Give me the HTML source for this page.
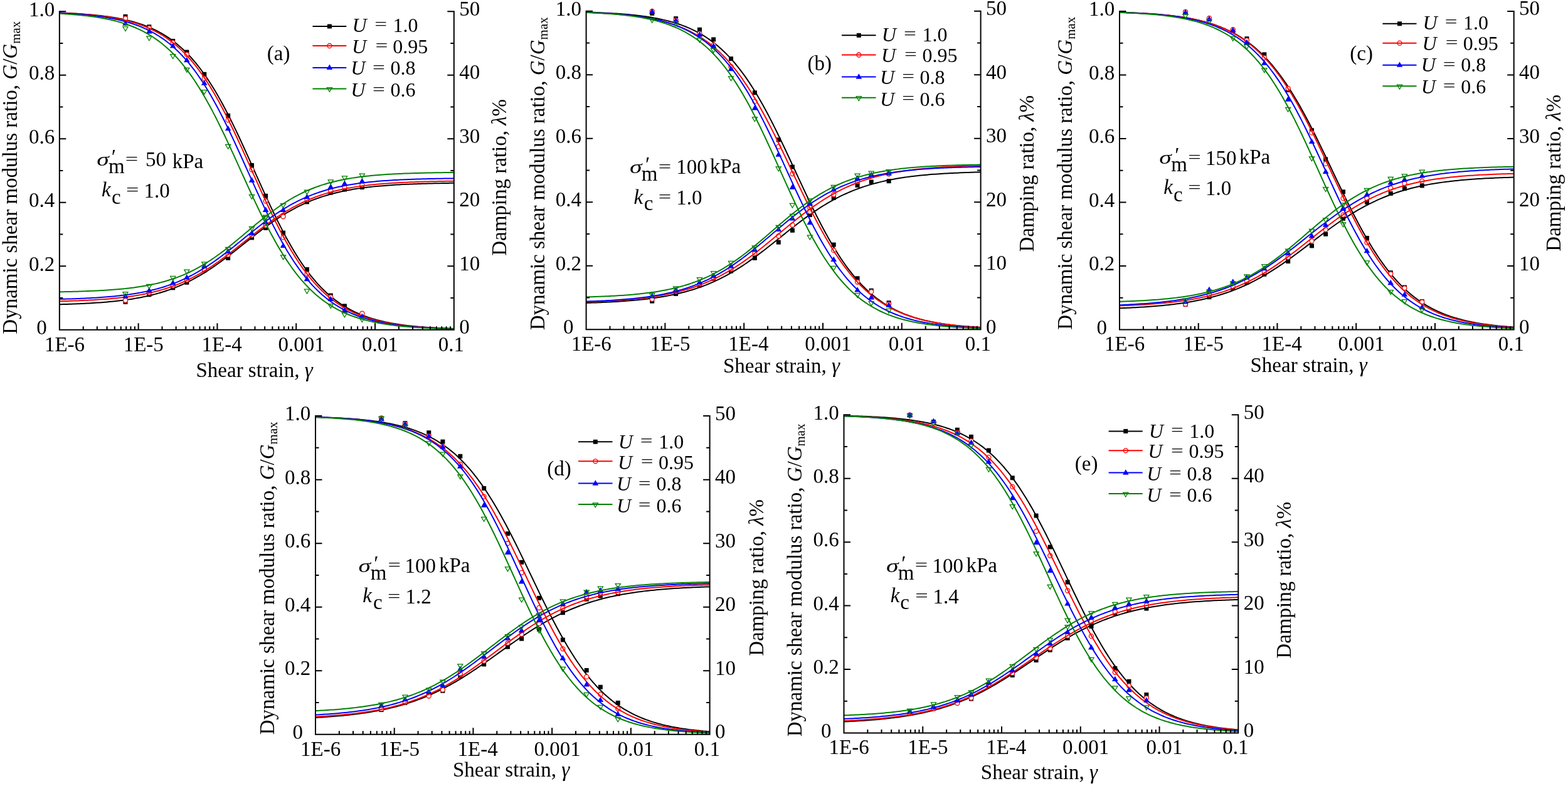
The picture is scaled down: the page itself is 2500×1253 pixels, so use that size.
<!DOCTYPE html>
<html><head><meta charset="utf-8"><style>html,body{margin:0;padding:0;background:#fff}svg{display:block}text{font-family:"Liberation Serif","Times New Roman",serif;fill:#000}</style></head>
<body><svg xmlns="http://www.w3.org/2000/svg" width="2500" height="1253" viewBox="0 0 2500 1253">
<rect width="2500" height="1253" fill="#fff"/>
<rect x="196.47" y="22.84" width="7.0" height="7.0" fill="#000"/>
<rect x="196.47" y="477.88" width="7.0" height="7.0" fill="#000"/>
<rect x="234.34" y="39.22" width="7.0" height="7.0" fill="#000"/>
<rect x="234.34" y="466.21" width="7.0" height="7.0" fill="#000"/>
<rect x="272.20" y="61.90" width="7.0" height="7.0" fill="#000"/>
<rect x="272.20" y="455.32" width="7.0" height="7.0" fill="#000"/>
<rect x="294.36" y="79.54" width="7.0" height="7.0" fill="#000"/>
<rect x="294.36" y="446.76" width="7.0" height="7.0" fill="#000"/>
<rect x="322.26" y="114.83" width="7.0" height="7.0" fill="#000"/>
<rect x="322.26" y="427.31" width="7.0" height="7.0" fill="#000"/>
<rect x="360.13" y="180.85" width="7.0" height="7.0" fill="#000"/>
<rect x="360.13" y="407.86" width="7.0" height="7.0" fill="#000"/>
<rect x="397.99" y="260.04" width="7.0" height="7.0" fill="#000"/>
<rect x="397.99" y="375.44" width="7.0" height="7.0" fill="#000"/>
<rect x="420.15" y="308.79" width="7.0" height="7.0" fill="#000"/>
<rect x="420.15" y="359.88" width="7.0" height="7.0" fill="#000"/>
<rect x="448.05" y="367.66" width="7.0" height="7.0" fill="#000"/>
<rect x="448.05" y="340.43" width="7.0" height="7.0" fill="#000"/>
<rect x="485.92" y="426.01" width="7.0" height="7.0" fill="#000"/>
<rect x="485.92" y="318.39" width="7.0" height="7.0" fill="#000"/>
<rect x="523.78" y="467.51" width="7.0" height="7.0" fill="#000"/>
<rect x="523.78" y="303.61" width="7.0" height="7.0" fill="#000"/>
<rect x="545.94" y="484.36" width="7.0" height="7.0" fill="#000"/>
<rect x="545.94" y="298.42" width="7.0" height="7.0" fill="#000"/>
<rect x="573.84" y="498.63" width="7.0" height="7.0" fill="#000"/>
<rect x="573.84" y="295.05" width="7.0" height="7.0" fill="#000"/>
<polyline points="94.85,20.43 98.01,20.55 101.17,20.68 104.33,20.82 107.49,20.96 110.65,21.11 113.81,21.27 116.97,21.44 120.13,21.62 123.29,21.81 126.46,22.01 129.62,22.22 132.78,22.44 135.94,22.68 139.10,22.92 142.26,23.19 145.42,23.46 148.58,23.75 151.74,24.06 154.90,24.39 158.06,24.73 161.22,25.10 164.38,25.48 167.54,25.88 170.70,26.31 173.86,26.76 177.02,27.24 180.18,27.74 183.35,28.27 186.51,28.83 189.67,29.41 192.83,30.04 195.99,30.69 199.15,31.38 202.31,32.11 205.47,32.88 208.63,33.68 211.79,34.54 214.95,35.43 218.11,36.38 221.27,37.37 224.43,38.42 227.59,39.53 230.75,40.69 233.91,41.91 237.07,43.19 240.24,44.54 243.40,45.96 246.56,47.45 249.72,49.02 252.88,50.67 256.04,52.39 259.20,54.21 262.36,56.11 265.52,58.10 268.68,60.19 271.84,62.38 275.00,64.67 278.16,67.07 281.32,69.57 284.48,72.20 287.64,74.94 290.80,77.80 293.96,80.78 297.13,83.89 300.29,87.14 303.45,90.51 306.61,94.03 309.77,97.68 312.93,101.48 316.09,105.42 319.25,109.51 322.41,113.75 325.57,118.13 328.73,122.67 331.89,127.36 335.05,132.20 338.21,137.19 341.37,142.33 344.53,147.61 347.69,153.05 350.85,158.62 354.02,164.34 357.18,170.20 360.34,176.18 363.50,182.30 366.66,188.53 369.82,194.88 372.98,201.34 376.14,207.90 379.30,214.55 382.46,221.29 385.62,228.10 388.78,234.98 391.94,241.91 395.10,248.89 398.26,255.91 401.42,262.95 404.58,270.00 407.74,277.06 410.91,284.11 414.07,291.14 417.23,298.14 420.39,305.11 423.55,312.02 426.71,318.87 429.87,325.65 433.03,332.35 436.19,338.97 439.35,345.48 442.51,351.90 445.67,358.20 448.83,364.39 451.99,370.45 455.15,376.38 458.31,382.18 461.47,387.83 464.63,393.35 467.80,398.72 470.96,403.95 474.12,409.03 477.28,413.95 480.44,418.73 483.60,423.35 486.76,427.83 489.92,432.15 493.08,436.32 496.24,440.35 499.40,444.23 502.56,447.97 505.72,451.56 508.88,455.02 512.04,458.34 515.20,461.53 518.36,464.59 521.52,467.52 524.69,470.33 527.85,473.02 531.01,475.59 534.17,478.05 537.33,480.41 540.49,482.65 543.65,484.80 546.81,486.85 549.97,488.80 553.13,490.67 556.29,492.44 559.45,494.13 562.61,495.75 565.77,497.28 568.93,498.74 572.09,500.13 575.25,501.45 578.41,502.71 581.58,503.91 584.74,505.04 587.90,506.12 591.06,507.15 594.22,508.12 597.38,509.05 600.54,509.93 603.70,510.76 606.86,511.55 610.02,512.30 613.18,513.01 616.34,513.69 619.50,514.33 622.66,514.94 625.82,515.51 628.98,516.06 632.14,516.58 635.30,517.07 638.47,517.53 641.63,517.97 644.79,518.39 647.95,518.79 651.11,519.16 654.27,519.51 657.43,519.85 660.59,520.17 663.75,520.47 666.91,520.76 670.07,521.03 673.23,521.28 676.39,521.52 679.55,521.75 682.71,521.97 685.87,522.18 689.03,522.37 692.19,522.56 695.36,522.73 698.52,522.90 701.68,523.05 704.84,523.20 708.00,523.34 711.16,523.47 714.32,523.60 717.48,523.72 720.64,523.83 723.80,523.94" fill="none" stroke="#000000" stroke-width="2"/>
<polyline points="94.85,485.28 98.01,485.19 101.17,485.10 104.33,485.00 107.49,484.90 110.65,484.80 113.81,484.69 116.97,484.57 120.13,484.45 123.29,484.32 126.46,484.18 129.62,484.04 132.78,483.89 135.94,483.73 139.10,483.57 142.26,483.40 145.42,483.21 148.58,483.02 151.74,482.82 154.90,482.61 158.06,482.39 161.22,482.15 164.38,481.91 167.54,481.65 170.70,481.38 173.86,481.10 177.02,480.80 180.18,480.49 183.35,480.16 186.51,479.82 189.67,479.46 192.83,479.08 195.99,478.68 199.15,478.27 202.31,477.84 205.47,477.38 208.63,476.90 211.79,476.40 214.95,475.88 218.11,475.33 221.27,474.76 224.43,474.16 227.59,473.53 230.75,472.88 233.91,472.20 237.07,471.48 240.24,470.73 243.40,469.96 246.56,469.14 249.72,468.29 252.88,467.41 256.04,466.49 259.20,465.53 262.36,464.53 265.52,463.49 268.68,462.42 271.84,461.29 275.00,460.13 278.16,458.92 281.32,457.66 284.48,456.36 287.64,455.01 290.80,453.62 293.96,452.17 297.13,450.68 300.29,449.14 303.45,447.55 306.61,445.91 309.77,444.22 312.93,442.48 316.09,440.69 319.25,438.86 322.41,436.97 325.57,435.03 328.73,433.05 331.89,431.02 335.05,428.95 338.21,426.83 341.37,424.67 344.53,422.47 347.69,420.23 350.85,417.96 354.02,415.64 357.18,413.30 360.34,410.93 363.50,408.52 366.66,406.10 369.82,403.65 372.98,401.18 376.14,398.70 379.30,396.20 382.46,393.70 385.62,391.18 388.78,388.67 391.94,386.15 395.10,383.64 398.26,381.14 401.42,378.65 404.58,376.16 407.74,373.70 410.91,371.26 414.07,368.84 417.23,366.44 420.39,364.07 423.55,361.73 426.71,359.43 429.87,357.16 433.03,354.93 436.19,352.73 439.35,350.58 442.51,348.47 445.67,346.41 448.83,344.39 451.99,342.42 455.15,340.49 458.31,338.62 461.47,336.79 464.63,335.01 467.80,333.28 470.96,331.60 474.12,329.97 477.28,328.39 480.44,326.86 483.60,325.38 486.76,323.95 489.92,322.56 493.08,321.22 496.24,319.93 499.40,318.68 502.56,317.48 505.72,316.33 508.88,315.21 512.04,314.14 515.20,313.11 518.36,312.12 521.52,311.17 524.69,310.26 527.85,309.38 531.01,308.54 534.17,307.74 537.33,306.96 540.49,306.22 543.65,305.52 546.81,304.84 549.97,304.19 553.13,303.57 556.29,302.97 559.45,302.41 562.61,301.86 565.77,301.35 568.93,300.85 572.09,300.38 575.25,299.93 578.41,299.50 581.58,299.09 584.74,298.69 587.90,298.32 591.06,297.96 594.22,297.62 597.38,297.30 600.54,296.99 603.70,296.70 606.86,296.42 610.02,296.15 613.18,295.89 616.34,295.65 619.50,295.42 622.66,295.20 625.82,294.99 628.98,294.79 632.14,294.60 635.30,294.42 638.47,294.25 641.63,294.09 644.79,293.93 647.95,293.78 651.11,293.64 654.27,293.51 657.43,293.38 660.59,293.26 663.75,293.14 666.91,293.03 670.07,292.93 673.23,292.83 676.39,292.74 679.55,292.65 682.71,292.56 685.87,292.48 689.03,292.40 692.19,292.33 695.36,292.26 698.52,292.19 701.68,292.13 704.84,292.07 708.00,292.02 711.16,291.96 714.32,291.91 717.48,291.86 720.64,291.81 723.80,291.77" fill="none" stroke="#000000" stroke-width="2"/>
<circle cx="199.97" cy="29.36" r="3.5" fill="#fff" stroke="#ff0000" stroke-width="1.3"/>
<circle cx="199.97" cy="478.79" r="3.5" fill="#fff" stroke="#ff0000" stroke-width="1.3"/>
<circle cx="237.84" cy="44.74" r="3.5" fill="#fff" stroke="#ff0000" stroke-width="1.3"/>
<circle cx="237.84" cy="466.60" r="3.5" fill="#fff" stroke="#ff0000" stroke-width="1.3"/>
<circle cx="275.70" cy="67.92" r="3.5" fill="#fff" stroke="#ff0000" stroke-width="1.3"/>
<circle cx="275.70" cy="455.45" r="3.5" fill="#fff" stroke="#ff0000" stroke-width="1.3"/>
<circle cx="297.86" cy="86.82" r="3.5" fill="#fff" stroke="#ff0000" stroke-width="1.3"/>
<circle cx="297.86" cy="446.37" r="3.5" fill="#fff" stroke="#ff0000" stroke-width="1.3"/>
<circle cx="325.76" cy="125.13" r="3.5" fill="#fff" stroke="#ff0000" stroke-width="1.3"/>
<circle cx="325.76" cy="429.51" r="3.5" fill="#fff" stroke="#ff0000" stroke-width="1.3"/>
<circle cx="363.63" cy="191.41" r="3.5" fill="#fff" stroke="#ff0000" stroke-width="1.3"/>
<circle cx="363.63" cy="406.17" r="3.5" fill="#fff" stroke="#ff0000" stroke-width="1.3"/>
<circle cx="401.49" cy="270.54" r="3.5" fill="#fff" stroke="#ff0000" stroke-width="1.3"/>
<circle cx="401.49" cy="375.05" r="3.5" fill="#fff" stroke="#ff0000" stroke-width="1.3"/>
<circle cx="423.65" cy="320.59" r="3.5" fill="#fff" stroke="#ff0000" stroke-width="1.3"/>
<circle cx="423.65" cy="359.49" r="3.5" fill="#fff" stroke="#ff0000" stroke-width="1.3"/>
<circle cx="451.55" cy="378.42" r="3.5" fill="#fff" stroke="#ff0000" stroke-width="1.3"/>
<circle cx="451.55" cy="345.23" r="3.5" fill="#fff" stroke="#ff0000" stroke-width="1.3"/>
<circle cx="489.42" cy="436.51" r="3.5" fill="#fff" stroke="#ff0000" stroke-width="1.3"/>
<circle cx="489.42" cy="318.00" r="3.5" fill="#fff" stroke="#ff0000" stroke-width="1.3"/>
<circle cx="527.28" cy="473.60" r="3.5" fill="#fff" stroke="#ff0000" stroke-width="1.3"/>
<circle cx="527.28" cy="303.73" r="3.5" fill="#fff" stroke="#ff0000" stroke-width="1.3"/>
<circle cx="549.44" cy="493.05" r="3.5" fill="#fff" stroke="#ff0000" stroke-width="1.3"/>
<circle cx="549.44" cy="298.55" r="3.5" fill="#fff" stroke="#ff0000" stroke-width="1.3"/>
<circle cx="577.34" cy="499.53" r="3.5" fill="#fff" stroke="#ff0000" stroke-width="1.3"/>
<circle cx="577.34" cy="294.66" r="3.5" fill="#fff" stroke="#ff0000" stroke-width="1.3"/>
<polyline points="94.85,20.58 98.01,20.71 101.17,20.84 104.33,20.99 107.49,21.14 110.65,21.30 113.81,21.47 116.97,21.65 120.13,21.84 123.29,22.04 126.46,22.26 129.62,22.48 132.78,22.72 135.94,22.97 139.10,23.23 142.26,23.51 145.42,23.81 148.58,24.12 151.74,24.45 154.90,24.80 158.06,25.16 161.22,25.55 164.38,25.96 167.54,26.39 170.70,26.85 173.86,27.33 177.02,27.83 180.18,28.37 183.35,28.93 186.51,29.53 189.67,30.15 192.83,30.82 195.99,31.51 199.15,32.25 202.31,33.02 205.47,33.84 208.63,34.70 211.79,35.61 214.95,36.56 218.11,37.57 221.27,38.63 224.43,39.74 227.59,40.92 230.75,42.15 233.91,43.45 237.07,44.81 240.24,46.24 243.40,47.75 246.56,49.33 249.72,50.99 252.88,52.74 256.04,54.57 259.20,56.49 262.36,58.50 265.52,60.61 268.68,62.82 271.84,65.13 275.00,67.55 278.16,70.08 281.32,72.73 284.48,75.49 287.64,78.38 290.80,81.39 293.96,84.53 297.13,87.80 300.29,91.21 303.45,94.75 306.61,98.44 309.77,102.26 312.93,106.24 316.09,110.36 319.25,114.63 322.41,119.04 325.57,123.61 328.73,128.33 331.89,133.21 335.05,138.23 338.21,143.40 341.37,148.72 344.53,154.19 347.69,159.80 350.85,165.54 354.02,171.43 357.18,177.44 360.34,183.59 363.50,189.85 366.66,196.22 369.82,202.71 372.98,209.29 376.14,215.96 379.30,222.72 382.46,229.55 385.62,236.44 388.78,243.39 391.94,250.38 395.10,257.41 398.26,264.45 401.42,271.51 404.58,278.57 407.74,285.62 410.91,292.65 414.07,299.65 417.23,306.60 420.39,313.50 423.55,320.34 426.71,327.11 429.87,333.80 433.03,340.40 436.19,346.89 439.35,353.29 442.51,359.57 445.67,365.73 448.83,371.76 451.99,377.67 455.15,383.44 458.31,389.07 461.47,394.56 464.63,399.90 467.80,405.09 470.96,410.14 474.12,415.03 477.28,419.78 480.44,424.37 483.60,428.81 486.76,433.10 489.92,437.24 493.08,441.24 496.24,445.09 499.40,448.80 502.56,452.36 505.72,455.79 508.88,459.08 512.04,462.24 515.20,465.27 518.36,468.17 521.52,470.96 524.69,473.62 527.85,476.17 531.01,478.61 534.17,480.94 537.33,483.16 540.49,485.28 543.65,487.31 546.81,489.24 549.97,491.09 553.13,492.85 556.29,494.52 559.45,496.11 562.61,497.63 565.77,499.08 568.93,500.45 572.09,501.76 575.25,503.00 578.41,504.18 581.58,505.31 584.74,506.37 587.90,507.39 591.06,508.35 594.22,509.26 597.38,510.13 600.54,510.95 603.70,511.74 606.86,512.48 610.02,513.18 613.18,513.85 616.34,514.48 619.50,515.08 622.66,515.65 625.82,516.19 628.98,516.70 632.14,517.18 635.30,517.64 638.47,518.08 641.63,518.49 644.79,518.88 647.95,519.25 651.11,519.60 654.27,519.93 657.43,520.25 660.59,520.54 663.75,520.82 666.91,521.09 670.07,521.34 673.23,521.58 676.39,521.81 679.55,522.02 682.71,522.23 685.87,522.42 689.03,522.60 692.19,522.77 695.36,522.94 698.52,523.09 701.68,523.24 704.84,523.37 708.00,523.51 711.16,523.63 714.32,523.75 717.48,523.86 720.64,523.96 723.80,524.06" fill="none" stroke="#ff0000" stroke-width="2"/>
<polyline points="94.85,480.26 98.01,480.18 101.17,480.10 104.33,480.01 107.49,479.92 110.65,479.82 113.81,479.72 116.97,479.61 120.13,479.50 123.29,479.38 126.46,479.26 129.62,479.12 132.78,478.99 135.94,478.84 139.10,478.69 142.26,478.53 145.42,478.36 148.58,478.18 151.74,477.99 154.90,477.80 158.06,477.59 161.22,477.37 164.38,477.15 167.54,476.91 170.70,476.66 173.86,476.39 177.02,476.11 180.18,475.82 183.35,475.52 186.51,475.19 189.67,474.86 192.83,474.50 195.99,474.13 199.15,473.74 202.31,473.33 205.47,472.90 208.63,472.45 211.79,471.98 214.95,471.49 218.11,470.97 221.27,470.43 224.43,469.86 227.59,469.27 230.75,468.65 233.91,468.00 237.07,467.32 240.24,466.61 243.40,465.87 246.56,465.09 249.72,464.29 252.88,463.44 256.04,462.56 259.20,461.64 262.36,460.69 265.52,459.69 268.68,458.65 271.84,457.57 275.00,456.45 278.16,455.29 281.32,454.07 284.48,452.82 287.64,451.51 290.80,450.16 293.96,448.76 297.13,447.32 300.29,445.82 303.45,444.27 306.61,442.68 309.77,441.03 312.93,439.33 316.09,437.58 319.25,435.78 322.41,433.94 325.57,432.04 328.73,430.09 331.89,428.10 335.05,426.06 338.21,423.97 341.37,421.84 344.53,419.66 347.69,417.45 350.85,415.20 354.02,412.91 357.18,410.58 360.34,408.22 363.50,405.83 366.66,403.42 369.82,400.98 372.98,398.52 376.14,396.04 379.30,393.55 382.46,391.04 385.62,388.53 388.78,386.01 391.94,383.49 395.10,380.97 398.26,378.46 401.42,375.96 404.58,373.46 407.74,370.99 410.91,368.53 414.07,366.09 417.23,363.68 420.39,361.29 423.55,358.93 426.71,356.61 429.87,354.32 433.03,352.07 436.19,349.86 439.35,347.68 442.51,345.56 445.67,343.47 448.83,341.43 451.99,339.44 455.15,337.50 458.31,335.60 461.47,333.76 464.63,331.96 467.80,330.21 470.96,328.52 474.12,326.87 477.28,325.28 480.44,323.74 483.60,322.24 486.76,320.80 489.92,319.40 493.08,318.05 496.24,316.75 499.40,315.49 502.56,314.29 505.72,313.12 508.88,312.00 512.04,310.93 515.20,309.89 518.36,308.90 521.52,307.94 524.69,307.03 527.85,306.15 531.01,305.31 534.17,304.50 537.33,303.73 540.49,302.99 543.65,302.28 546.81,301.60 549.97,300.95 553.13,300.33 556.29,299.74 559.45,299.17 562.61,298.63 565.77,298.12 568.93,297.62 572.09,297.15 575.25,296.71 578.41,296.28 581.58,295.87 584.74,295.48 587.90,295.11 591.06,294.76 594.22,294.42 597.38,294.10 600.54,293.80 603.70,293.50 606.86,293.23 610.02,292.96 613.18,292.71 616.34,292.47 619.50,292.25 622.66,292.03 625.82,291.82 628.98,291.63 632.14,291.44 635.30,291.27 638.47,291.10 641.63,290.94 644.79,290.78 647.95,290.64 651.11,290.50 654.27,290.37 657.43,290.25 660.59,290.13 663.75,290.02 666.91,289.91 670.07,289.81 673.23,289.71 676.39,289.62 679.55,289.53 682.71,289.45 685.87,289.37 689.03,289.30 692.19,289.22 695.36,289.16 698.52,289.09 701.68,289.03 704.84,288.97 708.00,288.92 711.16,288.87 714.32,288.82 717.48,288.77 720.64,288.73 723.80,288.68" fill="none" stroke="#ff0000" stroke-width="2"/>
<path d="M199.97,32.38L204.77,40.78L195.17,40.78Z" fill="#0000ff"/>
<path d="M199.97,467.00L204.77,475.40L195.17,475.40Z" fill="#0000ff"/>
<path d="M237.84,44.98L242.64,53.38L233.04,53.38Z" fill="#0000ff"/>
<path d="M237.84,457.93L242.64,466.33L233.04,466.33Z" fill="#0000ff"/>
<path d="M275.70,68.17L280.50,76.57L270.90,76.57Z" fill="#0000ff"/>
<path d="M275.70,445.74L280.50,454.14L270.90,454.14Z" fill="#0000ff"/>
<path d="M297.86,90.85L302.66,99.25L293.06,99.25Z" fill="#0000ff"/>
<path d="M297.86,437.18L302.66,445.58L293.06,445.58Z" fill="#0000ff"/>
<path d="M325.76,127.39L330.56,135.79L320.96,135.79Z" fill="#0000ff"/>
<path d="M325.76,419.03L330.56,427.43L320.96,427.43Z" fill="#0000ff"/>
<path d="M363.63,199.97L368.43,208.37L358.83,208.37Z" fill="#0000ff"/>
<path d="M363.63,395.69L368.43,404.09L358.83,404.09Z" fill="#0000ff"/>
<path d="M401.49,282.36L406.29,290.76L396.69,290.76Z" fill="#0000ff"/>
<path d="M401.49,366.38L406.29,374.78L396.69,374.78Z" fill="#0000ff"/>
<path d="M423.65,329.55L428.45,337.95L418.85,337.95Z" fill="#0000ff"/>
<path d="M423.65,349.00L428.45,357.40L418.85,357.40Z" fill="#0000ff"/>
<path d="M451.55,386.61L456.35,395.01L446.75,395.01Z" fill="#0000ff"/>
<path d="M451.55,329.55L456.35,337.95L446.75,337.95Z" fill="#0000ff"/>
<path d="M489.42,439.77L494.22,448.17L484.62,448.17Z" fill="#0000ff"/>
<path d="M489.42,308.81L494.22,317.21L484.62,317.21Z" fill="#0000ff"/>
<path d="M527.28,471.67L532.08,480.07L522.48,480.07Z" fill="#0000ff"/>
<path d="M527.28,292.73L532.08,301.13L522.48,301.13Z" fill="#0000ff"/>
<path d="M549.44,489.82L554.24,498.22L544.64,498.22Z" fill="#0000ff"/>
<path d="M549.44,287.54L554.24,295.94L544.64,295.94Z" fill="#0000ff"/>
<path d="M577.34,499.42L582.14,507.82L572.54,507.82Z" fill="#0000ff"/>
<path d="M577.34,283.65L582.14,292.05L572.54,292.05Z" fill="#0000ff"/>
<polyline points="94.85,20.92 98.01,21.07 101.17,21.23 104.33,21.40 107.49,21.57 110.65,21.76 113.81,21.95 116.97,22.16 120.13,22.38 123.29,22.61 126.46,22.85 129.62,23.11 132.78,23.38 135.94,23.67 139.10,23.97 142.26,24.29 145.42,24.63 148.58,24.98 151.74,25.36 154.90,25.75 158.06,26.17 161.22,26.61 164.38,27.08 167.54,27.57 170.70,28.09 173.86,28.64 177.02,29.21 180.18,29.82 183.35,30.46 186.51,31.14 189.67,31.85 192.83,32.60 195.99,33.39 199.15,34.23 202.31,35.10 205.47,36.03 208.63,37.00 211.79,38.03 214.95,39.10 218.11,40.24 221.27,41.43 224.43,42.69 227.59,44.01 230.75,45.40 233.91,46.85 237.07,48.39 240.24,49.99 243.40,51.68 246.56,53.45 249.72,55.31 252.88,57.26 256.04,59.30 259.20,61.44 262.36,63.68 265.52,66.02 268.68,68.48 271.84,71.04 275.00,73.72 278.16,76.51 281.32,79.43 284.48,82.48 287.64,85.65 290.80,88.96 293.96,92.40 297.13,95.98 300.29,99.69 303.45,103.55 306.61,107.56 309.77,111.71 312.93,116.01 316.09,120.46 319.25,125.06 322.41,129.81 325.57,134.71 328.73,139.76 331.89,144.96 335.05,150.30 338.21,155.79 341.37,161.41 344.53,167.18 347.69,173.08 350.85,179.11 354.02,185.26 357.18,191.53 360.34,197.91 363.50,204.39 366.66,210.98 369.82,217.65 372.98,224.40 376.14,231.22 379.30,238.10 382.46,245.03 385.62,252.00 388.78,259.01 391.94,266.03 395.10,273.07 398.26,280.10 401.42,287.12 404.58,294.12 407.74,301.08 410.91,308.00 414.07,314.86 417.23,321.66 420.39,328.39 423.55,335.04 426.71,341.59 429.87,348.05 433.03,354.40 436.19,360.63 439.35,366.75 442.51,372.74 445.67,378.60 448.83,384.33 451.99,389.92 455.15,395.36 458.31,400.66 461.47,405.82 464.63,410.82 467.80,415.68 470.96,420.38 474.12,424.94 477.28,429.35 480.44,433.60 483.60,437.71 486.76,441.68 489.92,445.50 493.08,449.17 496.24,452.71 499.40,456.11 502.56,459.38 505.72,462.52 508.88,465.52 512.04,468.41 515.20,471.17 518.36,473.81 521.52,476.35 524.69,478.77 527.85,481.08 531.01,483.29 534.17,485.40 537.33,487.41 540.49,489.34 543.65,491.17 546.81,492.91 549.97,494.58 553.13,496.17 556.29,497.68 559.45,499.11 562.61,500.48 565.77,501.78 568.93,503.02 572.09,504.19 575.25,505.31 578.41,506.38 581.58,507.39 584.74,508.34 587.90,509.26 591.06,510.12 594.22,510.94 597.38,511.72 600.54,512.46 603.70,513.16 606.86,513.83 610.02,514.46 613.18,515.06 616.34,515.63 619.50,516.16 622.66,516.67 625.82,517.16 628.98,517.62 632.14,518.05 635.30,518.46 638.47,518.85 641.63,519.22 644.79,519.57 647.95,519.91 651.11,520.22 654.27,520.52 657.43,520.80 660.59,521.07 663.75,521.32 666.91,521.56 670.07,521.79 673.23,522.00 676.39,522.20 679.55,522.40 682.71,522.58 685.87,522.75 689.03,522.92 692.19,523.07 695.36,523.22 698.52,523.36 701.68,523.49 704.84,523.61 708.00,523.73 711.16,523.84 714.32,523.95 717.48,524.05 720.64,524.14 723.80,524.23" fill="none" stroke="#0000ff" stroke-width="2"/>
<polyline points="94.85,476.93 98.01,476.85 101.17,476.77 104.33,476.68 107.49,476.59 110.65,476.49 113.81,476.39 116.97,476.28 120.13,476.17 123.29,476.05 126.46,475.93 129.62,475.79 132.78,475.66 135.94,475.51 139.10,475.36 142.26,475.19 145.42,475.02 148.58,474.84 151.74,474.66 154.90,474.46 158.06,474.25 161.22,474.03 164.38,473.80 167.54,473.56 170.70,473.30 173.86,473.03 177.02,472.75 180.18,472.45 183.35,472.14 186.51,471.82 189.67,471.47 192.83,471.11 195.99,470.73 199.15,470.34 202.31,469.92 205.47,469.48 208.63,469.02 211.79,468.54 214.95,468.04 218.11,467.51 221.27,466.95 224.43,466.37 227.59,465.76 230.75,465.13 233.91,464.46 237.07,463.76 240.24,463.03 243.40,462.27 246.56,461.48 249.72,460.64 252.88,459.78 256.04,458.87 259.20,457.92 262.36,456.94 265.52,455.91 268.68,454.84 271.84,453.73 275.00,452.57 278.16,451.37 281.32,450.12 284.48,448.82 287.64,447.48 290.80,446.08 293.96,444.64 297.13,443.14 300.29,441.60 303.45,440.00 306.61,438.35 309.77,436.65 312.93,434.89 316.09,433.09 319.25,431.23 322.41,429.32 325.57,427.37 328.73,425.36 331.89,423.30 335.05,421.20 338.21,419.05 341.37,416.85 344.53,414.61 347.69,412.33 350.85,410.01 354.02,407.66 357.18,405.27 360.34,402.85 363.50,400.40 366.66,397.93 369.82,395.43 372.98,392.91 376.14,390.38 379.30,387.83 382.46,385.27 385.62,382.71 388.78,380.15 391.94,377.59 395.10,375.03 398.26,372.48 401.42,369.94 404.58,367.42 407.74,364.91 410.91,362.43 414.07,359.97 417.23,357.55 420.39,355.15 423.55,352.78 426.71,350.45 429.87,348.16 433.03,345.91 436.19,343.70 439.35,341.53 442.51,339.42 445.67,337.34 448.83,335.32 451.99,333.35 455.15,331.42 458.31,329.55 461.47,327.73 464.63,325.96 467.80,324.24 470.96,322.58 474.12,320.96 477.28,319.40 480.44,317.89 483.60,316.43 486.76,315.02 489.92,313.66 493.08,312.35 496.24,311.08 499.40,309.86 502.56,308.69 505.72,307.57 508.88,306.48 512.04,305.45 515.20,304.45 518.36,303.49 521.52,302.57 524.69,301.69 527.85,300.85 531.01,300.04 534.17,299.27 537.33,298.53 540.49,297.82 543.65,297.15 546.81,296.50 549.97,295.88 553.13,295.29 556.29,294.73 559.45,294.20 562.61,293.68 565.77,293.19 568.93,292.73 572.09,292.28 575.25,291.86 578.41,291.46 581.58,291.07 584.74,290.71 587.90,290.36 591.06,290.03 594.22,289.71 597.38,289.41 600.54,289.12 603.70,288.85 606.86,288.59 610.02,288.35 613.18,288.11 616.34,287.89 619.50,287.68 622.66,287.48 625.82,287.28 628.98,287.10 632.14,286.93 635.30,286.76 638.47,286.61 641.63,286.46 644.79,286.32 647.95,286.18 651.11,286.06 654.27,285.94 657.43,285.82 660.59,285.71 663.75,285.61 666.91,285.51 670.07,285.42 673.23,285.33 676.39,285.24 679.55,285.16 682.71,285.09 685.87,285.02 689.03,284.95 692.19,284.88 695.36,284.82 698.52,284.76 701.68,284.71 704.84,284.65 708.00,284.60 711.16,284.56 714.32,284.51 717.48,284.47 720.64,284.43 723.80,284.39" fill="none" stroke="#0000ff" stroke-width="2"/>
<path d="M199.97,49.64L204.07,42.74L195.87,42.74Z" fill="none" stroke="#008000" stroke-width="1.25"/>
<path d="M199.97,472.53L204.07,465.63L195.87,465.63Z" fill="none" stroke="#008000" stroke-width="1.25"/>
<path d="M237.84,64.76L241.94,57.86L233.74,57.86Z" fill="none" stroke="#008000" stroke-width="1.25"/>
<path d="M237.84,460.35L241.94,453.45L233.74,453.45Z" fill="none" stroke="#008000" stroke-width="1.25"/>
<path d="M275.70,93.49L279.80,86.59L271.60,86.59Z" fill="none" stroke="#008000" stroke-width="1.25"/>
<path d="M275.70,447.38L279.80,440.48L271.60,440.48Z" fill="none" stroke="#008000" stroke-width="1.25"/>
<path d="M297.86,115.16L301.96,108.26L293.76,108.26Z" fill="none" stroke="#008000" stroke-width="1.25"/>
<path d="M297.86,437.01L301.96,430.11L293.76,430.11Z" fill="none" stroke="#008000" stroke-width="1.25"/>
<path d="M325.76,150.44L329.86,143.54L321.66,143.54Z" fill="none" stroke="#008000" stroke-width="1.25"/>
<path d="M325.76,424.82L329.86,417.92L321.66,417.92Z" fill="none" stroke="#008000" stroke-width="1.25"/>
<path d="M363.63,237.32L367.73,230.42L359.53,230.42Z" fill="none" stroke="#008000" stroke-width="1.25"/>
<path d="M363.63,401.22L367.73,394.32L359.53,394.32Z" fill="none" stroke="#008000" stroke-width="1.25"/>
<path d="M401.49,317.19L405.59,310.29L397.39,310.29Z" fill="none" stroke="#008000" stroke-width="1.25"/>
<path d="M401.49,368.28L405.59,361.38L397.39,361.38Z" fill="none" stroke="#008000" stroke-width="1.25"/>
<path d="M423.65,351.42L427.75,344.52L419.55,344.52Z" fill="none" stroke="#008000" stroke-width="1.25"/>
<path d="M423.65,350.13L427.75,343.23L419.55,343.23Z" fill="none" stroke="#008000" stroke-width="1.25"/>
<path d="M451.55,413.67L455.65,406.77L447.45,406.77Z" fill="none" stroke="#008000" stroke-width="1.25"/>
<path d="M451.55,331.46L455.65,324.56L447.45,324.56Z" fill="none" stroke="#008000" stroke-width="1.25"/>
<path d="M489.42,468.13L493.52,461.23L485.32,461.23Z" fill="none" stroke="#008000" stroke-width="1.25"/>
<path d="M489.42,309.93L493.52,303.03L485.32,303.03Z" fill="none" stroke="#008000" stroke-width="1.25"/>
<path d="M527.28,491.47L531.38,484.57L523.18,484.57Z" fill="none" stroke="#008000" stroke-width="1.25"/>
<path d="M527.28,293.85L531.38,286.95L523.18,286.95Z" fill="none" stroke="#008000" stroke-width="1.25"/>
<path d="M549.44,505.73L553.54,498.83L545.34,498.83Z" fill="none" stroke="#008000" stroke-width="1.25"/>
<path d="M549.44,287.89L553.54,280.99L545.34,280.99Z" fill="none" stroke="#008000" stroke-width="1.25"/>
<path d="M577.34,513.51L581.44,506.61L573.24,506.61Z" fill="none" stroke="#008000" stroke-width="1.25"/>
<path d="M577.34,284.00L581.44,277.10L573.24,277.10Z" fill="none" stroke="#008000" stroke-width="1.25"/>
<polyline points="94.85,21.59 98.01,21.78 101.17,21.97 104.33,22.18 107.49,22.40 110.65,22.63 113.81,22.87 116.97,23.13 120.13,23.40 123.29,23.68 126.46,23.98 129.62,24.30 132.78,24.64 135.94,24.99 139.10,25.36 142.26,25.76 145.42,26.17 148.58,26.61 151.74,27.07 154.90,27.56 158.06,28.07 161.22,28.61 164.38,29.18 167.54,29.78 170.70,30.42 173.86,31.09 177.02,31.79 180.18,32.53 183.35,33.31 186.51,34.13 189.67,35.00 192.83,35.91 195.99,36.87 199.15,37.88 202.31,38.94 205.47,40.06 208.63,41.23 211.79,42.47 214.95,43.77 218.11,45.13 221.27,46.56 224.43,48.07 227.59,49.65 230.75,51.30 233.91,53.04 237.07,54.87 240.24,56.78 243.40,58.78 246.56,60.87 249.72,63.07 252.88,65.37 256.04,67.77 259.20,70.28 262.36,72.90 265.52,75.64 268.68,78.50 271.84,81.48 275.00,84.58 278.16,87.82 281.32,91.18 284.48,94.68 287.64,98.32 290.80,102.10 293.96,106.02 297.13,110.08 300.29,114.29 303.45,118.64 306.61,123.15 309.77,127.80 312.93,132.59 316.09,137.54 319.25,142.63 322.41,147.86 325.57,153.24 328.73,158.76 331.89,164.41 335.05,170.20 338.21,176.12 341.37,182.16 344.53,188.32 347.69,194.60 350.85,200.98 354.02,207.46 357.18,214.03 360.34,220.68 363.50,227.41 366.66,234.20 369.82,241.05 372.98,247.95 376.14,254.88 379.30,261.84 382.46,268.81 385.62,275.79 388.78,282.76 391.94,289.72 395.10,296.65 398.26,303.54 401.42,310.38 404.58,317.17 407.74,323.90 410.91,330.54 414.07,337.11 417.23,343.58 420.39,349.95 423.55,356.22 426.71,362.37 429.87,368.41 433.03,374.31 436.19,380.09 439.35,385.74 442.51,391.25 445.67,396.62 448.83,401.84 451.99,406.92 455.15,411.85 458.31,416.64 461.47,421.28 464.63,425.77 467.80,430.11 470.96,434.31 474.12,438.36 477.28,442.27 480.44,446.04 483.60,449.67 486.76,453.16 489.92,456.52 493.08,459.74 496.24,462.84 499.40,465.81 502.56,468.66 505.72,471.39 508.88,474.00 512.04,476.51 515.20,478.90 518.36,481.19 521.52,483.38 524.69,485.47 527.85,487.46 531.01,489.37 534.17,491.18 537.33,492.92 540.49,494.57 543.65,496.14 546.81,497.64 549.97,499.07 553.13,500.43 556.29,501.72 559.45,502.95 562.61,504.12 565.77,505.24 568.93,506.29 572.09,507.30 575.25,508.26 578.41,509.16 581.58,510.03 584.74,510.85 587.90,511.62 591.06,512.36 594.22,513.06 597.38,513.73 600.54,514.36 603.70,514.96 606.86,515.53 610.02,516.07 613.18,516.58 616.34,517.06 619.50,517.52 622.66,517.96 625.82,518.37 628.98,518.76 632.14,519.14 635.30,519.49 638.47,519.82 641.63,520.14 644.79,520.44 647.95,520.72 651.11,520.99 654.27,521.25 657.43,521.49 660.59,521.72 663.75,521.93 666.91,522.14 670.07,522.33 673.23,522.52 676.39,522.69 679.55,522.86 682.71,523.01 685.87,523.16 689.03,523.30 692.19,523.44 695.36,523.56 698.52,523.68 701.68,523.79 704.84,523.90 708.00,524.00 711.16,524.10 714.32,524.19 717.48,524.28 720.64,524.36 723.80,524.43" fill="none" stroke="#008000" stroke-width="2"/>
<polyline points="94.85,465.30 98.01,465.24 101.17,465.18 104.33,465.12 107.49,465.05 110.65,464.97 113.81,464.90 116.97,464.82 120.13,464.73 123.29,464.64 126.46,464.55 129.62,464.45 132.78,464.34 135.94,464.23 139.10,464.11 142.26,463.99 145.42,463.86 148.58,463.72 151.74,463.57 154.90,463.42 158.06,463.26 161.22,463.08 164.38,462.90 167.54,462.71 170.70,462.51 173.86,462.30 177.02,462.07 180.18,461.83 183.35,461.59 186.51,461.32 189.67,461.04 192.83,460.75 195.99,460.44 199.15,460.12 202.31,459.78 205.47,459.42 208.63,459.04 211.79,458.64 214.95,458.22 218.11,457.78 221.27,457.32 224.43,456.83 227.59,456.31 230.75,455.77 233.91,455.21 237.07,454.61 240.24,453.99 243.40,453.33 246.56,452.64 249.72,451.92 252.88,451.17 256.04,450.37 259.20,449.54 262.36,448.67 265.52,447.76 268.68,446.81 271.84,445.82 275.00,444.78 278.16,443.70 281.32,442.57 284.48,441.39 287.64,440.16 290.80,438.88 293.96,437.55 297.13,436.16 300.29,434.73 303.45,433.24 306.61,431.69 309.77,430.09 312.93,428.43 316.09,426.71 319.25,424.94 322.41,423.11 325.57,421.22 328.73,419.28 331.89,417.28 335.05,415.23 338.21,413.12 341.37,410.96 344.53,408.75 347.69,406.49 350.85,404.19 354.02,401.83 357.18,399.43 360.34,397.00 363.50,394.52 366.66,392.01 369.82,389.47 372.98,386.90 376.14,384.30 379.30,381.69 382.46,379.05 385.62,376.41 388.78,373.75 391.94,371.09 395.10,368.43 398.26,365.77 401.42,363.12 404.58,360.47 407.74,357.85 410.91,355.24 414.07,352.65 417.23,350.10 420.39,347.57 423.55,345.07 426.71,342.61 429.87,340.19 433.03,337.81 436.19,335.48 439.35,333.19 442.51,330.95 445.67,328.76 448.83,326.62 451.99,324.54 455.15,322.51 458.31,320.54 461.47,318.62 464.63,316.76 467.80,314.95 470.96,313.20 474.12,311.51 477.28,309.88 480.44,308.30 483.60,306.77 486.76,305.31 489.92,303.89 493.08,302.53 496.24,301.22 499.40,299.97 502.56,298.76 505.72,297.60 508.88,296.49 512.04,295.42 515.20,294.41 518.36,293.43 521.52,292.50 524.69,291.60 527.85,290.75 531.01,289.94 534.17,289.16 537.33,288.42 540.49,287.71 543.65,287.04 546.81,286.40 549.97,285.78 553.13,285.20 556.29,284.65 559.45,284.12 562.61,283.62 565.77,283.14 568.93,282.68 572.09,282.25 575.25,281.84 578.41,281.45 581.58,281.08 584.74,280.73 587.90,280.39 591.06,280.08 594.22,279.78 597.38,279.49 600.54,279.22 603.70,278.96 606.86,278.72 610.02,278.49 613.18,278.27 616.34,278.06 619.50,277.86 622.66,277.67 625.82,277.50 628.98,277.33 632.14,277.17 635.30,277.02 638.47,276.88 641.63,276.74 644.79,276.61 647.95,276.49 651.11,276.38 654.27,276.27 657.43,276.16 660.59,276.06 663.75,275.97 666.91,275.88 670.07,275.80 673.23,275.72 676.39,275.65 679.55,275.58 682.71,275.51 685.87,275.45 689.03,275.39 692.19,275.33 695.36,275.28 698.52,275.23 701.68,275.18 704.84,275.13 708.00,275.09 711.16,275.05 714.32,275.01 717.48,274.98 720.64,274.94 723.80,274.91" fill="none" stroke="#008000" stroke-width="2"/>
<path d="M94.85,17.30V525.80H723.80V17.30 M94.85,525.80h10.5 M723.80,525.80h-10.5 M94.85,475.05h5.5 M723.80,475.05h-5.5 M94.85,424.30h10.5 M723.80,424.30h-10.5 M94.85,373.55h5.5 M723.80,373.55h-5.5 M94.85,322.80h10.5 M723.80,322.80h-10.5 M94.85,272.05h5.5 M723.80,272.05h-5.5 M94.85,221.30h10.5 M723.80,221.30h-10.5 M94.85,170.55h5.5 M723.80,170.55h-5.5 M94.85,119.80h10.5 M723.80,119.80h-10.5 M94.85,69.05h5.5 M723.80,69.05h-5.5 M94.85,18.30h10.5 M723.80,18.30h-10.5 M132.72,525.80v-5.5 M154.87,525.80v-5.5 M170.58,525.80v-5.5 M182.77,525.80v-5.5 M192.73,525.80v-5.5 M201.15,525.80v-5.5 M208.45,525.80v-5.5 M214.88,525.80v-5.5 M220.64,525.80v-10.5 M258.51,525.80v-5.5 M280.66,525.80v-5.5 M296.37,525.80v-5.5 M308.56,525.80v-5.5 M318.52,525.80v-5.5 M326.94,525.80v-5.5 M334.24,525.80v-5.5 M340.67,525.80v-5.5 M346.43,525.80v-10.5 M384.30,525.80v-5.5 M406.45,525.80v-5.5 M422.16,525.80v-5.5 M434.35,525.80v-5.5 M444.31,525.80v-5.5 M452.73,525.80v-5.5 M460.03,525.80v-5.5 M466.46,525.80v-5.5 M472.22,525.80v-10.5 M510.09,525.80v-5.5 M532.24,525.80v-5.5 M547.95,525.80v-5.5 M560.14,525.80v-5.5 M570.10,525.80v-5.5 M578.52,525.80v-5.5 M585.82,525.80v-5.5 M592.25,525.80v-5.5 M598.01,525.80v-10.5 M635.88,525.80v-5.5 M658.03,525.80v-5.5 M673.74,525.80v-5.5 M685.93,525.80v-5.5 M695.89,525.80v-5.5 M704.31,525.80v-5.5 M711.61,525.80v-5.5 M718.04,525.80v-5.5" fill="none" stroke="#000" stroke-width="2"/>
<text x="66.55" y="533.00" text-anchor="middle" font-size="33">0</text>
<text x="732.20" y="532.30" font-size="33">0</text>
<text x="66.55" y="431.50" text-anchor="middle" font-size="33">0.2</text>
<text x="732.20" y="430.80" font-size="33">10</text>
<text x="66.55" y="330.00" text-anchor="middle" font-size="33">0.4</text>
<text x="732.20" y="329.30" font-size="33">20</text>
<text x="66.55" y="228.50" text-anchor="middle" font-size="33">0.6</text>
<text x="732.20" y="227.80" font-size="33">30</text>
<text x="66.55" y="127.00" text-anchor="middle" font-size="33">0.8</text>
<text x="732.20" y="126.30" font-size="33">40</text>
<text x="66.55" y="25.50" text-anchor="middle" font-size="33">1.0</text>
<text x="732.20" y="24.80" font-size="33">50</text>
<text x="70.92" y="559.50" font-size="33">1E-6</text>
<text x="196.66" y="559.50" font-size="33">1E-5</text>
<text x="321.56" y="559.50" font-size="33">1E-4</text>
<text x="443.46" y="559.50" font-size="33">0.001</text>
<text x="577.00" y="559.50" font-size="33">0.01</text>
<text x="698.84" y="559.50" font-size="33">0.1</text>
<line x1="498.4" y1="42.0" x2="552.3" y2="42.0" stroke="#000000" stroke-width="2"/>
<rect x="521.90" y="38.50" width="7.0" height="7.0" fill="#000"/>
<text x="561.46" y="51.00" font-style="italic" font-size="32">U</text>
<text x="598.25" y="49.22" font-size="32" transform="translate(607.29,38.60) scale(1.1,0.72) translate(-607.29,-38.60)">=</text>
<text x="626.39" y="51.00" font-size="32">1.0</text>
<line x1="498.4" y1="73.0" x2="552.3" y2="73.0" stroke="#ff0000" stroke-width="2"/>
<circle cx="525.40" cy="73.00" r="3.5" fill="none" stroke="#ff0000" stroke-width="1.3"/>
<text x="560.96" y="84.50" font-style="italic" font-size="32">U</text>
<text x="599.35" y="82.72" font-size="32" transform="translate(608.39,72.10) scale(1.1,0.72) translate(-608.39,-72.10)">=</text>
<text x="626.28" y="84.50" font-size="32">0.95</text>
<line x1="498.4" y1="107.9" x2="552.3" y2="107.9" stroke="#0000ff" stroke-width="2"/>
<path d="M525.40,102.60L530.20,111.00L520.60,111.00Z" fill="#0000ff"/>
<text x="559.26" y="119.40" font-style="italic" font-size="32">U</text>
<text x="594.85" y="117.62" font-size="32" transform="translate(603.89,107.00) scale(1.1,0.72) translate(-603.89,-107.00)">=</text>
<text x="622.48" y="119.40" font-size="32">0.8</text>
<line x1="498.4" y1="141.5" x2="552.3" y2="141.5" stroke="#008000" stroke-width="2"/>
<path d="M525.40,146.40L529.50,139.50L521.30,139.50Z" fill="none" stroke="#008000" stroke-width="1.25"/>
<text x="559.26" y="154.30" font-style="italic" font-size="32">U</text>
<text x="594.85" y="152.52" font-size="32" transform="translate(603.89,141.90) scale(1.1,0.72) translate(-603.89,-141.90)">=</text>
<text x="622.48" y="154.30" font-size="32">0.6</text>
<text x="425.85" y="96.40" font-size="33">(a)</text>
<text transform="translate(155.30,264.00) scale(1.2,0.87)" x="-0.98" y="0" font-style="italic" font-size="33">σ</text>
<text x="172.91" y="275.50" font-size="33">m</text>
<text x="175.84" y="261.20" font-style="italic" font-size="33">′</text>
<text x="200.72" y="263.96" font-size="33" transform="translate(210.05,253.00) scale(1.1,0.72) translate(-210.05,-253.00)">=</text>
<text x="231.98" y="265.30" font-size="33">50</text>
<text x="274.77" y="267.50" font-size="33">kPa</text>
<text x="161.95" y="313.00" font-style="italic" font-size="33">k</text>
<text x="177.94" y="324.50" font-size="33">c</text>
<text x="201.92" y="312.96" font-size="33" transform="translate(211.25,302.00) scale(1.1,0.72) translate(-211.25,-302.00)">=</text>
<text x="229.40" y="315.00" font-size="33">1.0</text>
<text transform="translate(27.30,532.65) rotate(-90)" font-size="33">Dynamic shear modulus ratio, <tspan font-style="italic">G</tspan>/<tspan font-style="italic">G</tspan><tspan font-size="21" dy="4.5">max</tspan></text>
<text transform="translate(806.60,407.85) rotate(-90)" font-size="33">Damping ratio, <tspan font-style="italic">λ</tspan>%</text>
<text x="312.49" y="601.00" font-size="33">Shear strain, <tspan font-style="italic">γ</tspan></text>
<rect x="1036.23" y="17.80" width="7.0" height="7.0" fill="#000"/>
<rect x="1036.23" y="476.58" width="7.0" height="7.0" fill="#000"/>
<rect x="1074.10" y="26.12" width="7.0" height="7.0" fill="#000"/>
<rect x="1074.10" y="464.91" width="7.0" height="7.0" fill="#000"/>
<rect x="1111.97" y="43.76" width="7.0" height="7.0" fill="#000"/>
<rect x="1111.97" y="451.17" width="7.0" height="7.0" fill="#000"/>
<rect x="1134.12" y="59.38" width="7.0" height="7.0" fill="#000"/>
<rect x="1134.12" y="440.79" width="7.0" height="7.0" fill="#000"/>
<rect x="1162.03" y="90.13" width="7.0" height="7.0" fill="#000"/>
<rect x="1162.03" y="428.61" width="7.0" height="7.0" fill="#000"/>
<rect x="1199.90" y="144.31" width="7.0" height="7.0" fill="#000"/>
<rect x="1199.90" y="407.86" width="7.0" height="7.0" fill="#000"/>
<rect x="1237.77" y="219.32" width="7.0" height="7.0" fill="#000"/>
<rect x="1237.77" y="382.70" width="7.0" height="7.0" fill="#000"/>
<rect x="1259.92" y="262.63" width="7.0" height="7.0" fill="#000"/>
<rect x="1259.92" y="363.77" width="7.0" height="7.0" fill="#000"/>
<rect x="1287.83" y="331.35" width="7.0" height="7.0" fill="#000"/>
<rect x="1287.83" y="339.13" width="7.0" height="7.0" fill="#000"/>
<rect x="1325.70" y="386.59" width="7.0" height="7.0" fill="#000"/>
<rect x="1325.70" y="311.90" width="7.0" height="7.0" fill="#000"/>
<rect x="1363.57" y="440.28" width="7.0" height="7.0" fill="#000"/>
<rect x="1363.57" y="291.94" width="7.0" height="7.0" fill="#000"/>
<rect x="1385.72" y="459.73" width="7.0" height="7.0" fill="#000"/>
<rect x="1385.72" y="286.49" width="7.0" height="7.0" fill="#000"/>
<rect x="1413.63" y="479.18" width="7.0" height="7.0" fill="#000"/>
<rect x="1413.63" y="285.19" width="7.0" height="7.0" fill="#000"/>
<polyline points="934.60,19.45 937.76,19.54 940.92,19.64 944.08,19.75 947.24,19.86 950.40,19.98 953.56,20.11 956.73,20.24 959.89,20.38 963.05,20.53 966.21,20.68 969.37,20.85 972.53,21.02 975.69,21.20 978.85,21.40 982.01,21.60 985.17,21.81 988.33,22.04 991.49,22.28 994.66,22.53 997.82,22.79 1000.98,23.07 1004.14,23.36 1007.30,23.67 1010.46,24.00 1013.62,24.34 1016.78,24.71 1019.94,25.09 1023.10,25.49 1026.26,25.91 1029.42,26.36 1032.58,26.83 1035.75,27.33 1038.91,27.85 1042.07,28.40 1045.23,28.98 1048.39,29.58 1051.55,30.23 1054.71,30.90 1057.87,31.61 1061.03,32.36 1064.19,33.14 1067.35,33.97 1070.51,34.84 1073.68,35.75 1076.84,36.72 1080.00,37.73 1083.16,38.79 1086.32,39.90 1089.48,41.07 1092.64,42.30 1095.80,43.60 1098.96,44.95 1102.12,46.37 1105.28,47.86 1108.44,49.43 1111.61,51.07 1114.77,52.79 1117.93,54.58 1121.09,56.47 1124.25,58.44 1127.41,60.50 1130.57,62.66 1133.73,64.92 1136.89,67.27 1140.05,69.73 1143.21,72.30 1146.37,74.98 1149.53,77.78 1152.70,80.69 1155.86,83.72 1159.02,86.87 1162.18,90.15 1165.34,93.56 1168.50,97.10 1171.66,100.77 1174.82,104.58 1177.98,108.52 1181.14,112.61 1184.30,116.83 1187.46,121.19 1190.63,125.70 1193.79,130.35 1196.95,135.14 1200.11,140.07 1203.27,145.13 1206.43,150.34 1209.59,155.68 1212.75,161.16 1215.91,166.76 1219.07,172.49 1222.23,178.34 1225.39,184.31 1228.55,190.39 1231.72,196.57 1234.88,202.86 1238.04,209.23 1241.20,215.69 1244.36,222.23 1247.52,228.84 1250.68,235.50 1253.84,242.22 1257.00,248.98 1260.16,255.77 1263.32,262.58 1266.48,269.41 1269.65,276.24 1272.81,283.06 1275.97,289.87 1279.13,296.65 1282.29,303.39 1285.45,310.09 1288.61,316.73 1291.77,323.31 1294.93,329.82 1298.09,336.24 1301.25,342.58 1304.41,348.83 1307.57,354.97 1310.74,361.01 1313.90,366.93 1317.06,372.73 1320.22,378.41 1323.38,383.96 1326.54,389.38 1329.70,394.67 1332.86,399.82 1336.02,404.83 1339.18,409.71 1342.34,414.44 1345.50,419.03 1348.67,423.48 1351.83,427.79 1354.99,431.95 1358.15,435.98 1361.31,439.87 1364.47,443.62 1367.63,447.24 1370.79,450.73 1373.95,454.09 1377.11,457.31 1380.27,460.42 1383.43,463.40 1386.59,466.26 1389.76,469.01 1392.92,471.64 1396.08,474.17 1399.24,476.59 1402.40,478.90 1405.56,481.12 1408.72,483.24 1411.88,485.26 1415.04,487.20 1418.20,489.05 1421.36,490.82 1424.52,492.50 1427.69,494.11 1430.85,495.64 1434.01,497.11 1437.17,498.50 1440.33,499.83 1443.49,501.10 1446.65,502.30 1449.81,503.45 1452.97,504.55 1456.13,505.59 1459.29,506.58 1462.45,507.52 1465.62,508.42 1468.78,509.27 1471.94,510.08 1475.10,510.85 1478.26,511.58 1481.42,512.28 1484.58,512.94 1487.74,513.56 1490.90,514.16 1494.06,514.73 1497.22,515.27 1500.38,515.78 1503.54,516.26 1506.71,516.72 1509.87,517.16 1513.03,517.57 1516.19,517.97 1519.35,518.34 1522.51,518.70 1525.67,519.03 1528.83,519.35 1531.99,519.66 1535.15,519.94 1538.31,520.22 1541.47,520.48 1544.64,520.72 1547.80,520.95 1550.96,521.17 1554.12,521.38 1557.28,521.58 1560.44,521.77 1563.60,521.95" fill="none" stroke="#000000" stroke-width="2"/>
<polyline points="934.60,482.92 937.76,482.82 940.92,482.72 944.08,482.62 947.24,482.51 950.40,482.39 953.56,482.27 956.73,482.14 959.89,482.01 963.05,481.87 966.21,481.72 969.37,481.57 972.53,481.41 975.69,481.24 978.85,481.07 982.01,480.88 985.17,480.69 988.33,480.49 991.49,480.28 994.66,480.06 997.82,479.83 1000.98,479.59 1004.14,479.33 1007.30,479.07 1010.46,478.79 1013.62,478.50 1016.78,478.20 1019.94,477.88 1023.10,477.55 1026.26,477.20 1029.42,476.84 1032.58,476.46 1035.75,476.07 1038.91,475.66 1042.07,475.23 1045.23,474.77 1048.39,474.30 1051.55,473.81 1054.71,473.30 1057.87,472.77 1061.03,472.21 1064.19,471.63 1067.35,471.02 1070.51,470.39 1073.68,469.73 1076.84,469.05 1080.00,468.33 1083.16,467.59 1086.32,466.81 1089.48,466.01 1092.64,465.17 1095.80,464.30 1098.96,463.40 1102.12,462.46 1105.28,461.48 1108.44,460.47 1111.61,459.42 1114.77,458.33 1117.93,457.20 1121.09,456.03 1124.25,454.82 1127.41,453.57 1130.57,452.27 1133.73,450.93 1136.89,449.55 1140.05,448.12 1143.21,446.65 1146.37,445.13 1149.53,443.56 1152.70,441.95 1155.86,440.30 1159.02,438.59 1162.18,436.84 1165.34,435.05 1168.50,433.20 1171.66,431.31 1174.82,429.38 1177.98,427.40 1181.14,425.38 1184.30,423.32 1187.46,421.21 1190.63,419.07 1193.79,416.88 1196.95,414.66 1200.11,412.40 1203.27,410.10 1206.43,407.78 1209.59,405.42 1212.75,403.03 1215.91,400.62 1219.07,398.19 1222.23,395.73 1225.39,393.26 1228.55,390.76 1231.72,388.26 1234.88,385.74 1238.04,383.22 1241.20,380.69 1244.36,378.16 1247.52,375.63 1250.68,373.10 1253.84,370.58 1257.00,368.07 1260.16,365.57 1263.32,363.09 1266.48,360.62 1269.65,358.18 1272.81,355.75 1275.97,353.36 1279.13,350.98 1282.29,348.64 1285.45,346.33 1288.61,344.05 1291.77,341.81 1294.93,339.61 1298.09,337.44 1301.25,335.31 1304.41,333.23 1307.57,331.19 1310.74,329.19 1313.90,327.23 1317.06,325.32 1320.22,323.45 1323.38,321.63 1326.54,319.86 1329.70,318.13 1332.86,316.45 1336.02,314.82 1339.18,313.23 1342.34,311.69 1345.50,310.19 1348.67,308.74 1351.83,307.33 1354.99,305.97 1358.15,304.66 1361.31,303.38 1364.47,302.15 1367.63,300.96 1370.79,299.81 1373.95,298.70 1377.11,297.63 1380.27,296.60 1383.43,295.60 1386.59,294.65 1389.76,293.72 1392.92,292.84 1396.08,291.98 1399.24,291.16 1402.40,290.37 1405.56,289.61 1408.72,288.88 1411.88,288.18 1415.04,287.51 1418.20,286.87 1421.36,286.25 1424.52,285.65 1427.69,285.08 1430.85,284.54 1434.01,284.01 1437.17,283.51 1440.33,283.03 1443.49,282.57 1446.65,282.13 1449.81,281.71 1452.97,281.31 1456.13,280.92 1459.29,280.55 1462.45,280.19 1465.62,279.86 1468.78,279.53 1471.94,279.22 1475.10,278.93 1478.26,278.64 1481.42,278.37 1484.58,278.11 1487.74,277.87 1490.90,277.63 1494.06,277.40 1497.22,277.19 1500.38,276.98 1503.54,276.78 1506.71,276.60 1509.87,276.42 1513.03,276.24 1516.19,276.08 1519.35,275.92 1522.51,275.77 1525.67,275.63 1528.83,275.50 1531.99,275.37 1535.15,275.24 1538.31,275.12 1541.47,275.01 1544.64,274.90 1547.80,274.80 1550.96,274.70 1554.12,274.61 1557.28,274.52 1560.44,274.43 1563.60,274.35" fill="none" stroke="#000000" stroke-width="2"/>
<circle cx="1039.73" cy="18.02" r="3.5" fill="#fff" stroke="#ff0000" stroke-width="1.3"/>
<circle cx="1039.73" cy="476.97" r="3.5" fill="#fff" stroke="#ff0000" stroke-width="1.3"/>
<circle cx="1077.60" cy="32.14" r="3.5" fill="#fff" stroke="#ff0000" stroke-width="1.3"/>
<circle cx="1077.60" cy="464.52" r="3.5" fill="#fff" stroke="#ff0000" stroke-width="1.3"/>
<circle cx="1115.47" cy="53.31" r="3.5" fill="#fff" stroke="#ff0000" stroke-width="1.3"/>
<circle cx="1115.47" cy="452.85" r="3.5" fill="#fff" stroke="#ff0000" stroke-width="1.3"/>
<circle cx="1137.62" cy="71.70" r="3.5" fill="#fff" stroke="#ff0000" stroke-width="1.3"/>
<circle cx="1137.62" cy="443.26" r="3.5" fill="#fff" stroke="#ff0000" stroke-width="1.3"/>
<circle cx="1165.53" cy="106.23" r="3.5" fill="#fff" stroke="#ff0000" stroke-width="1.3"/>
<circle cx="1165.53" cy="428.73" r="3.5" fill="#fff" stroke="#ff0000" stroke-width="1.3"/>
<circle cx="1203.40" cy="161.67" r="3.5" fill="#fff" stroke="#ff0000" stroke-width="1.3"/>
<circle cx="1203.40" cy="403.58" r="3.5" fill="#fff" stroke="#ff0000" stroke-width="1.3"/>
<circle cx="1241.27" cy="233.71" r="3.5" fill="#fff" stroke="#ff0000" stroke-width="1.3"/>
<circle cx="1241.27" cy="376.35" r="3.5" fill="#fff" stroke="#ff0000" stroke-width="1.3"/>
<circle cx="1263.42" cy="277.02" r="3.5" fill="#fff" stroke="#ff0000" stroke-width="1.3"/>
<circle cx="1263.42" cy="358.71" r="3.5" fill="#fff" stroke="#ff0000" stroke-width="1.3"/>
<circle cx="1291.33" cy="337.45" r="3.5" fill="#fff" stroke="#ff0000" stroke-width="1.3"/>
<circle cx="1291.33" cy="330.96" r="3.5" fill="#fff" stroke="#ff0000" stroke-width="1.3"/>
<circle cx="1329.20" cy="399.17" r="3.5" fill="#fff" stroke="#ff0000" stroke-width="1.3"/>
<circle cx="1329.20" cy="310.22" r="3.5" fill="#fff" stroke="#ff0000" stroke-width="1.3"/>
<circle cx="1367.07" cy="449.48" r="3.5" fill="#fff" stroke="#ff0000" stroke-width="1.3"/>
<circle cx="1367.07" cy="289.47" r="3.5" fill="#fff" stroke="#ff0000" stroke-width="1.3"/>
<circle cx="1389.22" cy="465.04" r="3.5" fill="#fff" stroke="#ff0000" stroke-width="1.3"/>
<circle cx="1389.22" cy="280.39" r="3.5" fill="#fff" stroke="#ff0000" stroke-width="1.3"/>
<circle cx="1417.13" cy="484.75" r="3.5" fill="#fff" stroke="#ff0000" stroke-width="1.3"/>
<circle cx="1417.13" cy="277.28" r="3.5" fill="#fff" stroke="#ff0000" stroke-width="1.3"/>
<polyline points="934.60,19.88 937.76,20.00 940.92,20.12 944.08,20.25 947.24,20.39 950.40,20.53 953.56,20.68 956.73,20.84 959.89,21.01 963.05,21.19 966.21,21.38 969.37,21.57 972.53,21.78 975.69,22.00 978.85,22.23 982.01,22.47 985.17,22.73 988.33,22.99 991.49,23.28 994.66,23.57 997.82,23.89 1000.98,24.22 1004.14,24.56 1007.30,24.93 1010.46,25.31 1013.62,25.72 1016.78,26.14 1019.94,26.59 1023.10,27.06 1026.26,27.56 1029.42,28.08 1032.58,28.63 1035.75,29.20 1038.91,29.81 1042.07,30.44 1045.23,31.11 1048.39,31.82 1051.55,32.56 1054.71,33.33 1057.87,34.15 1061.03,35.01 1064.19,35.91 1067.35,36.85 1070.51,37.85 1073.68,38.89 1076.84,39.98 1080.00,41.13 1083.16,42.33 1086.32,43.59 1089.48,44.91 1092.64,46.30 1095.80,47.75 1098.96,49.27 1102.12,50.86 1105.28,52.53 1108.44,54.27 1111.61,56.10 1114.77,58.01 1117.93,60.00 1121.09,62.08 1124.25,64.26 1127.41,66.53 1130.57,68.90 1133.73,71.37 1136.89,73.94 1140.05,76.62 1143.21,79.42 1146.37,82.32 1149.53,85.35 1152.70,88.49 1155.86,91.75 1159.02,95.13 1162.18,98.65 1165.34,102.29 1168.50,106.06 1171.66,109.96 1174.82,113.99 1177.98,118.16 1181.14,122.46 1184.30,126.90 1187.46,131.47 1190.63,136.17 1193.79,141.01 1196.95,145.99 1200.11,151.09 1203.27,156.32 1206.43,161.68 1209.59,167.16 1212.75,172.76 1215.91,178.48 1219.07,184.30 1222.23,190.24 1225.39,196.27 1228.55,202.40 1231.72,208.62 1234.88,214.92 1238.04,221.29 1241.20,227.73 1244.36,234.23 1247.52,240.77 1250.68,247.36 1253.84,253.99 1257.00,260.63 1260.16,267.29 1263.32,273.96 1266.48,280.63 1269.65,287.28 1272.81,293.91 1275.97,300.51 1279.13,307.06 1282.29,313.58 1285.45,320.03 1288.61,326.42 1291.77,332.74 1294.93,338.98 1298.09,345.13 1301.25,351.18 1304.41,357.14 1307.57,363.00 1310.74,368.74 1313.90,374.37 1317.06,379.88 1320.22,385.27 1323.38,390.53 1326.54,395.67 1329.70,400.67 1332.86,405.55 1336.02,410.28 1339.18,414.89 1342.34,419.36 1345.50,423.69 1348.67,427.89 1351.83,431.96 1354.99,435.89 1358.15,439.70 1361.31,443.37 1364.47,446.91 1367.63,450.33 1370.79,453.62 1373.95,456.79 1377.11,459.84 1380.27,462.78 1383.43,465.60 1386.59,468.31 1389.76,470.91 1392.92,473.40 1396.08,475.80 1399.24,478.09 1402.40,480.29 1405.56,482.40 1408.72,484.41 1411.88,486.34 1415.04,488.18 1418.20,489.95 1421.36,491.63 1424.52,493.24 1427.69,494.78 1430.85,496.25 1434.01,497.65 1437.17,498.99 1440.33,500.27 1443.49,501.48 1446.65,502.64 1449.81,503.75 1452.97,504.80 1456.13,505.81 1459.29,506.76 1462.45,507.68 1465.62,508.54 1468.78,509.37 1471.94,510.16 1475.10,510.90 1478.26,511.62 1481.42,512.29 1484.58,512.94 1487.74,513.55 1490.90,514.14 1494.06,514.69 1497.22,515.22 1500.38,515.72 1503.54,516.20 1506.71,516.65 1509.87,517.08 1513.03,517.49 1516.19,517.88 1519.35,518.25 1522.51,518.60 1525.67,518.93 1528.83,519.25 1531.99,519.55 1535.15,519.84 1538.31,520.11 1541.47,520.37 1544.64,520.61 1547.80,520.85 1550.96,521.07 1554.12,521.28 1557.28,521.48 1560.44,521.67 1563.60,521.85" fill="none" stroke="#ff0000" stroke-width="2"/>
<polyline points="934.60,481.05 937.76,480.95 940.92,480.84 944.08,480.73 947.24,480.61 950.40,480.49 953.56,480.36 956.73,480.22 959.89,480.08 963.05,479.93 966.21,479.77 969.37,479.61 972.53,479.44 975.69,479.26 978.85,479.07 982.01,478.87 985.17,478.67 988.33,478.45 991.49,478.23 994.66,477.99 997.82,477.74 1000.98,477.49 1004.14,477.21 1007.30,476.93 1010.46,476.64 1013.62,476.33 1016.78,476.00 1019.94,475.66 1023.10,475.31 1026.26,474.94 1029.42,474.55 1032.58,474.15 1035.75,473.73 1038.91,473.29 1042.07,472.83 1045.23,472.35 1048.39,471.84 1051.55,471.32 1054.71,470.77 1057.87,470.20 1061.03,469.61 1064.19,468.99 1067.35,468.34 1070.51,467.67 1073.68,466.97 1076.84,466.24 1080.00,465.48 1083.16,464.68 1086.32,463.86 1089.48,463.00 1092.64,462.11 1095.80,461.18 1098.96,460.22 1102.12,459.22 1105.28,458.18 1108.44,457.11 1111.61,455.99 1114.77,454.83 1117.93,453.64 1121.09,452.39 1124.25,451.11 1127.41,449.78 1130.57,448.41 1133.73,446.99 1136.89,445.52 1140.05,444.01 1143.21,442.45 1146.37,440.84 1149.53,439.18 1152.70,437.48 1155.86,435.73 1159.02,433.93 1162.18,432.08 1165.34,430.18 1168.50,428.24 1171.66,426.25 1174.82,424.21 1177.98,422.12 1181.14,419.99 1184.30,417.82 1187.46,415.61 1190.63,413.35 1193.79,411.05 1196.95,408.72 1200.11,406.35 1203.27,403.94 1206.43,401.50 1209.59,399.03 1212.75,396.53 1215.91,394.01 1219.07,391.46 1222.23,388.89 1225.39,386.31 1228.55,383.71 1231.72,381.09 1234.88,378.47 1238.04,375.84 1241.20,373.21 1244.36,370.57 1247.52,367.94 1250.68,365.32 1253.84,362.70 1257.00,360.09 1260.16,357.50 1263.32,354.92 1266.48,352.37 1269.65,349.83 1272.81,347.33 1275.97,344.84 1279.13,342.39 1282.29,339.97 1285.45,337.59 1288.61,335.24 1291.77,332.92 1294.93,330.65 1298.09,328.42 1301.25,326.23 1304.41,324.08 1307.57,321.98 1310.74,319.92 1313.90,317.91 1317.06,315.95 1320.22,314.03 1323.38,312.16 1326.54,310.34 1329.70,308.57 1332.86,306.85 1336.02,305.17 1339.18,303.54 1342.34,301.96 1345.50,300.43 1348.67,298.95 1351.83,297.51 1354.99,296.12 1358.15,294.77 1361.31,293.47 1364.47,292.21 1367.63,290.99 1370.79,289.82 1373.95,288.68 1377.11,287.59 1380.27,286.54 1383.43,285.52 1386.59,284.55 1389.76,283.60 1392.92,282.70 1396.08,281.83 1399.24,280.99 1402.40,280.19 1405.56,279.41 1408.72,278.67 1411.88,277.96 1415.04,277.27 1418.20,276.61 1421.36,275.98 1424.52,275.38 1427.69,274.80 1430.85,274.24 1434.01,273.71 1437.17,273.20 1440.33,272.71 1443.49,272.24 1446.65,271.79 1449.81,271.36 1452.97,270.95 1456.13,270.56 1459.29,270.18 1462.45,269.82 1465.62,269.48 1468.78,269.15 1471.94,268.83 1475.10,268.53 1478.26,268.24 1481.42,267.97 1484.58,267.70 1487.74,267.45 1490.90,267.21 1494.06,266.98 1497.22,266.76 1500.38,266.55 1503.54,266.35 1506.71,266.16 1509.87,265.98 1513.03,265.80 1516.19,265.63 1519.35,265.48 1522.51,265.32 1525.67,265.18 1528.83,265.04 1531.99,264.91 1535.15,264.78 1538.31,264.66 1541.47,264.55 1544.64,264.44 1547.80,264.33 1550.96,264.23 1554.12,264.14 1557.28,264.04 1560.44,263.96 1563.60,263.87" fill="none" stroke="#ff0000" stroke-width="2"/>
<path d="M1039.73,13.48L1044.53,21.88L1034.93,21.88Z" fill="#0000ff"/>
<path d="M1039.73,467.00L1044.53,475.40L1034.93,475.40Z" fill="#0000ff"/>
<path d="M1077.60,27.85L1082.40,36.25L1072.80,36.25Z" fill="#0000ff"/>
<path d="M1077.60,457.93L1082.40,466.33L1072.80,466.33Z" fill="#0000ff"/>
<path d="M1115.47,50.02L1120.27,58.42L1110.67,58.42Z" fill="#0000ff"/>
<path d="M1115.47,444.96L1120.27,453.36L1110.67,453.36Z" fill="#0000ff"/>
<path d="M1137.62,68.17L1142.42,76.57L1132.82,76.57Z" fill="#0000ff"/>
<path d="M1137.62,434.59L1142.42,442.99L1132.82,442.99Z" fill="#0000ff"/>
<path d="M1165.53,104.96L1170.33,113.36L1160.73,113.36Z" fill="#0000ff"/>
<path d="M1165.53,419.03L1170.33,427.43L1160.73,427.43Z" fill="#0000ff"/>
<path d="M1203.40,167.21L1208.20,175.61L1198.60,175.61Z" fill="#0000ff"/>
<path d="M1203.40,393.09L1208.20,401.49L1198.60,401.49Z" fill="#0000ff"/>
<path d="M1241.27,241.38L1246.07,249.78L1236.47,249.78Z" fill="#0000ff"/>
<path d="M1241.27,360.68L1246.07,369.08L1236.47,369.08Z" fill="#0000ff"/>
<path d="M1263.42,293.25L1268.22,301.65L1258.62,301.65Z" fill="#0000ff"/>
<path d="M1263.42,343.04L1268.22,351.44L1258.62,351.44Z" fill="#0000ff"/>
<path d="M1291.33,349.78L1296.13,358.18L1286.53,358.18Z" fill="#0000ff"/>
<path d="M1291.33,319.18L1296.13,327.58L1286.53,327.58Z" fill="#0000ff"/>
<path d="M1329.20,408.65L1334.00,417.05L1324.40,417.05Z" fill="#0000ff"/>
<path d="M1329.20,297.14L1334.00,305.54L1324.40,305.54Z" fill="#0000ff"/>
<path d="M1367.07,457.15L1371.87,465.55L1362.27,465.55Z" fill="#0000ff"/>
<path d="M1367.07,278.98L1371.87,287.38L1362.27,287.38Z" fill="#0000ff"/>
<path d="M1389.22,469.08L1394.02,477.48L1384.42,477.48Z" fill="#0000ff"/>
<path d="M1389.22,273.80L1394.02,282.20L1384.42,282.20Z" fill="#0000ff"/>
<path d="M1417.13,481.27L1421.93,489.67L1412.33,489.67Z" fill="#0000ff"/>
<path d="M1417.13,271.20L1421.93,279.60L1412.33,279.60Z" fill="#0000ff"/>
<polyline points="934.60,19.72 937.76,19.83 940.92,19.95 944.08,20.08 947.24,20.21 950.40,20.35 953.56,20.50 956.73,20.66 959.89,20.82 963.05,20.99 966.21,21.18 969.37,21.37 972.53,21.58 975.69,21.79 978.85,22.02 982.01,22.26 985.17,22.51 988.33,22.78 991.49,23.06 994.66,23.36 997.82,23.68 1000.98,24.01 1004.14,24.36 1007.30,24.72 1010.46,25.11 1013.62,25.52 1016.78,25.95 1019.94,26.41 1023.10,26.89 1026.26,27.40 1029.42,27.93 1032.58,28.49 1035.75,29.08 1038.91,29.71 1042.07,30.36 1045.23,31.05 1048.39,31.78 1051.55,32.55 1054.71,33.36 1057.87,34.21 1061.03,35.10 1064.19,36.04 1067.35,37.03 1070.51,38.08 1073.68,39.17 1076.84,40.32 1080.00,41.53 1083.16,42.80 1086.32,44.14 1089.48,45.54 1092.64,47.01 1095.80,48.56 1098.96,50.18 1102.12,51.88 1105.28,53.66 1108.44,55.53 1111.61,57.49 1114.77,59.54 1117.93,61.68 1121.09,63.92 1124.25,66.27 1127.41,68.72 1130.57,71.28 1133.73,73.96 1136.89,76.75 1140.05,79.66 1143.21,82.69 1146.37,85.84 1149.53,89.13 1152.70,92.55 1155.86,96.10 1159.02,99.79 1162.18,103.61 1165.34,107.58 1168.50,111.69 1171.66,115.95 1174.82,120.34 1177.98,124.89 1181.14,129.58 1184.30,134.41 1187.46,139.39 1190.63,144.51 1193.79,149.78 1196.95,155.18 1200.11,160.72 1203.27,166.40 1206.43,172.20 1209.59,178.13 1212.75,184.18 1215.91,190.35 1219.07,196.62 1222.23,203.00 1225.39,209.47 1228.55,216.02 1231.72,222.66 1234.88,229.36 1238.04,236.13 1241.20,242.95 1244.36,249.81 1247.52,256.70 1250.68,263.61 1253.84,270.54 1257.00,277.46 1260.16,284.38 1263.32,291.28 1266.48,298.15 1269.65,304.98 1272.81,311.76 1275.97,318.48 1279.13,325.14 1282.29,331.71 1285.45,338.21 1288.61,344.61 1291.77,350.91 1294.93,357.10 1298.09,363.18 1301.25,369.14 1304.41,374.98 1307.57,380.69 1310.74,386.27 1313.90,391.71 1317.06,397.01 1320.22,402.17 1323.38,407.19 1326.54,412.06 1329.70,416.79 1332.86,421.37 1336.02,425.81 1339.18,430.10 1342.34,434.25 1345.50,438.25 1348.67,442.12 1351.83,445.84 1354.99,449.43 1358.15,452.88 1361.31,456.20 1364.47,459.39 1367.63,462.46 1370.79,465.40 1373.95,468.22 1377.11,470.92 1380.27,473.51 1383.43,475.99 1386.59,478.37 1389.76,480.64 1392.92,482.81 1396.08,484.88 1399.24,486.86 1402.40,488.75 1405.56,490.56 1408.72,492.28 1411.88,493.92 1415.04,495.49 1418.20,496.98 1421.36,498.40 1424.52,499.75 1427.69,501.04 1430.85,502.26 1434.01,503.43 1437.17,504.54 1440.33,505.60 1443.49,506.60 1446.65,507.55 1449.81,508.46 1452.97,509.32 1456.13,510.14 1459.29,510.92 1462.45,511.66 1465.62,512.36 1468.78,513.02 1471.94,513.66 1475.10,514.26 1478.26,514.83 1481.42,515.37 1484.58,515.88 1487.74,516.37 1490.90,516.83 1494.06,517.27 1497.22,517.68 1500.38,518.08 1503.54,518.45 1506.71,518.80 1509.87,519.14 1513.03,519.46 1516.19,519.76 1519.35,520.05 1522.51,520.32 1525.67,520.57 1528.83,520.82 1531.99,521.05 1535.15,521.27 1538.31,521.47 1541.47,521.67 1544.64,521.86 1547.80,522.03 1550.96,522.20 1554.12,522.36 1557.28,522.51 1560.44,522.65 1563.60,522.79" fill="none" stroke="#0000ff" stroke-width="2"/>
<polyline points="934.60,480.59 937.76,480.48 940.92,480.37 944.08,480.25 947.24,480.13 950.40,480.00 953.56,479.86 956.73,479.72 959.89,479.57 963.05,479.42 966.21,479.25 969.37,479.08 972.53,478.90 975.69,478.71 978.85,478.51 982.01,478.30 985.17,478.08 988.33,477.85 991.49,477.61 994.66,477.36 997.82,477.09 1000.98,476.82 1004.14,476.53 1007.30,476.22 1010.46,475.90 1013.62,475.57 1016.78,475.22 1019.94,474.85 1023.10,474.47 1026.26,474.07 1029.42,473.65 1032.58,473.21 1035.75,472.75 1038.91,472.27 1042.07,471.77 1045.23,471.24 1048.39,470.70 1051.55,470.12 1054.71,469.52 1057.87,468.90 1061.03,468.25 1064.19,467.56 1067.35,466.85 1070.51,466.11 1073.68,465.34 1076.84,464.53 1080.00,463.69 1083.16,462.82 1086.32,461.91 1089.48,460.96 1092.64,459.97 1095.80,458.95 1098.96,457.88 1102.12,456.77 1105.28,455.62 1108.44,454.43 1111.61,453.19 1114.77,451.91 1117.93,450.58 1121.09,449.20 1124.25,447.78 1127.41,446.31 1130.57,444.79 1133.73,443.22 1136.89,441.59 1140.05,439.92 1143.21,438.20 1146.37,436.42 1149.53,434.60 1152.70,432.72 1155.86,430.79 1159.02,428.82 1162.18,426.79 1165.34,424.71 1168.50,422.59 1171.66,420.41 1174.82,418.19 1177.98,415.93 1181.14,413.62 1184.30,411.27 1187.46,408.88 1190.63,406.45 1193.79,403.99 1196.95,401.49 1200.11,398.96 1203.27,396.40 1206.43,393.81 1209.59,391.20 1212.75,388.57 1215.91,385.92 1219.07,383.26 1222.23,380.58 1225.39,377.90 1228.55,375.21 1231.72,372.52 1234.88,369.83 1238.04,367.15 1241.20,364.47 1244.36,361.81 1247.52,359.16 1250.68,356.53 1253.84,353.91 1257.00,351.32 1260.16,348.76 1263.32,346.23 1266.48,343.72 1269.65,341.25 1272.81,338.82 1275.97,336.43 1279.13,334.07 1282.29,331.76 1285.45,329.49 1288.61,327.26 1291.77,325.08 1294.93,322.95 1298.09,320.87 1301.25,318.84 1304.41,316.85 1307.57,314.92 1310.74,313.04 1313.90,311.21 1317.06,309.43 1320.22,307.70 1323.38,306.02 1326.54,304.39 1329.70,302.82 1332.86,301.29 1336.02,299.81 1339.18,298.38 1342.34,297.00 1345.50,295.66 1348.67,294.38 1351.83,293.13 1354.99,291.93 1358.15,290.78 1361.31,289.67 1364.47,288.60 1367.63,287.57 1370.79,286.58 1373.95,285.62 1377.11,284.71 1380.27,283.83 1383.43,282.99 1386.59,282.18 1389.76,281.40 1392.92,280.65 1396.08,279.94 1399.24,279.25 1402.40,278.60 1405.56,277.97 1408.72,277.37 1411.88,276.79 1415.04,276.24 1418.20,275.71 1421.36,275.21 1424.52,274.72 1427.69,274.26 1430.85,273.82 1434.01,273.40 1437.17,273.00 1440.33,272.61 1443.49,272.24 1446.65,271.89 1449.81,271.56 1452.97,271.24 1456.13,270.93 1459.29,270.64 1462.45,270.36 1465.62,270.10 1468.78,269.84 1471.94,269.60 1475.10,269.37 1478.26,269.15 1481.42,268.94 1484.58,268.74 1487.74,268.55 1490.90,268.36 1494.06,268.19 1497.22,268.03 1500.38,267.87 1503.54,267.72 1506.71,267.57 1509.87,267.44 1513.03,267.31 1516.19,267.18 1519.35,267.06 1522.51,266.95 1525.67,266.84 1528.83,266.74 1531.99,266.64 1535.15,266.55 1538.31,266.46 1541.47,266.38 1544.64,266.30 1547.80,266.22 1550.96,266.15 1554.12,266.08 1557.28,266.01 1560.44,265.95 1563.60,265.89" fill="none" stroke="#0000ff" stroke-width="2"/>
<path d="M1039.73,36.28L1043.83,29.38L1035.63,29.38Z" fill="none" stroke="#008000" stroke-width="1.25"/>
<path d="M1039.73,474.61L1043.83,467.71L1035.63,467.71Z" fill="none" stroke="#008000" stroke-width="1.25"/>
<path d="M1077.60,41.32L1081.70,34.42L1073.50,34.42Z" fill="none" stroke="#008000" stroke-width="1.25"/>
<path d="M1077.60,463.72L1081.70,456.82L1073.50,456.82Z" fill="none" stroke="#008000" stroke-width="1.25"/>
<path d="M1115.47,67.78L1119.57,60.88L1111.37,60.88Z" fill="none" stroke="#008000" stroke-width="1.25"/>
<path d="M1115.47,449.45L1119.57,442.55L1111.37,442.55Z" fill="none" stroke="#008000" stroke-width="1.25"/>
<path d="M1137.62,84.16L1141.72,77.26L1133.52,77.26Z" fill="none" stroke="#008000" stroke-width="1.25"/>
<path d="M1137.62,439.60L1141.72,432.70L1133.52,432.70Z" fill="none" stroke="#008000" stroke-width="1.25"/>
<path d="M1165.53,128.77L1169.63,121.87L1161.43,121.87Z" fill="none" stroke="#008000" stroke-width="1.25"/>
<path d="M1165.53,423.26L1169.63,416.36L1161.43,416.36Z" fill="none" stroke="#008000" stroke-width="1.25"/>
<path d="M1203.40,193.79L1207.50,186.89L1199.30,186.89Z" fill="none" stroke="#008000" stroke-width="1.25"/>
<path d="M1203.40,398.88L1207.50,391.98L1199.30,391.98Z" fill="none" stroke="#008000" stroke-width="1.25"/>
<path d="M1241.27,272.85L1245.37,265.95L1237.17,265.95Z" fill="none" stroke="#008000" stroke-width="1.25"/>
<path d="M1241.27,366.21L1245.37,359.31L1237.17,359.31Z" fill="none" stroke="#008000" stroke-width="1.25"/>
<path d="M1263.42,331.20L1267.52,324.30L1259.32,324.30Z" fill="none" stroke="#008000" stroke-width="1.25"/>
<path d="M1263.42,348.31L1267.52,341.41L1259.32,341.41Z" fill="none" stroke="#008000" stroke-width="1.25"/>
<path d="M1291.33,382.03L1295.43,375.13L1287.23,375.13Z" fill="none" stroke="#008000" stroke-width="1.25"/>
<path d="M1291.33,323.68L1295.43,316.78L1287.23,316.78Z" fill="none" stroke="#008000" stroke-width="1.25"/>
<path d="M1329.20,431.30L1333.30,424.40L1325.10,424.40Z" fill="none" stroke="#008000" stroke-width="1.25"/>
<path d="M1329.20,302.15L1333.30,295.25L1325.10,295.25Z" fill="none" stroke="#008000" stroke-width="1.25"/>
<path d="M1367.07,474.61L1371.17,467.71L1362.97,467.71Z" fill="none" stroke="#008000" stroke-width="1.25"/>
<path d="M1367.07,284.00L1371.17,277.10L1362.97,277.10Z" fill="none" stroke="#008000" stroke-width="1.25"/>
<path d="M1389.22,487.58L1393.32,480.68L1385.12,480.68Z" fill="none" stroke="#008000" stroke-width="1.25"/>
<path d="M1389.22,280.11L1393.32,273.21L1385.12,273.21Z" fill="none" stroke="#008000" stroke-width="1.25"/>
<path d="M1417.13,499.25L1421.23,492.35L1413.03,492.35Z" fill="none" stroke="#008000" stroke-width="1.25"/>
<path d="M1417.13,277.51L1421.23,270.61L1413.03,270.61Z" fill="none" stroke="#008000" stroke-width="1.25"/>
<polyline points="934.60,19.94 937.76,20.07 940.92,20.20 944.08,20.35 947.24,20.50 950.40,20.65 953.56,20.82 956.73,21.00 959.89,21.18 963.05,21.38 966.21,21.59 969.37,21.81 972.53,22.04 975.69,22.29 978.85,22.54 982.01,22.82 985.17,23.11 988.33,23.41 991.49,23.73 994.66,24.07 997.82,24.43 1000.98,24.81 1004.14,25.21 1007.30,25.63 1010.46,26.07 1013.62,26.54 1016.78,27.03 1019.94,27.55 1023.10,28.10 1026.26,28.68 1029.42,29.29 1032.58,29.94 1035.75,30.62 1038.91,31.33 1042.07,32.09 1045.23,32.88 1048.39,33.72 1051.55,34.60 1054.71,35.53 1057.87,36.50 1061.03,37.53 1064.19,38.62 1067.35,39.75 1070.51,40.95 1073.68,42.21 1076.84,43.54 1080.00,44.93 1083.16,46.39 1086.32,47.93 1089.48,49.54 1092.64,51.23 1095.80,53.01 1098.96,54.87 1102.12,56.83 1105.28,58.87 1108.44,61.02 1111.61,63.26 1114.77,65.61 1117.93,68.07 1121.09,70.64 1124.25,73.32 1127.41,76.12 1130.57,79.05 1133.73,82.10 1136.89,85.28 1140.05,88.58 1143.21,92.03 1146.37,95.61 1149.53,99.33 1152.70,103.20 1155.86,107.21 1159.02,111.36 1162.18,115.67 1165.34,120.12 1168.50,124.72 1171.66,129.47 1174.82,134.37 1177.98,139.42 1181.14,144.62 1184.30,149.96 1187.46,155.45 1190.63,161.07 1193.79,166.84 1196.95,172.74 1200.11,178.76 1203.27,184.91 1206.43,191.18 1209.59,197.55 1212.75,204.03 1215.91,210.61 1219.07,217.27 1222.23,224.01 1225.39,230.83 1228.55,237.70 1231.72,244.63 1234.88,251.59 1238.04,258.59 1241.20,265.60 1244.36,272.63 1247.52,279.65 1250.68,286.66 1253.84,293.65 1257.00,300.60 1260.16,307.51 1263.32,314.36 1266.48,321.15 1269.65,327.87 1272.81,334.51 1275.97,341.05 1279.13,347.50 1282.29,353.84 1285.45,360.07 1288.61,366.17 1291.77,372.16 1294.93,378.01 1298.09,383.73 1301.25,389.31 1304.41,394.75 1307.57,400.04 1310.74,405.19 1313.90,410.19 1317.06,415.04 1320.22,419.74 1323.38,424.29 1326.54,428.69 1329.70,432.95 1332.86,437.05 1336.02,441.01 1339.18,444.83 1342.34,448.50 1345.50,452.04 1348.67,455.44 1351.83,458.70 1354.99,461.84 1358.15,464.85 1361.31,467.73 1364.47,470.49 1367.63,473.14 1370.79,475.67 1373.95,478.09 1377.11,480.40 1380.27,482.61 1383.43,484.72 1386.59,486.74 1389.76,488.66 1392.92,490.49 1396.08,492.24 1399.24,493.91 1402.40,495.50 1405.56,497.01 1408.72,498.45 1411.88,499.81 1415.04,501.12 1418.20,502.36 1421.36,503.53 1424.52,504.65 1427.69,505.72 1430.85,506.73 1434.01,507.69 1437.17,508.60 1440.33,509.47 1443.49,510.29 1446.65,511.07 1449.81,511.81 1452.97,512.52 1456.13,513.18 1459.29,513.82 1462.45,514.42 1465.62,514.99 1468.78,515.52 1471.94,516.04 1475.10,516.52 1478.26,516.98 1481.42,517.42 1484.58,517.83 1487.74,518.22 1490.90,518.59 1494.06,518.94 1497.22,519.28 1500.38,519.59 1503.54,519.89 1506.71,520.18 1509.87,520.44 1513.03,520.70 1516.19,520.94 1519.35,521.17 1522.51,521.38 1525.67,521.59 1528.83,521.78 1531.99,521.96 1535.15,522.14 1538.31,522.30 1541.47,522.45 1544.64,522.60 1547.80,522.74 1550.96,522.87 1554.12,523.00 1557.28,523.12 1560.44,523.23 1563.60,523.33" fill="none" stroke="#008000" stroke-width="2"/>
<polyline points="934.60,473.47 937.76,473.38 940.92,473.29 944.08,473.19 947.24,473.08 950.40,472.97 953.56,472.85 956.73,472.73 959.89,472.60 963.05,472.47 966.21,472.32 969.37,472.18 972.53,472.02 975.69,471.85 978.85,471.68 982.01,471.50 985.17,471.31 988.33,471.10 991.49,470.89 994.66,470.67 997.82,470.44 1000.98,470.19 1004.14,469.93 1007.30,469.66 1010.46,469.38 1013.62,469.08 1016.78,468.77 1019.94,468.44 1023.10,468.10 1026.26,467.74 1029.42,467.36 1032.58,466.96 1035.75,466.55 1038.91,466.11 1042.07,465.66 1045.23,465.18 1048.39,464.68 1051.55,464.15 1054.71,463.60 1057.87,463.03 1061.03,462.42 1064.19,461.79 1067.35,461.13 1070.51,460.45 1073.68,459.73 1076.84,458.97 1080.00,458.19 1083.16,457.37 1086.32,456.51 1089.48,455.62 1092.64,454.69 1095.80,453.72 1098.96,452.71 1102.12,451.66 1105.28,450.56 1108.44,449.42 1111.61,448.24 1114.77,447.01 1117.93,445.73 1121.09,444.41 1124.25,443.03 1127.41,441.61 1130.57,440.13 1133.73,438.60 1136.89,437.02 1140.05,435.39 1143.21,433.70 1146.37,431.96 1149.53,430.17 1152.70,428.32 1155.86,426.42 1159.02,424.47 1162.18,422.46 1165.34,420.40 1168.50,418.28 1171.66,416.12 1174.82,413.90 1177.98,411.64 1181.14,409.33 1184.30,406.97 1187.46,404.57 1190.63,402.13 1193.79,399.65 1196.95,397.13 1200.11,394.57 1203.27,391.99 1206.43,389.37 1209.59,386.73 1212.75,384.06 1215.91,381.38 1219.07,378.67 1222.23,375.96 1225.39,373.23 1228.55,370.50 1231.72,367.76 1234.88,365.03 1238.04,362.30 1241.20,359.57 1244.36,356.86 1247.52,354.17 1250.68,351.49 1253.84,348.83 1257.00,346.20 1260.16,343.60 1263.32,341.03 1266.48,338.49 1269.65,335.98 1272.81,333.52 1275.97,331.10 1279.13,328.71 1282.29,326.38 1285.45,324.09 1288.61,321.85 1291.77,319.66 1294.93,317.52 1298.09,315.43 1301.25,313.39 1304.41,311.40 1307.57,309.47 1310.74,307.60 1313.90,305.77 1317.06,304.00 1320.22,302.29 1323.38,300.63 1326.54,299.02 1329.70,297.46 1332.86,295.96 1336.02,294.51 1339.18,293.10 1342.34,291.75 1345.50,290.45 1348.67,289.19 1351.83,287.98 1354.99,286.82 1358.15,285.70 1361.31,284.62 1364.47,283.59 1367.63,282.60 1370.79,281.65 1373.95,280.73 1377.11,279.86 1380.27,279.02 1383.43,278.21 1386.59,277.44 1389.76,276.71 1392.92,276.00 1396.08,275.33 1399.24,274.68 1402.40,274.06 1405.56,273.48 1408.72,272.91 1411.88,272.37 1415.04,271.86 1418.20,271.37 1421.36,270.90 1424.52,270.45 1427.69,270.03 1430.85,269.62 1434.01,269.23 1437.17,268.86 1440.33,268.51 1443.49,268.17 1446.65,267.85 1449.81,267.54 1452.97,267.25 1456.13,266.98 1459.29,266.71 1462.45,266.46 1465.62,266.22 1468.78,265.99 1471.94,265.78 1475.10,265.57 1478.26,265.37 1481.42,265.18 1484.58,265.01 1487.74,264.84 1490.90,264.67 1494.06,264.52 1497.22,264.37 1500.38,264.24 1503.54,264.10 1506.71,263.98 1509.87,263.86 1513.03,263.74 1516.19,263.64 1519.35,263.53 1522.51,263.43 1525.67,263.34 1528.83,263.25 1531.99,263.17 1535.15,263.09 1538.31,263.01 1541.47,262.94 1544.64,262.87 1547.80,262.81 1550.96,262.74 1554.12,262.68 1557.28,262.63 1560.44,262.58 1563.60,262.52" fill="none" stroke="#008000" stroke-width="2"/>
<path d="M934.60,16.70V525.20H1563.60V16.70 M934.60,525.20h10.5 M1563.60,525.20h-10.5 M934.60,474.45h5.5 M1563.60,474.45h-5.5 M934.60,423.70h10.5 M1563.60,423.70h-10.5 M934.60,372.95h5.5 M1563.60,372.95h-5.5 M934.60,322.20h10.5 M1563.60,322.20h-10.5 M934.60,271.45h5.5 M1563.60,271.45h-5.5 M934.60,220.70h10.5 M1563.60,220.70h-10.5 M934.60,169.95h5.5 M1563.60,169.95h-5.5 M934.60,119.20h10.5 M1563.60,119.20h-10.5 M934.60,68.45h5.5 M1563.60,68.45h-5.5 M934.60,17.70h10.5 M1563.60,17.70h-10.5 M972.47,525.20v-5.5 M994.62,525.20v-5.5 M1010.34,525.20v-5.5 M1022.53,525.20v-5.5 M1032.49,525.20v-5.5 M1040.91,525.20v-5.5 M1048.21,525.20v-5.5 M1054.64,525.20v-5.5 M1060.40,525.20v-10.5 M1098.27,525.20v-5.5 M1120.42,525.20v-5.5 M1136.14,525.20v-5.5 M1148.33,525.20v-5.5 M1158.29,525.20v-5.5 M1166.71,525.20v-5.5 M1174.01,525.20v-5.5 M1180.44,525.20v-5.5 M1186.20,525.20v-10.5 M1224.07,525.20v-5.5 M1246.22,525.20v-5.5 M1261.94,525.20v-5.5 M1274.13,525.20v-5.5 M1284.09,525.20v-5.5 M1292.51,525.20v-5.5 M1299.81,525.20v-5.5 M1306.24,525.20v-5.5 M1312.00,525.20v-10.5 M1349.87,525.20v-5.5 M1372.02,525.20v-5.5 M1387.74,525.20v-5.5 M1399.93,525.20v-5.5 M1409.89,525.20v-5.5 M1418.31,525.20v-5.5 M1425.61,525.20v-5.5 M1432.04,525.20v-5.5 M1437.80,525.20v-10.5 M1475.67,525.20v-5.5 M1497.82,525.20v-5.5 M1513.54,525.20v-5.5 M1525.73,525.20v-5.5 M1535.69,525.20v-5.5 M1544.11,525.20v-5.5 M1551.41,525.20v-5.5 M1557.84,525.20v-5.5" fill="none" stroke="#000" stroke-width="2"/>
<text x="906.30" y="532.40" text-anchor="middle" font-size="33">0</text>
<text x="1572.00" y="531.70" font-size="33">0</text>
<text x="906.30" y="430.90" text-anchor="middle" font-size="33">0.2</text>
<text x="1572.00" y="430.20" font-size="33">10</text>
<text x="906.30" y="329.40" text-anchor="middle" font-size="33">0.4</text>
<text x="1572.00" y="328.70" font-size="33">20</text>
<text x="906.30" y="227.90" text-anchor="middle" font-size="33">0.6</text>
<text x="1572.00" y="227.20" font-size="33">30</text>
<text x="906.30" y="126.40" text-anchor="middle" font-size="33">0.8</text>
<text x="1572.00" y="125.70" font-size="33">40</text>
<text x="906.30" y="24.90" text-anchor="middle" font-size="33">1.0</text>
<text x="1572.00" y="24.20" font-size="33">50</text>
<text x="910.67" y="558.90" font-size="33">1E-6</text>
<text x="1036.42" y="558.90" font-size="33">1E-5</text>
<text x="1161.33" y="558.90" font-size="33">1E-4</text>
<text x="1283.24" y="558.90" font-size="33">0.001</text>
<text x="1416.79" y="558.90" font-size="33">0.01</text>
<text x="1538.64" y="558.90" font-size="33">0.1</text>
<line x1="1342.0" y1="56.3" x2="1396.5" y2="56.3" stroke="#000000" stroke-width="2"/>
<rect x="1365.80" y="52.80" width="7.0" height="7.0" fill="#000"/>
<text x="1405.76" y="65.70" font-style="italic" font-size="32">U</text>
<text x="1441.95" y="63.92" font-size="32" transform="translate(1450.99,53.30) scale(1.1,0.72) translate(-1450.99,-53.30)">=</text>
<text x="1470.59" y="65.70" font-size="32">1.0</text>
<line x1="1342.0" y1="87.5" x2="1396.5" y2="87.5" stroke="#ff0000" stroke-width="2"/>
<circle cx="1369.30" cy="87.50" r="3.5" fill="none" stroke="#ff0000" stroke-width="1.3"/>
<text x="1404.96" y="99.20" font-style="italic" font-size="32">U</text>
<text x="1442.95" y="97.42" font-size="32" transform="translate(1451.99,86.80) scale(1.1,0.72) translate(-1451.99,-86.80)">=</text>
<text x="1470.38" y="99.20" font-size="32">0.95</text>
<line x1="1342.0" y1="122.6" x2="1396.5" y2="122.6" stroke="#0000ff" stroke-width="2"/>
<path d="M1369.30,117.30L1374.10,125.70L1364.50,125.70Z" fill="#0000ff"/>
<text x="1403.06" y="133.90" font-style="italic" font-size="32">U</text>
<text x="1439.05" y="132.12" font-size="32" transform="translate(1448.09,121.50) scale(1.1,0.72) translate(-1448.09,-121.50)">=</text>
<text x="1466.58" y="133.90" font-size="32">0.8</text>
<line x1="1342.0" y1="155.7" x2="1396.5" y2="155.7" stroke="#008000" stroke-width="2"/>
<path d="M1369.30,160.60L1373.40,153.70L1365.20,153.70Z" fill="none" stroke="#008000" stroke-width="1.25"/>
<text x="1403.06" y="168.90" font-style="italic" font-size="32">U</text>
<text x="1439.05" y="167.12" font-size="32" transform="translate(1448.09,156.50) scale(1.1,0.72) translate(-1448.09,-156.50)">=</text>
<text x="1466.58" y="168.90" font-size="32">0.6</text>
<text x="1287.55" y="111.70" font-size="33">(b)</text>
<text transform="translate(1005.10,276.00) scale(1.2,0.87)" x="-0.98" y="0" font-style="italic" font-size="33">σ</text>
<text x="1022.81" y="288.00" font-size="33">m</text>
<text x="1026.94" y="272.80" font-style="italic" font-size="33">′</text>
<text x="1050.62" y="275.76" font-size="33" transform="translate(1059.95,264.80) scale(1.1,0.72) translate(-1059.95,-264.80)">=</text>
<text x="1078.20" y="277.00" font-size="33">100</text>
<text x="1131.67" y="276.00" font-size="33">kPa</text>
<text x="1010.55" y="324.80" font-style="italic" font-size="33">k</text>
<text x="1026.64" y="334.70" font-size="33">c</text>
<text x="1050.62" y="323.96" font-size="33" transform="translate(1059.95,313.00) scale(1.1,0.72) translate(-1059.95,-313.00)">=</text>
<text x="1078.20" y="325.60" font-size="33">1.0</text>
<text transform="translate(868.30,526.25) rotate(-90)" font-size="33">Dynamic shear modulus ratio, <tspan font-style="italic">G</tspan>/<tspan font-style="italic">G</tspan><tspan font-size="21" dy="4.5">max</tspan></text>
<text transform="translate(1647.70,401.55) rotate(-90)" font-size="33">Damping ratio, <tspan font-style="italic">λ</tspan>%</text>
<text x="1152.89" y="593.90" font-size="33">Shear strain, <tspan font-style="italic">γ</tspan></text>
<rect x="1886.58" y="16.54" width="7.0" height="7.0" fill="#000"/>
<rect x="1886.58" y="481.77" width="7.0" height="7.0" fill="#000"/>
<rect x="1924.43" y="27.12" width="7.0" height="7.0" fill="#000"/>
<rect x="1924.43" y="470.10" width="7.0" height="7.0" fill="#000"/>
<rect x="1962.28" y="45.52" width="7.0" height="7.0" fill="#000"/>
<rect x="1962.28" y="455.84" width="7.0" height="7.0" fill="#000"/>
<rect x="1984.42" y="58.12" width="7.0" height="7.0" fill="#000"/>
<rect x="1984.42" y="446.76" width="7.0" height="7.0" fill="#000"/>
<rect x="2012.32" y="83.32" width="7.0" height="7.0" fill="#000"/>
<rect x="2012.32" y="433.79" width="7.0" height="7.0" fill="#000"/>
<rect x="2050.17" y="140.03" width="7.0" height="7.0" fill="#000"/>
<rect x="2050.17" y="413.05" width="7.0" height="7.0" fill="#000"/>
<rect x="2088.02" y="204.28" width="7.0" height="7.0" fill="#000"/>
<rect x="2088.02" y="388.41" width="7.0" height="7.0" fill="#000"/>
<rect x="2110.16" y="250.44" width="7.0" height="7.0" fill="#000"/>
<rect x="2110.16" y="369.74" width="7.0" height="7.0" fill="#000"/>
<rect x="2138.06" y="302.31" width="7.0" height="7.0" fill="#000"/>
<rect x="2138.06" y="344.84" width="7.0" height="7.0" fill="#000"/>
<rect x="2175.91" y="375.96" width="7.0" height="7.0" fill="#000"/>
<rect x="2175.91" y="318.91" width="7.0" height="7.0" fill="#000"/>
<rect x="2213.76" y="431.20" width="7.0" height="7.0" fill="#000"/>
<rect x="2213.76" y="304.90" width="7.0" height="7.0" fill="#000"/>
<rect x="2235.90" y="454.54" width="7.0" height="7.0" fill="#000"/>
<rect x="2235.90" y="297.12" width="7.0" height="7.0" fill="#000"/>
<rect x="2263.80" y="477.10" width="7.0" height="7.0" fill="#000"/>
<rect x="2263.80" y="292.45" width="7.0" height="7.0" fill="#000"/>
<polyline points="1785.00,19.76 1788.16,19.86 1791.32,19.96 1794.48,20.07 1797.64,20.18 1800.80,20.30 1803.96,20.43 1807.12,20.56 1810.27,20.70 1813.43,20.85 1816.59,21.00 1819.75,21.17 1822.91,21.34 1826.07,21.52 1829.23,21.71 1832.39,21.91 1835.55,22.12 1838.71,22.35 1841.87,22.58 1845.03,22.83 1848.19,23.09 1851.35,23.36 1854.50,23.65 1857.66,23.95 1860.82,24.27 1863.98,24.61 1867.14,24.96 1870.30,25.34 1873.46,25.73 1876.62,26.14 1879.78,26.57 1882.94,27.03 1886.10,27.51 1889.26,28.01 1892.42,28.54 1895.58,29.10 1898.73,29.69 1901.89,30.31 1905.05,30.95 1908.21,31.64 1911.37,32.35 1914.53,33.10 1917.69,33.90 1920.85,34.73 1924.01,35.60 1927.17,36.51 1930.33,37.47 1933.49,38.48 1936.65,39.54 1939.81,40.65 1942.96,41.82 1946.12,43.04 1949.28,44.32 1952.44,45.67 1955.60,47.07 1958.76,48.55 1961.92,50.09 1965.08,51.71 1968.24,53.40 1971.40,55.17 1974.56,57.02 1977.72,58.95 1980.88,60.97 1984.04,63.08 1987.19,65.29 1990.35,67.59 1993.51,69.99 1996.67,72.49 1999.83,75.10 2002.99,77.81 2006.15,80.64 2009.31,83.58 2012.47,86.64 2015.63,89.81 2018.79,93.11 2021.95,96.53 2025.11,100.08 2028.27,103.75 2031.43,107.56 2034.58,111.50 2037.74,115.57 2040.90,119.77 2044.06,124.11 2047.22,128.58 2050.38,133.19 2053.54,137.93 2056.70,142.80 2059.86,147.80 2063.02,152.94 2066.18,158.20 2069.34,163.59 2072.50,169.10 2075.66,174.72 2078.81,180.46 2081.97,186.31 2085.13,192.27 2088.29,198.32 2091.45,204.47 2094.61,210.70 2097.77,217.01 2100.93,223.39 2104.09,229.84 2107.25,236.34 2110.41,242.89 2113.57,249.48 2116.73,256.11 2119.89,262.75 2123.04,269.40 2126.20,276.06 2129.36,282.71 2132.52,289.35 2135.68,295.96 2138.84,302.54 2142.00,309.08 2145.16,315.57 2148.32,321.99 2151.48,328.36 2154.64,334.65 2157.80,340.85 2160.96,346.97 2164.12,353.00 2167.27,358.92 2170.43,364.74 2173.59,370.45 2176.75,376.05 2179.91,381.52 2183.07,386.87 2186.23,392.10 2189.39,397.20 2192.55,402.16 2195.71,407.00 2198.87,411.70 2202.03,416.27 2205.19,420.70 2208.35,425.00 2211.51,429.16 2214.66,433.20 2217.82,437.09 2220.98,440.86 2224.14,444.50 2227.30,448.01 2230.46,451.40 2233.62,454.66 2236.78,457.80 2239.94,460.83 2243.10,463.73 2246.26,466.53 2249.42,469.21 2252.58,471.79 2255.74,474.26 2258.89,476.63 2262.05,478.90 2265.21,481.08 2268.37,483.17 2271.53,485.16 2274.69,487.07 2277.85,488.90 2281.01,490.65 2284.17,492.31 2287.33,493.91 2290.49,495.43 2293.65,496.89 2296.81,498.28 2299.97,499.60 2303.12,500.87 2306.28,502.07 2309.44,503.22 2312.60,504.32 2315.76,505.36 2318.92,506.36 2322.08,507.30 2325.24,508.21 2328.40,509.07 2331.56,509.89 2334.72,510.67 2337.88,511.41 2341.04,512.11 2344.20,512.79 2347.35,513.42 2350.51,514.03 2353.67,514.61 2356.83,515.16 2359.99,515.68 2363.15,516.18 2366.31,516.65 2369.47,517.10 2372.63,517.53 2375.79,517.94 2378.95,518.32 2382.11,518.69 2385.27,519.04 2388.43,519.37 2391.58,519.68 2394.74,519.98 2397.90,520.27 2401.06,520.54 2404.22,520.79 2407.38,521.04 2410.54,521.27 2413.70,521.49" fill="none" stroke="#000000" stroke-width="2"/>
<polyline points="1785.00,491.32 1788.16,491.20 1791.32,491.07 1794.48,490.93 1797.64,490.79 1800.80,490.65 1803.96,490.49 1807.12,490.33 1810.27,490.17 1813.43,489.99 1816.59,489.81 1819.75,489.62 1822.91,489.42 1826.07,489.21 1829.23,489.00 1832.39,488.77 1835.55,488.53 1838.71,488.29 1841.87,488.03 1845.03,487.76 1848.19,487.48 1851.35,487.19 1854.50,486.88 1857.66,486.56 1860.82,486.23 1863.98,485.89 1867.14,485.52 1870.30,485.15 1873.46,484.76 1876.62,484.35 1879.78,483.92 1882.94,483.48 1886.10,483.02 1889.26,482.54 1892.42,482.04 1895.58,481.51 1898.73,480.97 1901.89,480.41 1905.05,479.82 1908.21,479.21 1911.37,478.58 1914.53,477.92 1917.69,477.23 1920.85,476.52 1924.01,475.78 1927.17,475.01 1930.33,474.22 1933.49,473.39 1936.65,472.53 1939.81,471.65 1942.96,470.73 1946.12,469.77 1949.28,468.78 1952.44,467.76 1955.60,466.70 1958.76,465.61 1961.92,464.48 1965.08,463.31 1968.24,462.11 1971.40,460.86 1974.56,459.58 1977.72,458.25 1980.88,456.89 1984.04,455.48 1987.19,454.04 1990.35,452.55 1993.51,451.02 1996.67,449.45 1999.83,447.84 2002.99,446.18 2006.15,444.49 2009.31,442.75 2012.47,440.97 2015.63,439.15 2018.79,437.29 2021.95,435.39 2025.11,433.45 2028.27,431.47 2031.43,429.46 2034.58,427.41 2037.74,425.32 2040.90,423.20 2044.06,421.05 2047.22,418.86 2050.38,416.65 2053.54,414.41 2056.70,412.14 2059.86,409.85 2063.02,407.54 2066.18,405.21 2069.34,402.86 2072.50,400.49 2075.66,398.12 2078.81,395.73 2081.97,393.33 2085.13,390.92 2088.29,388.52 2091.45,386.11 2094.61,383.70 2097.77,381.29 2100.93,378.90 2104.09,376.51 2107.25,374.13 2110.41,371.76 2113.57,369.41 2116.73,367.08 2119.89,364.76 2123.04,362.47 2126.20,360.21 2129.36,357.96 2132.52,355.75 2135.68,353.57 2138.84,351.41 2142.00,349.29 2145.16,347.20 2148.32,345.15 2151.48,343.13 2154.64,341.16 2157.80,339.22 2160.96,337.31 2164.12,335.45 2167.27,333.63 2170.43,331.85 2173.59,330.11 2176.75,328.41 2179.91,326.76 2183.07,325.14 2186.23,323.57 2189.39,322.04 2192.55,320.55 2195.71,319.10 2198.87,317.69 2202.03,316.33 2205.19,315.00 2208.35,313.72 2211.51,312.47 2214.66,311.26 2217.82,310.09 2220.98,308.96 2224.14,307.87 2227.30,306.81 2230.46,305.78 2233.62,304.80 2236.78,303.84 2239.94,302.92 2243.10,302.03 2246.26,301.17 2249.42,300.34 2252.58,299.55 2255.74,298.78 2258.89,298.04 2262.05,297.33 2265.21,296.64 2268.37,295.98 2271.53,295.34 2274.69,294.73 2277.85,294.14 2281.01,293.58 2284.17,293.04 2287.33,292.51 2290.49,292.01 2293.65,291.53 2296.81,291.07 2299.97,290.63 2303.12,290.20 2306.28,289.79 2309.44,289.40 2312.60,289.02 2315.76,288.66 2318.92,288.31 2322.08,287.98 2325.24,287.66 2328.40,287.36 2331.56,287.06 2334.72,286.78 2337.88,286.51 2341.04,286.25 2344.20,286.01 2347.35,285.77 2350.51,285.54 2353.67,285.33 2356.83,285.12 2359.99,284.92 2363.15,284.73 2366.31,284.55 2369.47,284.37 2372.63,284.20 2375.79,284.04 2378.95,283.89 2382.11,283.74 2385.27,283.60 2388.43,283.47 2391.58,283.34 2394.74,283.21 2397.90,283.10 2401.06,282.98 2404.22,282.88 2407.38,282.77 2410.54,282.67 2413.70,282.58" fill="none" stroke="#000000" stroke-width="2"/>
<circle cx="1890.08" cy="18.78" r="3.5" fill="#fff" stroke="#ff0000" stroke-width="1.3"/>
<circle cx="1890.08" cy="484.75" r="3.5" fill="#fff" stroke="#ff0000" stroke-width="1.3"/>
<circle cx="1927.93" cy="28.86" r="3.5" fill="#fff" stroke="#ff0000" stroke-width="1.3"/>
<circle cx="1927.93" cy="469.71" r="3.5" fill="#fff" stroke="#ff0000" stroke-width="1.3"/>
<circle cx="1965.78" cy="47.26" r="3.5" fill="#fff" stroke="#ff0000" stroke-width="1.3"/>
<circle cx="1965.78" cy="456.22" r="3.5" fill="#fff" stroke="#ff0000" stroke-width="1.3"/>
<circle cx="1987.92" cy="64.14" r="3.5" fill="#fff" stroke="#ff0000" stroke-width="1.3"/>
<circle cx="1987.92" cy="447.67" r="3.5" fill="#fff" stroke="#ff0000" stroke-width="1.3"/>
<circle cx="2015.82" cy="91.86" r="3.5" fill="#fff" stroke="#ff0000" stroke-width="1.3"/>
<circle cx="2015.82" cy="433.40" r="3.5" fill="#fff" stroke="#ff0000" stroke-width="1.3"/>
<circle cx="2053.67" cy="141.01" r="3.5" fill="#fff" stroke="#ff0000" stroke-width="1.3"/>
<circle cx="2053.67" cy="410.06" r="3.5" fill="#fff" stroke="#ff0000" stroke-width="1.3"/>
<circle cx="2091.52" cy="211.67" r="3.5" fill="#fff" stroke="#ff0000" stroke-width="1.3"/>
<circle cx="2091.52" cy="384.13" r="3.5" fill="#fff" stroke="#ff0000" stroke-width="1.3"/>
<circle cx="2113.66" cy="260.94" r="3.5" fill="#fff" stroke="#ff0000" stroke-width="1.3"/>
<circle cx="2113.66" cy="365.98" r="3.5" fill="#fff" stroke="#ff0000" stroke-width="1.3"/>
<circle cx="2141.56" cy="316.18" r="3.5" fill="#fff" stroke="#ff0000" stroke-width="1.3"/>
<circle cx="2141.56" cy="342.63" r="3.5" fill="#fff" stroke="#ff0000" stroke-width="1.3"/>
<circle cx="2179.41" cy="386.72" r="3.5" fill="#fff" stroke="#ff0000" stroke-width="1.3"/>
<circle cx="2179.41" cy="316.18" r="3.5" fill="#fff" stroke="#ff0000" stroke-width="1.3"/>
<circle cx="2217.26" cy="436.51" r="3.5" fill="#fff" stroke="#ff0000" stroke-width="1.3"/>
<circle cx="2217.26" cy="299.84" r="3.5" fill="#fff" stroke="#ff0000" stroke-width="1.3"/>
<circle cx="2239.40" cy="459.34" r="3.5" fill="#fff" stroke="#ff0000" stroke-width="1.3"/>
<circle cx="2239.40" cy="292.58" r="3.5" fill="#fff" stroke="#ff0000" stroke-width="1.3"/>
<circle cx="2267.30" cy="481.38" r="3.5" fill="#fff" stroke="#ff0000" stroke-width="1.3"/>
<circle cx="2267.30" cy="288.69" r="3.5" fill="#fff" stroke="#ff0000" stroke-width="1.3"/>
<polyline points="1785.00,19.73 1788.16,19.82 1791.32,19.92 1794.48,20.03 1797.64,20.14 1800.80,20.26 1803.96,20.39 1807.12,20.52 1810.27,20.66 1813.43,20.81 1816.59,20.96 1819.75,21.13 1822.91,21.30 1826.07,21.48 1829.23,21.67 1832.39,21.87 1835.55,22.08 1838.71,22.31 1841.87,22.54 1845.03,22.79 1848.19,23.05 1851.35,23.33 1854.50,23.62 1857.66,23.92 1860.82,24.24 1863.98,24.58 1867.14,24.94 1870.30,25.31 1873.46,25.71 1876.62,26.12 1879.78,26.56 1882.94,27.02 1886.10,27.51 1889.26,28.02 1892.42,28.56 1895.58,29.12 1898.73,29.72 1901.89,30.34 1905.05,31.00 1908.21,31.69 1911.37,32.42 1914.53,33.19 1917.69,33.99 1920.85,34.84 1924.01,35.72 1927.17,36.66 1930.33,37.64 1933.49,38.67 1936.65,39.75 1939.81,40.88 1942.96,42.07 1946.12,43.32 1949.28,44.63 1952.44,46.01 1955.60,47.45 1958.76,48.96 1961.92,50.54 1965.08,52.19 1968.24,53.93 1971.40,55.74 1974.56,57.64 1977.72,59.63 1980.88,61.71 1984.04,63.87 1987.19,66.14 1990.35,68.51 1993.51,70.97 1996.67,73.55 1999.83,76.23 2002.99,79.02 2006.15,81.93 2009.31,84.96 2012.47,88.11 2015.63,91.38 2018.79,94.78 2021.95,98.30 2025.11,101.96 2028.27,105.74 2031.43,109.67 2034.58,113.72 2037.74,117.91 2040.90,122.24 2044.06,126.71 2047.22,131.31 2050.38,136.06 2053.54,140.93 2056.70,145.95 2059.86,151.10 2063.02,156.37 2066.18,161.78 2069.34,167.31 2072.50,172.97 2075.66,178.74 2078.81,184.63 2081.97,190.63 2085.13,196.72 2088.29,202.92 2091.45,209.20 2094.61,215.57 2097.77,222.01 2100.93,228.52 2104.09,235.09 2107.25,241.71 2110.41,248.37 2113.57,255.06 2116.73,261.78 2119.89,268.51 2123.04,275.24 2126.20,281.98 2129.36,288.69 2132.52,295.38 2135.68,302.04 2138.84,308.66 2142.00,315.23 2145.16,321.74 2148.32,328.18 2151.48,334.54 2154.64,340.82 2157.80,347.01 2160.96,353.11 2164.12,359.10 2167.27,364.98 2170.43,370.75 2173.59,376.40 2176.75,381.93 2179.91,387.34 2183.07,392.61 2186.23,397.76 2189.39,402.76 2192.55,407.64 2195.71,412.38 2198.87,416.98 2202.03,421.44 2205.19,425.76 2208.35,429.95 2211.51,434.01 2214.66,437.92 2217.82,441.71 2220.98,445.36 2224.14,448.88 2227.30,452.27 2230.46,455.54 2233.62,458.68 2236.78,461.71 2239.94,464.61 2243.10,467.40 2246.26,470.08 2249.42,472.65 2252.58,475.12 2255.74,477.48 2258.89,479.74 2262.05,481.91 2265.21,483.98 2268.37,485.97 2271.53,487.86 2274.69,489.67 2277.85,491.41 2281.01,493.06 2284.17,494.64 2287.33,496.15 2290.49,497.59 2293.65,498.96 2296.81,500.27 2299.97,501.51 2303.12,502.70 2306.28,503.84 2309.44,504.91 2312.60,505.94 2315.76,506.92 2318.92,507.85 2322.08,508.74 2325.24,509.58 2328.40,510.39 2331.56,511.15 2334.72,511.88 2337.88,512.57 2341.04,513.23 2344.20,513.85 2347.35,514.44 2350.51,515.01 2353.67,515.55 2356.83,516.06 2359.99,516.54 2363.15,517.00 2366.31,517.44 2369.47,517.85 2372.63,518.25 2375.79,518.62 2378.95,518.98 2382.11,519.32 2385.27,519.64 2388.43,519.94 2391.58,520.23 2394.74,520.51 2397.90,520.77 2401.06,521.02 2404.22,521.25 2407.38,521.47 2410.54,521.68 2413.70,521.89" fill="none" stroke="#ff0000" stroke-width="2"/>
<polyline points="1785.00,487.45 1788.16,487.33 1791.32,487.21 1794.48,487.09 1797.64,486.96 1800.80,486.82 1803.96,486.68 1807.12,486.53 1810.27,486.37 1813.43,486.21 1816.59,486.04 1819.75,485.86 1822.91,485.67 1826.07,485.47 1829.23,485.27 1832.39,485.06 1835.55,484.83 1838.71,484.60 1841.87,484.35 1845.03,484.10 1848.19,483.83 1851.35,483.55 1854.50,483.26 1857.66,482.95 1860.82,482.63 1863.98,482.30 1867.14,481.95 1870.30,481.59 1873.46,481.21 1876.62,480.81 1879.78,480.40 1882.94,479.97 1886.10,479.52 1889.26,479.05 1892.42,478.56 1895.58,478.05 1898.73,477.51 1901.89,476.96 1905.05,476.38 1908.21,475.78 1911.37,475.15 1914.53,474.50 1917.69,473.82 1920.85,473.11 1924.01,472.38 1927.17,471.62 1930.33,470.82 1933.49,470.00 1936.65,469.14 1939.81,468.25 1942.96,467.32 1946.12,466.36 1949.28,465.37 1952.44,464.34 1955.60,463.27 1958.76,462.16 1961.92,461.02 1965.08,459.83 1968.24,458.61 1971.40,457.34 1974.56,456.03 1977.72,454.68 1980.88,453.28 1984.04,451.85 1987.19,450.36 1990.35,448.84 1993.51,447.27 1996.67,445.65 1999.83,443.99 2002.99,442.28 2006.15,440.53 2009.31,438.74 2012.47,436.90 2015.63,435.01 2018.79,433.08 2021.95,431.11 2025.11,429.10 2028.27,427.05 2031.43,424.95 2034.58,422.82 2037.74,420.65 2040.90,418.44 2044.06,416.20 2047.22,413.92 2050.38,411.62 2053.54,409.28 2056.70,406.92 2059.86,404.53 2063.02,402.12 2066.18,399.69 2069.34,397.23 2072.50,394.77 2075.66,392.29 2078.81,389.80 2081.97,387.30 2085.13,384.80 2088.29,382.29 2091.45,379.79 2094.61,377.28 2097.77,374.79 2100.93,372.30 2104.09,369.82 2107.25,367.36 2110.41,364.91 2113.57,362.48 2116.73,360.07 2119.89,357.69 2123.04,355.33 2126.20,353.00 2129.36,350.69 2132.52,348.42 2135.68,346.19 2138.84,343.98 2142.00,341.82 2145.16,339.69 2148.32,337.60 2151.48,335.55 2154.64,333.55 2157.80,331.58 2160.96,329.66 2164.12,327.78 2167.27,325.95 2170.43,324.16 2173.59,322.41 2176.75,320.71 2179.91,319.06 2183.07,317.45 2186.23,315.88 2189.39,314.36 2192.55,312.89 2195.71,311.45 2198.87,310.07 2202.03,308.72 2205.19,307.42 2208.35,306.16 2211.51,304.94 2214.66,303.76 2217.82,302.62 2220.98,301.51 2224.14,300.45 2227.30,299.42 2230.46,298.44 2233.62,297.48 2236.78,296.56 2239.94,295.68 2243.10,294.82 2246.26,294.00 2249.42,293.21 2252.58,292.45 2255.74,291.72 2258.89,291.02 2262.05,290.34 2265.21,289.69 2268.37,289.07 2271.53,288.47 2274.69,287.90 2277.85,287.35 2281.01,286.82 2284.17,286.31 2287.33,285.82 2290.49,285.36 2293.65,284.91 2296.81,284.48 2299.97,284.07 2303.12,283.68 2306.28,283.30 2309.44,282.94 2312.60,282.59 2315.76,282.26 2318.92,281.94 2322.08,281.64 2325.24,281.35 2328.40,281.07 2331.56,280.80 2334.72,280.55 2337.88,280.31 2341.04,280.07 2344.20,279.85 2347.35,279.64 2350.51,279.43 2353.67,279.24 2356.83,279.05 2359.99,278.87 2363.15,278.70 2366.31,278.54 2369.47,278.39 2372.63,278.24 2375.79,278.09 2378.95,277.96 2382.11,277.83 2385.27,277.70 2388.43,277.59 2391.58,277.47 2394.74,277.36 2397.90,277.26 2401.06,277.16 2404.22,277.07 2407.38,276.98 2410.54,276.89 2413.70,276.81" fill="none" stroke="#ff0000" stroke-width="2"/>
<path d="M1890.08,14.74L1894.88,23.14L1885.28,23.14Z" fill="#0000ff"/>
<path d="M1890.08,476.08L1894.88,484.48L1885.28,484.48Z" fill="#0000ff"/>
<path d="M1927.93,25.32L1932.73,33.73L1923.13,33.73Z" fill="#0000ff"/>
<path d="M1927.93,456.63L1932.73,465.03L1923.13,465.03Z" fill="#0000ff"/>
<path d="M1965.78,43.22L1970.58,51.62L1960.98,51.62Z" fill="#0000ff"/>
<path d="M1965.78,444.18L1970.58,452.58L1960.98,452.58Z" fill="#0000ff"/>
<path d="M1987.92,62.62L1992.72,71.02L1983.12,71.02Z" fill="#0000ff"/>
<path d="M1987.92,437.18L1992.72,445.58L1983.12,445.58Z" fill="#0000ff"/>
<path d="M2015.82,95.39L2020.62,103.79L2011.02,103.79Z" fill="#0000ff"/>
<path d="M2015.82,422.92L2020.62,431.32L2011.02,431.32Z" fill="#0000ff"/>
<path d="M2053.67,153.35L2058.47,161.75L2048.87,161.75Z" fill="#0000ff"/>
<path d="M2053.67,398.28L2058.47,406.68L2048.87,406.68Z" fill="#0000ff"/>
<path d="M2091.52,220.63L2096.32,229.03L2086.72,229.03Z" fill="#0000ff"/>
<path d="M2091.52,371.05L2096.32,379.45L2086.72,379.45Z" fill="#0000ff"/>
<path d="M2113.66,268.61L2118.46,277.01L2108.86,277.01Z" fill="#0000ff"/>
<path d="M2113.66,353.41L2118.46,361.81L2108.86,361.81Z" fill="#0000ff"/>
<path d="M2141.56,326.96L2146.36,335.36L2136.76,335.36Z" fill="#0000ff"/>
<path d="M2141.56,327.48L2146.36,335.88L2136.76,335.88Z" fill="#0000ff"/>
<path d="M2179.41,394.91L2184.21,403.31L2174.61,403.31Z" fill="#0000ff"/>
<path d="M2179.41,304.92L2184.21,313.32L2174.61,313.32Z" fill="#0000ff"/>
<path d="M2217.26,445.74L2222.06,454.14L2212.46,454.14Z" fill="#0000ff"/>
<path d="M2217.26,285.99L2222.06,294.39L2212.46,294.39Z" fill="#0000ff"/>
<path d="M2239.40,464.41L2244.20,472.81L2234.60,472.81Z" fill="#0000ff"/>
<path d="M2239.40,281.06L2244.20,289.46L2234.60,289.46Z" fill="#0000ff"/>
<path d="M2267.30,484.64L2272.10,493.04L2262.50,493.04Z" fill="#0000ff"/>
<path d="M2267.30,275.09L2272.10,283.49L2262.50,283.49Z" fill="#0000ff"/>
<polyline points="1785.00,19.78 1788.16,19.88 1791.32,19.98 1794.48,20.10 1797.64,20.22 1800.80,20.34 1803.96,20.47 1807.12,20.61 1810.27,20.76 1813.43,20.92 1816.59,21.08 1819.75,21.25 1822.91,21.43 1826.07,21.63 1829.23,21.83 1832.39,22.04 1835.55,22.27 1838.71,22.51 1841.87,22.76 1845.03,23.02 1848.19,23.30 1851.35,23.60 1854.50,23.91 1857.66,24.23 1860.82,24.58 1863.98,24.94 1867.14,25.33 1870.30,25.73 1873.46,26.16 1876.62,26.60 1879.78,27.08 1882.94,27.58 1886.10,28.10 1889.26,28.65 1892.42,29.23 1895.58,29.85 1898.73,30.49 1901.89,31.17 1905.05,31.89 1908.21,32.64 1911.37,33.43 1914.53,34.26 1917.69,35.14 1920.85,36.06 1924.01,37.03 1927.17,38.05 1930.33,39.12 1933.49,40.25 1936.65,41.43 1939.81,42.67 1942.96,43.98 1946.12,45.35 1949.28,46.79 1952.44,48.29 1955.60,49.87 1958.76,51.53 1961.92,53.27 1965.08,55.09 1968.24,57.00 1971.40,58.99 1974.56,61.08 1977.72,63.27 1980.88,65.55 1984.04,67.94 1987.19,70.43 1990.35,73.03 1993.51,75.75 1996.67,78.58 1999.83,81.53 2002.99,84.60 2006.15,87.80 2009.31,91.12 2012.47,94.57 2015.63,98.16 2018.79,101.89 2021.95,105.75 2025.11,109.75 2028.27,113.89 2031.43,118.17 2034.58,122.59 2037.74,127.16 2040.90,131.87 2044.06,136.73 2047.22,141.72 2050.38,146.86 2053.54,152.13 2056.70,157.54 2059.86,163.08 2063.02,168.76 2066.18,174.56 2069.34,180.48 2072.50,186.52 2075.66,192.66 2078.81,198.92 2081.97,205.27 2085.13,211.71 2088.29,218.23 2091.45,224.83 2094.61,231.50 2097.77,238.22 2100.93,244.99 2104.09,251.80 2107.25,258.64 2110.41,265.50 2113.57,272.37 2116.73,279.23 2119.89,286.09 2123.04,292.92 2126.20,299.73 2129.36,306.49 2132.52,313.21 2135.68,319.86 2138.84,326.45 2142.00,332.96 2145.16,339.38 2148.32,345.72 2151.48,351.95 2154.64,358.08 2157.80,364.10 2160.96,370.00 2164.12,375.78 2167.27,381.43 2170.43,386.95 2173.59,392.34 2176.75,397.59 2179.91,402.70 2183.07,407.67 2186.23,412.50 2189.39,417.19 2192.55,421.73 2195.71,426.13 2198.87,430.39 2202.03,434.50 2205.19,438.48 2208.35,442.32 2211.51,446.02 2214.66,449.58 2217.82,453.01 2220.98,456.31 2224.14,459.49 2227.30,462.54 2230.46,465.47 2233.62,468.28 2236.78,470.97 2239.94,473.56 2243.10,476.03 2246.26,478.40 2249.42,480.67 2252.58,482.83 2255.74,484.91 2258.89,486.89 2262.05,488.78 2265.21,490.58 2268.37,492.31 2271.53,493.95 2274.69,495.52 2277.85,497.02 2281.01,498.44 2284.17,499.80 2287.33,501.09 2290.49,502.33 2293.65,503.50 2296.81,504.61 2299.97,505.68 2303.12,506.69 2306.28,507.65 2309.44,508.56 2312.60,509.43 2315.76,510.26 2318.92,511.04 2322.08,511.79 2325.24,512.50 2328.40,513.17 2331.56,513.81 2334.72,514.42 2337.88,514.99 2341.04,515.54 2344.20,516.06 2347.35,516.56 2350.51,517.02 2353.67,517.47 2356.83,517.89 2359.99,518.29 2363.15,518.67 2366.31,519.03 2369.47,519.37 2372.63,519.70 2375.79,520.00 2378.95,520.30 2382.11,520.57 2385.27,520.84 2388.43,521.08 2391.58,521.32 2394.74,521.54 2397.90,521.76 2401.06,521.96 2404.22,522.15 2407.38,522.33 2410.54,522.50 2413.70,522.66" fill="none" stroke="#0000ff" stroke-width="2"/>
<polyline points="1785.00,486.27 1788.16,486.13 1791.32,485.99 1794.48,485.84 1797.64,485.68 1800.80,485.52 1803.96,485.35 1807.12,485.17 1810.27,484.98 1813.43,484.79 1816.59,484.58 1819.75,484.37 1822.91,484.15 1826.07,483.92 1829.23,483.67 1832.39,483.42 1835.55,483.16 1838.71,482.88 1841.87,482.59 1845.03,482.29 1848.19,481.98 1851.35,481.65 1854.50,481.31 1857.66,480.96 1860.82,480.59 1863.98,480.20 1867.14,479.79 1870.30,479.37 1873.46,478.94 1876.62,478.48 1879.78,478.00 1882.94,477.51 1886.10,476.99 1889.26,476.45 1892.42,475.89 1895.58,475.31 1898.73,474.70 1901.89,474.07 1905.05,473.42 1908.21,472.73 1911.37,472.03 1914.53,471.29 1917.69,470.52 1920.85,469.73 1924.01,468.90 1927.17,468.05 1930.33,467.16 1933.49,466.24 1936.65,465.28 1939.81,464.29 1942.96,463.26 1946.12,462.20 1949.28,461.10 1952.44,459.97 1955.60,458.79 1958.76,457.57 1961.92,456.32 1965.08,455.02 1968.24,453.68 1971.40,452.30 1974.56,450.88 1977.72,449.42 1980.88,447.91 1984.04,446.36 1987.19,444.76 1990.35,443.12 1993.51,441.44 1996.67,439.71 1999.83,437.94 2002.99,436.12 2006.15,434.26 2009.31,432.36 2012.47,430.41 2015.63,428.42 2018.79,426.39 2021.95,424.33 2025.11,422.22 2028.27,420.07 2031.43,417.89 2034.58,415.67 2037.74,413.41 2040.90,411.13 2044.06,408.81 2047.22,406.46 2050.38,404.09 2053.54,401.69 2056.70,399.27 2059.86,396.83 2063.02,394.36 2066.18,391.89 2069.34,389.40 2072.50,386.89 2075.66,384.38 2078.81,381.87 2081.97,379.34 2085.13,376.82 2088.29,374.30 2091.45,371.79 2094.61,369.28 2097.77,366.78 2100.93,364.29 2104.09,361.81 2107.25,359.36 2110.41,356.92 2113.57,354.50 2116.73,352.11 2119.89,349.74 2123.04,347.40 2126.20,345.09 2129.36,342.81 2132.52,340.57 2135.68,338.36 2138.84,336.18 2142.00,334.04 2145.16,331.94 2148.32,329.89 2151.48,327.87 2154.64,325.89 2157.80,323.95 2160.96,322.06 2164.12,320.21 2167.27,318.40 2170.43,316.64 2173.59,314.92 2176.75,313.25 2179.91,311.62 2183.07,310.04 2186.23,308.49 2189.39,307.00 2192.55,305.54 2195.71,304.13 2198.87,302.76 2202.03,301.43 2205.19,300.14 2208.35,298.90 2211.51,297.69 2214.66,296.53 2217.82,295.40 2220.98,294.31 2224.14,293.25 2227.30,292.24 2230.46,291.25 2233.62,290.31 2236.78,289.39 2239.94,288.51 2243.10,287.66 2246.26,286.84 2249.42,286.06 2252.58,285.30 2255.74,284.57 2258.89,283.86 2262.05,283.19 2265.21,282.54 2268.37,281.91 2271.53,281.31 2274.69,280.74 2277.85,280.18 2281.01,279.65 2284.17,279.14 2287.33,278.65 2290.49,278.17 2293.65,277.72 2296.81,277.29 2299.97,276.87 2303.12,276.47 2306.28,276.09 2309.44,275.72 2312.60,275.37 2315.76,275.03 2318.92,274.71 2322.08,274.40 2325.24,274.10 2328.40,273.82 2331.56,273.54 2334.72,273.28 2337.88,273.03 2341.04,272.79 2344.20,272.56 2347.35,272.34 2350.51,272.13 2353.67,271.93 2356.83,271.74 2359.99,271.55 2363.15,271.38 2366.31,271.21 2369.47,271.05 2372.63,270.89 2375.79,270.74 2378.95,270.60 2382.11,270.47 2385.27,270.34 2388.43,270.21 2391.58,270.09 2394.74,269.98 2397.90,269.87 2401.06,269.77 2404.22,269.67 2407.38,269.57 2410.54,269.48 2413.70,269.39" fill="none" stroke="#0000ff" stroke-width="2"/>
<path d="M1890.08,29.48L1894.18,22.58L1885.98,22.58Z" fill="none" stroke="#008000" stroke-width="1.25"/>
<path d="M1890.08,482.91L1894.18,476.01L1885.98,476.01Z" fill="none" stroke="#008000" stroke-width="1.25"/>
<path d="M1927.93,38.05L1932.03,31.15L1923.83,31.15Z" fill="none" stroke="#008000" stroke-width="1.25"/>
<path d="M1927.93,468.90L1932.03,462.00L1923.83,462.00Z" fill="none" stroke="#008000" stroke-width="1.25"/>
<path d="M1965.78,65.26L1969.88,58.36L1961.68,58.36Z" fill="none" stroke="#008000" stroke-width="1.25"/>
<path d="M1965.78,455.68L1969.88,448.78L1961.68,448.78Z" fill="none" stroke="#008000" stroke-width="1.25"/>
<path d="M1987.92,78.37L1992.02,71.47L1983.82,71.47Z" fill="none" stroke="#008000" stroke-width="1.25"/>
<path d="M1987.92,444.79L1992.02,437.89L1983.82,437.89Z" fill="none" stroke="#008000" stroke-width="1.25"/>
<path d="M2015.82,115.67L2019.92,108.77L2011.72,108.77Z" fill="none" stroke="#008000" stroke-width="1.25"/>
<path d="M2015.82,428.45L2019.92,421.55L2011.72,421.55Z" fill="none" stroke="#008000" stroke-width="1.25"/>
<path d="M2053.67,178.17L2057.77,171.27L2049.57,171.27Z" fill="none" stroke="#008000" stroke-width="1.25"/>
<path d="M2053.67,404.07L2057.77,397.17L2049.57,397.17Z" fill="none" stroke="#008000" stroke-width="1.25"/>
<path d="M2091.52,256.77L2095.62,249.87L2087.42,249.87Z" fill="none" stroke="#008000" stroke-width="1.25"/>
<path d="M2091.52,372.17L2095.62,365.27L2087.42,365.27Z" fill="none" stroke="#008000" stroke-width="1.25"/>
<path d="M2113.66,305.52L2117.76,298.62L2109.56,298.62Z" fill="none" stroke="#008000" stroke-width="1.25"/>
<path d="M2113.66,354.80L2117.76,347.90L2109.56,347.90Z" fill="none" stroke="#008000" stroke-width="1.25"/>
<path d="M2141.56,361.80L2145.66,354.90L2137.46,354.90Z" fill="none" stroke="#008000" stroke-width="1.25"/>
<path d="M2141.56,330.68L2145.66,323.78L2137.46,323.78Z" fill="none" stroke="#008000" stroke-width="1.25"/>
<path d="M2179.41,422.74L2183.51,415.84L2175.31,415.84Z" fill="none" stroke="#008000" stroke-width="1.25"/>
<path d="M2179.41,307.34L2183.51,300.44L2175.31,300.44Z" fill="none" stroke="#008000" stroke-width="1.25"/>
<path d="M2217.26,469.42L2221.36,462.52L2213.16,462.52Z" fill="none" stroke="#008000" stroke-width="1.25"/>
<path d="M2217.26,289.18L2221.36,282.28L2213.16,282.28Z" fill="none" stroke="#008000" stroke-width="1.25"/>
<path d="M2239.40,484.46L2243.50,477.56L2235.30,477.56Z" fill="none" stroke="#008000" stroke-width="1.25"/>
<path d="M2239.40,284.78L2243.50,277.88L2235.30,277.88Z" fill="none" stroke="#008000" stroke-width="1.25"/>
<path d="M2267.30,497.95L2271.40,491.05L2263.20,491.05Z" fill="none" stroke="#008000" stroke-width="1.25"/>
<path d="M2267.30,278.03L2271.40,271.13L2263.20,271.13Z" fill="none" stroke="#008000" stroke-width="1.25"/>
<polyline points="1785.00,19.96 1788.16,20.07 1791.32,20.19 1794.48,20.32 1797.64,20.45 1800.80,20.59 1803.96,20.74 1807.12,20.89 1810.27,21.06 1813.43,21.24 1816.59,21.42 1819.75,21.62 1822.91,21.82 1826.07,22.04 1829.23,22.27 1832.39,22.51 1835.55,22.77 1838.71,23.04 1841.87,23.32 1845.03,23.62 1848.19,23.94 1851.35,24.28 1854.50,24.63 1857.66,25.00 1860.82,25.40 1863.98,25.81 1867.14,26.25 1870.30,26.71 1873.46,27.20 1876.62,27.72 1879.78,28.26 1882.94,28.83 1886.10,29.43 1889.26,30.07 1892.42,30.74 1895.58,31.44 1898.73,32.18 1901.89,32.97 1905.05,33.79 1908.21,34.66 1911.37,35.57 1914.53,36.54 1917.69,37.55 1920.85,38.61 1924.01,39.73 1927.17,40.91 1930.33,42.15 1933.49,43.45 1936.65,44.82 1939.81,46.26 1942.96,47.77 1946.12,49.35 1949.28,51.02 1952.44,52.76 1955.60,54.59 1958.76,56.51 1961.92,58.52 1965.08,60.63 1968.24,62.83 1971.40,65.14 1974.56,67.55 1977.72,70.07 1980.88,72.71 1984.04,75.46 1987.19,78.33 1990.35,81.32 1993.51,84.44 1996.67,87.69 1999.83,91.08 2002.99,94.59 2006.15,98.25 2009.31,102.04 2012.47,105.98 2015.63,110.07 2018.79,114.29 2021.95,118.67 2025.11,123.19 2028.27,127.87 2031.43,132.69 2034.58,137.65 2037.74,142.77 2040.90,148.03 2044.06,153.43 2047.22,158.97 2050.38,164.66 2053.54,170.47 2056.70,176.41 2059.86,182.48 2063.02,188.67 2066.18,194.97 2069.34,201.38 2072.50,207.88 2075.66,214.48 2078.81,221.15 2081.97,227.91 2085.13,234.72 2088.29,241.59 2091.45,248.51 2094.61,255.46 2097.77,262.44 2100.93,269.43 2104.09,276.42 2107.25,283.41 2110.41,290.38 2113.57,297.32 2116.73,304.22 2119.89,311.07 2123.04,317.87 2126.20,324.60 2129.36,331.25 2132.52,337.82 2135.68,344.29 2138.84,350.66 2142.00,356.92 2145.16,363.07 2148.32,369.10 2151.48,375.00 2154.64,380.77 2157.80,386.41 2160.96,391.91 2164.12,397.27 2167.27,402.48 2170.43,407.54 2173.59,412.46 2176.75,417.24 2179.91,421.86 2183.07,426.33 2186.23,430.66 2189.39,434.84 2192.55,438.88 2195.71,442.77 2198.87,446.52 2202.03,450.13 2205.19,453.60 2208.35,456.94 2211.51,460.15 2214.66,463.22 2217.82,466.18 2220.98,469.01 2224.14,471.72 2227.30,474.32 2230.46,476.80 2233.62,479.18 2236.78,481.45 2239.94,483.62 2243.10,485.70 2246.26,487.68 2249.42,489.57 2252.58,491.37 2255.74,493.09 2258.89,494.72 2262.05,496.28 2265.21,497.77 2268.37,499.18 2271.53,500.53 2274.69,501.81 2277.85,503.03 2281.01,504.19 2284.17,505.29 2287.33,506.34 2290.49,507.34 2293.65,508.28 2296.81,509.18 2299.97,510.03 2303.12,510.84 2306.28,511.61 2309.44,512.34 2312.60,513.04 2315.76,513.69 2318.92,514.32 2322.08,514.91 2325.24,515.47 2328.40,516.01 2331.56,516.51 2334.72,516.99 2337.88,517.44 2341.04,517.87 2344.20,518.28 2347.35,518.67 2350.51,519.04 2353.67,519.38 2356.83,519.71 2359.99,520.03 2363.15,520.32 2366.31,520.60 2369.47,520.87 2372.63,521.12 2375.79,521.36 2378.95,521.58 2382.11,521.80 2385.27,522.00 2388.43,522.19 2391.58,522.37 2394.74,522.54 2397.90,522.71 2401.06,522.86 2404.22,523.01 2407.38,523.15 2410.54,523.28 2413.70,523.40" fill="none" stroke="#008000" stroke-width="2"/>
<polyline points="1785.00,480.74 1788.16,480.64 1791.32,480.53 1794.48,480.42 1797.64,480.30 1800.80,480.18 1803.96,480.05 1807.12,479.92 1810.27,479.77 1813.43,479.62 1816.59,479.46 1819.75,479.30 1822.91,479.13 1826.07,478.94 1829.23,478.75 1832.39,478.55 1835.55,478.34 1838.71,478.12 1841.87,477.89 1845.03,477.65 1848.19,477.39 1851.35,477.13 1854.50,476.85 1857.66,476.56 1860.82,476.25 1863.98,475.93 1867.14,475.59 1870.30,475.24 1873.46,474.87 1876.62,474.48 1879.78,474.07 1882.94,473.65 1886.10,473.21 1889.26,472.74 1892.42,472.25 1895.58,471.75 1898.73,471.21 1901.89,470.66 1905.05,470.08 1908.21,469.47 1911.37,468.83 1914.53,468.17 1917.69,467.48 1920.85,466.75 1924.01,466.00 1927.17,465.21 1930.33,464.39 1933.49,463.54 1936.65,462.65 1939.81,461.72 1942.96,460.76 1946.12,459.75 1949.28,458.71 1952.44,457.62 1955.60,456.49 1958.76,455.32 1961.92,454.10 1965.08,452.84 1968.24,451.53 1971.40,450.18 1974.56,448.77 1977.72,447.32 1980.88,445.82 1984.04,444.27 1987.19,442.66 1990.35,441.01 1993.51,439.30 1996.67,437.54 1999.83,435.73 2002.99,433.87 2006.15,431.96 2009.31,429.99 2012.47,427.98 2015.63,425.91 2018.79,423.79 2021.95,421.62 2025.11,419.41 2028.27,417.15 2031.43,414.84 2034.58,412.49 2037.74,410.10 2040.90,407.67 2044.06,405.20 2047.22,402.69 2050.38,400.15 2053.54,397.58 2056.70,394.99 2059.86,392.36 2063.02,389.72 2066.18,387.05 2069.34,384.37 2072.50,381.67 2075.66,378.97 2078.81,376.26 2081.97,373.54 2085.13,370.83 2088.29,368.12 2091.45,365.42 2094.61,362.72 2097.77,360.04 2100.93,357.38 2104.09,354.73 2107.25,352.11 2110.41,349.52 2113.57,346.95 2116.73,344.42 2119.89,341.91 2123.04,339.45 2126.20,337.02 2129.36,334.63 2132.52,332.29 2135.68,329.98 2138.84,327.73 2142.00,325.52 2145.16,323.36 2148.32,321.25 2151.48,319.18 2154.64,317.17 2157.80,315.21 2160.96,313.30 2164.12,311.45 2167.27,309.64 2170.43,307.89 2173.59,306.19 2176.75,304.54 2179.91,302.94 2183.07,301.39 2186.23,299.90 2189.39,298.45 2192.55,297.05 2195.71,295.70 2198.87,294.40 2202.03,293.14 2205.19,291.93 2208.35,290.76 2211.51,289.64 2214.66,288.55 2217.82,287.51 2220.98,286.51 2224.14,285.55 2227.30,284.63 2230.46,283.74 2233.62,282.89 2236.78,282.07 2239.94,281.29 2243.10,280.54 2246.26,279.82 2249.42,279.13 2252.58,278.47 2255.74,277.84 2258.89,277.23 2262.05,276.66 2265.21,276.10 2268.37,275.57 2271.53,275.07 2274.69,274.58 2277.85,274.12 2281.01,273.68 2284.17,273.25 2287.33,272.85 2290.49,272.46 2293.65,272.10 2296.81,271.75 2299.97,271.41 2303.12,271.09 2306.28,270.78 2309.44,270.49 2312.60,270.21 2315.76,269.95 2318.92,269.70 2322.08,269.46 2325.24,269.23 2328.40,269.01 2331.56,268.80 2334.72,268.60 2337.88,268.41 2341.04,268.23 2344.20,268.05 2347.35,267.89 2350.51,267.73 2353.67,267.58 2356.83,267.44 2359.99,267.31 2363.15,267.18 2366.31,267.05 2369.47,266.94 2372.63,266.83 2375.79,266.72 2378.95,266.62 2382.11,266.52 2385.27,266.43 2388.43,266.34 2391.58,266.26 2394.74,266.18 2397.90,266.11 2401.06,266.03 2404.22,265.96 2407.38,265.90 2410.54,265.84 2413.70,265.78" fill="none" stroke="#008000" stroke-width="2"/>
<path d="M1785.00,16.95V525.60H2413.70V16.95 M1785.00,525.60h10.5 M2413.70,525.60h-10.5 M1785.00,474.84h5.5 M2413.70,474.84h-5.5 M1785.00,424.07h10.5 M2413.70,424.07h-10.5 M1785.00,373.31h5.5 M2413.70,373.31h-5.5 M1785.00,322.54h10.5 M2413.70,322.54h-10.5 M1785.00,271.77h5.5 M2413.70,271.77h-5.5 M1785.00,221.01h10.5 M2413.70,221.01h-10.5 M1785.00,170.25h5.5 M2413.70,170.25h-5.5 M1785.00,119.48h10.5 M2413.70,119.48h-10.5 M1785.00,68.71h5.5 M2413.70,68.71h-5.5 M1785.00,17.95h10.5 M2413.70,17.95h-10.5 M1822.85,525.60v-5.5 M1844.99,525.60v-5.5 M1860.70,525.60v-5.5 M1872.89,525.60v-5.5 M1882.84,525.60v-5.5 M1891.26,525.60v-5.5 M1898.55,525.60v-5.5 M1904.99,525.60v-5.5 M1910.74,525.60v-10.5 M1948.59,525.60v-5.5 M1970.73,525.60v-5.5 M1986.44,525.60v-5.5 M1998.63,525.60v-5.5 M2008.58,525.60v-5.5 M2017.00,525.60v-5.5 M2024.29,525.60v-5.5 M2030.73,525.60v-5.5 M2036.48,525.60v-10.5 M2074.33,525.60v-5.5 M2096.47,525.60v-5.5 M2112.18,525.60v-5.5 M2124.37,525.60v-5.5 M2134.32,525.60v-5.5 M2142.74,525.60v-5.5 M2150.03,525.60v-5.5 M2156.47,525.60v-5.5 M2162.22,525.60v-10.5 M2200.07,525.60v-5.5 M2222.21,525.60v-5.5 M2237.92,525.60v-5.5 M2250.11,525.60v-5.5 M2260.06,525.60v-5.5 M2268.48,525.60v-5.5 M2275.77,525.60v-5.5 M2282.21,525.60v-5.5 M2287.96,525.60v-10.5 M2325.81,525.60v-5.5 M2347.95,525.60v-5.5 M2363.66,525.60v-5.5 M2375.85,525.60v-5.5 M2385.80,525.60v-5.5 M2394.22,525.60v-5.5 M2401.51,525.60v-5.5 M2407.95,525.60v-5.5" fill="none" stroke="#000" stroke-width="2"/>
<text x="1756.70" y="532.80" text-anchor="middle" font-size="33">0</text>
<text x="2422.10" y="532.10" font-size="33">0</text>
<text x="1756.70" y="431.27" text-anchor="middle" font-size="33">0.2</text>
<text x="2422.10" y="430.57" font-size="33">10</text>
<text x="1756.70" y="329.74" text-anchor="middle" font-size="33">0.4</text>
<text x="2422.10" y="329.04" font-size="33">20</text>
<text x="1756.70" y="228.21" text-anchor="middle" font-size="33">0.6</text>
<text x="2422.10" y="227.51" font-size="33">30</text>
<text x="1756.70" y="126.68" text-anchor="middle" font-size="33">0.8</text>
<text x="2422.10" y="125.98" font-size="33">40</text>
<text x="1756.70" y="25.15" text-anchor="middle" font-size="33">1.0</text>
<text x="2422.10" y="24.45" font-size="33">50</text>
<text x="1761.07" y="559.30" font-size="33">1E-6</text>
<text x="1886.76" y="559.30" font-size="33">1E-5</text>
<text x="2011.61" y="559.30" font-size="33">1E-4</text>
<text x="2133.46" y="559.30" font-size="33">0.001</text>
<text x="2266.95" y="559.30" font-size="33">0.01</text>
<text x="2388.74" y="559.30" font-size="33">0.1</text>
<line x1="2204.4" y1="37.8" x2="2258.5" y2="37.8" stroke="#000000" stroke-width="2"/>
<rect x="2228.00" y="34.30" width="7.0" height="7.0" fill="#000"/>
<text x="2268.56" y="47.10" font-style="italic" font-size="32">U</text>
<text x="2304.65" y="45.32" font-size="32" transform="translate(2313.69,34.70) scale(1.1,0.72) translate(-2313.69,-34.70)">=</text>
<text x="2332.99" y="47.10" font-size="32">1.0</text>
<line x1="2204.4" y1="68.7" x2="2258.5" y2="68.7" stroke="#ff0000" stroke-width="2"/>
<circle cx="2231.50" cy="68.70" r="3.5" fill="none" stroke="#ff0000" stroke-width="1.3"/>
<text x="2267.56" y="80.00" font-style="italic" font-size="32">U</text>
<text x="2305.55" y="78.22" font-size="32" transform="translate(2314.59,67.60) scale(1.1,0.72) translate(-2314.59,-67.60)">=</text>
<text x="2332.78" y="80.00" font-size="32">0.95</text>
<line x1="2204.4" y1="103.7" x2="2258.5" y2="103.7" stroke="#0000ff" stroke-width="2"/>
<path d="M2231.50,98.40L2236.30,106.80L2226.70,106.80Z" fill="#0000ff"/>
<text x="2265.76" y="114.40" font-style="italic" font-size="32">U</text>
<text x="2301.75" y="112.62" font-size="32" transform="translate(2310.79,102.00) scale(1.1,0.72) translate(-2310.79,-102.00)">=</text>
<text x="2329.18" y="114.40" font-size="32">0.8</text>
<line x1="2204.4" y1="137.2" x2="2258.5" y2="137.2" stroke="#008000" stroke-width="2"/>
<path d="M2231.50,142.10L2235.60,135.20L2227.40,135.20Z" fill="none" stroke="#008000" stroke-width="1.25"/>
<text x="2265.76" y="149.10" font-style="italic" font-size="32">U</text>
<text x="2301.75" y="147.32" font-size="32" transform="translate(2310.79,136.70) scale(1.1,0.72) translate(-2310.79,-136.70)">=</text>
<text x="2329.18" y="149.10" font-size="32">0.6</text>
<text x="2152.25" y="96.20" font-size="33">(c)</text>
<text transform="translate(1849.50,261.30) scale(1.2,0.87)" x="-0.98" y="0" font-style="italic" font-size="33">σ</text>
<text x="1867.31" y="272.70" font-size="33">m</text>
<text x="1871.34" y="258.30" font-style="italic" font-size="33">′</text>
<text x="1895.22" y="261.06" font-size="33" transform="translate(1904.55,250.10) scale(1.1,0.72) translate(-1904.55,-250.10)">=</text>
<text x="1922.10" y="263.00" font-size="33">150</text>
<text x="1975.77" y="260.80" font-size="33">kPa</text>
<text x="1855.15" y="309.10" font-style="italic" font-size="33">k</text>
<text x="1871.04" y="320.50" font-size="33">c</text>
<text x="1895.22" y="309.56" font-size="33" transform="translate(1904.55,298.60) scale(1.1,0.72) translate(-1904.55,-298.60)">=</text>
<text x="1922.10" y="310.90" font-size="33">1.0</text>
<text transform="translate(1709.00,525.65) rotate(-90)" font-size="33">Dynamic shear modulus ratio, <tspan font-style="italic">G</tspan>/<tspan font-style="italic">G</tspan><tspan font-size="21" dy="4.5">max</tspan></text>
<text transform="translate(2488.30,400.65) rotate(-90)" font-size="33">Damping ratio, <tspan font-style="italic">λ</tspan>%</text>
<text x="1993.49" y="593.00" font-size="33">Shear strain, <tspan font-style="italic">γ</tspan></text>
<rect x="604.56" y="663.56" width="7.0" height="7.0" fill="#000"/>
<rect x="604.56" y="1128.07" width="7.0" height="7.0" fill="#000"/>
<rect x="642.41" y="671.12" width="7.0" height="7.0" fill="#000"/>
<rect x="642.41" y="1116.91" width="7.0" height="7.0" fill="#000"/>
<rect x="680.25" y="686.24" width="7.0" height="7.0" fill="#000"/>
<rect x="680.25" y="1103.43" width="7.0" height="7.0" fill="#000"/>
<rect x="702.39" y="700.60" width="7.0" height="7.0" fill="#000"/>
<rect x="702.39" y="1097.72" width="7.0" height="7.0" fill="#000"/>
<rect x="730.28" y="723.79" width="7.0" height="7.0" fill="#000"/>
<rect x="730.28" y="1074.90" width="7.0" height="7.0" fill="#000"/>
<rect x="768.13" y="774.95" width="7.0" height="7.0" fill="#000"/>
<rect x="768.13" y="1055.45" width="7.0" height="7.0" fill="#000"/>
<rect x="805.97" y="847.21" width="7.0" height="7.0" fill="#000"/>
<rect x="805.97" y="1027.70" width="7.0" height="7.0" fill="#000"/>
<rect x="828.11" y="892.85" width="7.0" height="7.0" fill="#000"/>
<rect x="828.11" y="1014.74" width="7.0" height="7.0" fill="#000"/>
<rect x="856.00" y="949.90" width="7.0" height="7.0" fill="#000"/>
<rect x="856.00" y="999.70" width="7.0" height="7.0" fill="#000"/>
<rect x="893.85" y="1016.55" width="7.0" height="7.0" fill="#000"/>
<rect x="893.85" y="973.24" width="7.0" height="7.0" fill="#000"/>
<rect x="931.69" y="1065.05" width="7.0" height="7.0" fill="#000"/>
<rect x="931.69" y="951.72" width="7.0" height="7.0" fill="#000"/>
<rect x="953.83" y="1091.76" width="7.0" height="7.0" fill="#000"/>
<rect x="953.83" y="946.53" width="7.0" height="7.0" fill="#000"/>
<rect x="981.72" y="1116.91" width="7.0" height="7.0" fill="#000"/>
<rect x="981.72" y="943.16" width="7.0" height="7.0" fill="#000"/>
<polyline points="503.00,664.87 506.16,664.96 509.32,665.06 512.48,665.16 515.64,665.27 518.79,665.39 521.95,665.51 525.11,665.64 528.27,665.78 531.43,665.92 534.59,666.07 537.75,666.22 540.91,666.39 544.06,666.56 547.22,666.75 550.38,666.94 553.54,667.14 556.70,667.36 559.86,667.58 563.02,667.82 566.18,668.07 569.33,668.33 572.49,668.61 575.65,668.90 578.81,669.21 581.97,669.53 585.13,669.87 588.29,670.22 591.45,670.60 594.61,670.99 597.76,671.41 600.92,671.84 604.08,672.30 607.24,672.79 610.40,673.29 613.56,673.82 616.72,674.38 619.88,674.97 623.03,675.59 626.19,676.24 629.35,676.92 632.51,677.64 635.67,678.39 638.83,679.18 641.99,680.02 645.15,680.89 648.30,681.80 651.46,682.76 654.62,683.77 657.78,684.83 660.94,685.93 664.10,687.09 667.26,688.31 670.42,689.59 673.57,690.93 676.73,692.33 679.89,693.79 683.05,695.33 686.21,696.93 689.37,698.61 692.53,700.37 695.69,702.21 698.85,704.13 702.00,706.13 705.16,708.23 708.32,710.41 711.48,712.69 714.64,715.07 717.80,717.55 720.96,720.13 724.12,722.81 727.27,725.61 730.43,728.52 733.59,731.54 736.75,734.68 739.91,737.94 743.07,741.32 746.23,744.82 749.39,748.45 752.54,752.21 755.70,756.10 758.86,760.11 762.02,764.26 765.18,768.54 768.34,772.95 771.50,777.50 774.66,782.18 777.82,786.98 780.97,791.92 784.13,796.98 787.29,802.17 790.45,807.49 793.61,812.92 796.77,818.48 799.93,824.14 803.09,829.92 806.24,835.79 809.40,841.77 812.56,847.84 815.72,853.99 818.88,860.23 822.04,866.54 825.20,872.91 828.36,879.34 831.51,885.83 834.67,892.35 837.83,898.90 840.99,905.48 844.15,912.08 847.31,918.68 850.47,925.28 853.63,931.87 856.78,938.44 859.94,944.98 863.10,951.48 866.26,957.94 869.42,964.34 872.58,970.68 875.74,976.95 878.90,983.15 882.06,989.26 885.21,995.28 888.37,1001.20 891.53,1007.03 894.69,1012.75 897.85,1018.35 901.01,1023.84 904.17,1029.22 907.33,1034.47 910.48,1039.59 913.64,1044.59 916.80,1049.46 919.96,1054.20 923.12,1058.80 926.28,1063.28 929.44,1067.62 932.60,1071.83 935.75,1075.91 938.91,1079.86 942.07,1083.68 945.23,1087.37 948.39,1090.93 951.55,1094.37 954.71,1097.69 957.87,1100.88 961.03,1103.96 964.18,1106.92 967.34,1109.77 970.50,1112.51 973.66,1115.14 976.82,1117.67 979.98,1120.09 983.14,1122.42 986.30,1124.65 989.45,1126.78 992.61,1128.83 995.77,1130.79 998.93,1132.67 1002.09,1134.46 1005.25,1136.18 1008.41,1137.82 1011.57,1139.39 1014.72,1140.89 1017.88,1142.32 1021.04,1143.68 1024.20,1144.99 1027.36,1146.23 1030.52,1147.42 1033.68,1148.55 1036.84,1149.64 1039.99,1150.67 1043.15,1151.65 1046.31,1152.58 1049.47,1153.48 1052.63,1154.33 1055.79,1155.13 1058.95,1155.91 1062.11,1156.64 1065.27,1157.34 1068.42,1158.00 1071.58,1158.64 1074.74,1159.24 1077.90,1159.81 1081.06,1160.36 1084.22,1160.88 1087.38,1161.37 1090.54,1161.84 1093.69,1162.29 1096.85,1162.71 1100.01,1163.12 1103.17,1163.50 1106.33,1163.86 1109.49,1164.21 1112.65,1164.54 1115.81,1164.85 1118.96,1165.15 1122.12,1165.44 1125.28,1165.71 1128.44,1165.96 1131.60,1166.20" fill="none" stroke="#000000" stroke-width="2"/>
<polyline points="503.00,1143.99 506.16,1143.81 509.32,1143.62 512.48,1143.42 515.64,1143.22 518.79,1143.01 521.95,1142.78 525.11,1142.55 528.27,1142.31 531.43,1142.06 534.59,1141.80 537.75,1141.53 540.91,1141.25 544.06,1140.96 547.22,1140.65 550.38,1140.34 553.54,1140.01 556.70,1139.67 559.86,1139.31 563.02,1138.94 566.18,1138.56 569.33,1138.16 572.49,1137.75 575.65,1137.32 578.81,1136.87 581.97,1136.41 585.13,1135.93 588.29,1135.43 591.45,1134.91 594.61,1134.37 597.76,1133.81 600.92,1133.23 604.08,1132.63 607.24,1132.01 610.40,1131.37 613.56,1130.70 616.72,1130.01 619.88,1129.29 623.03,1128.55 626.19,1127.79 629.35,1126.99 632.51,1126.17 635.67,1125.33 638.83,1124.45 641.99,1123.54 645.15,1122.61 648.30,1121.64 651.46,1120.64 654.62,1119.61 657.78,1118.55 660.94,1117.46 664.10,1116.33 667.26,1115.17 670.42,1113.98 673.57,1112.75 676.73,1111.48 679.89,1110.18 683.05,1108.85 686.21,1107.47 689.37,1106.07 692.53,1104.62 695.69,1103.14 698.85,1101.62 702.00,1100.07 705.16,1098.48 708.32,1096.85 711.48,1095.19 714.64,1093.49 717.80,1091.75 720.96,1089.98 724.12,1088.18 727.27,1086.34 730.43,1084.47 733.59,1082.57 736.75,1080.64 739.91,1078.67 743.07,1076.68 746.23,1074.66 749.39,1072.61 752.54,1070.53 755.70,1068.43 758.86,1066.31 762.02,1064.17 765.18,1062.00 768.34,1059.82 771.50,1057.62 774.66,1055.41 777.82,1053.19 780.97,1050.95 784.13,1048.70 787.29,1046.45 790.45,1044.20 793.61,1041.93 796.77,1039.67 799.93,1037.41 803.09,1035.15 806.24,1032.90 809.40,1030.65 812.56,1028.42 815.72,1026.19 818.88,1023.98 822.04,1021.78 825.20,1019.59 828.36,1017.42 831.51,1015.28 834.67,1013.15 837.83,1011.05 840.99,1008.97 844.15,1006.92 847.31,1004.89 850.47,1002.89 853.63,1000.92 856.78,998.98 859.94,997.08 863.10,995.20 866.26,993.36 869.42,991.55 872.58,989.77 875.74,988.03 878.90,986.33 882.06,984.66 885.21,983.03 888.37,981.43 891.53,979.87 894.69,978.35 897.85,976.86 901.01,975.41 904.17,974.00 907.33,972.62 910.48,971.28 913.64,969.97 916.80,968.70 919.96,967.47 923.12,966.27 926.28,965.10 929.44,963.97 932.60,962.87 935.75,961.80 938.91,960.77 942.07,959.77 945.23,958.79 948.39,957.85 951.55,956.94 954.71,956.06 957.87,955.21 961.03,954.38 964.18,953.59 967.34,952.82 970.50,952.07 973.66,951.35 976.82,950.66 979.98,949.99 983.14,949.34 986.30,948.71 989.45,948.11 992.61,947.53 995.77,946.97 998.93,946.43 1002.09,945.91 1005.25,945.40 1008.41,944.92 1011.57,944.45 1014.72,944.00 1017.88,943.57 1021.04,943.15 1024.20,942.75 1027.36,942.37 1030.52,942.00 1033.68,941.64 1036.84,941.29 1039.99,940.96 1043.15,940.65 1046.31,940.34 1049.47,940.05 1052.63,939.76 1055.79,939.49 1058.95,939.23 1062.11,938.98 1065.27,938.74 1068.42,938.50 1071.58,938.28 1074.74,938.07 1077.90,937.86 1081.06,937.66 1084.22,937.47 1087.38,937.29 1090.54,937.11 1093.69,936.95 1096.85,936.78 1100.01,936.63 1103.17,936.48 1106.33,936.34 1109.49,936.20 1112.65,936.07 1115.81,935.94 1118.96,935.82 1122.12,935.70 1125.28,935.59 1128.44,935.48 1131.60,935.38" fill="none" stroke="#000000" stroke-width="2"/>
<circle cx="608.06" cy="666.30" r="3.5" fill="#fff" stroke="#ff0000" stroke-width="1.3"/>
<circle cx="608.06" cy="1130.27" r="3.5" fill="#fff" stroke="#ff0000" stroke-width="1.3"/>
<circle cx="645.91" cy="675.62" r="3.5" fill="#fff" stroke="#ff0000" stroke-width="1.3"/>
<circle cx="645.91" cy="1119.38" r="3.5" fill="#fff" stroke="#ff0000" stroke-width="1.3"/>
<circle cx="683.75" cy="694.78" r="3.5" fill="#fff" stroke="#ff0000" stroke-width="1.3"/>
<circle cx="683.75" cy="1109.52" r="3.5" fill="#fff" stroke="#ff0000" stroke-width="1.3"/>
<circle cx="705.89" cy="711.66" r="3.5" fill="#fff" stroke="#ff0000" stroke-width="1.3"/>
<circle cx="705.89" cy="1099.67" r="3.5" fill="#fff" stroke="#ff0000" stroke-width="1.3"/>
<circle cx="733.78" cy="740.14" r="3.5" fill="#fff" stroke="#ff0000" stroke-width="1.3"/>
<circle cx="733.78" cy="1073.73" r="3.5" fill="#fff" stroke="#ff0000" stroke-width="1.3"/>
<circle cx="771.63" cy="791.55" r="3.5" fill="#fff" stroke="#ff0000" stroke-width="1.3"/>
<circle cx="771.63" cy="1053.77" r="3.5" fill="#fff" stroke="#ff0000" stroke-width="1.3"/>
<circle cx="809.47" cy="866.27" r="3.5" fill="#fff" stroke="#ff0000" stroke-width="1.3"/>
<circle cx="809.47" cy="1025.24" r="3.5" fill="#fff" stroke="#ff0000" stroke-width="1.3"/>
<circle cx="831.61" cy="912.95" r="3.5" fill="#fff" stroke="#ff0000" stroke-width="1.3"/>
<circle cx="831.61" cy="1010.98" r="3.5" fill="#fff" stroke="#ff0000" stroke-width="1.3"/>
<circle cx="859.50" cy="968.96" r="3.5" fill="#fff" stroke="#ff0000" stroke-width="1.3"/>
<circle cx="859.50" cy="994.12" r="3.5" fill="#fff" stroke="#ff0000" stroke-width="1.3"/>
<circle cx="897.35" cy="1034.32" r="3.5" fill="#fff" stroke="#ff0000" stroke-width="1.3"/>
<circle cx="897.35" cy="969.48" r="3.5" fill="#fff" stroke="#ff0000" stroke-width="1.3"/>
<circle cx="935.19" cy="1078.92" r="3.5" fill="#fff" stroke="#ff0000" stroke-width="1.3"/>
<circle cx="935.19" cy="950.81" r="3.5" fill="#fff" stroke="#ff0000" stroke-width="1.3"/>
<circle cx="957.33" cy="1106.93" r="3.5" fill="#fff" stroke="#ff0000" stroke-width="1.3"/>
<circle cx="957.33" cy="944.84" r="3.5" fill="#fff" stroke="#ff0000" stroke-width="1.3"/>
<circle cx="985.22" cy="1129.75" r="3.5" fill="#fff" stroke="#ff0000" stroke-width="1.3"/>
<circle cx="985.22" cy="944.07" r="3.5" fill="#fff" stroke="#ff0000" stroke-width="1.3"/>
<polyline points="503.00,665.04 506.16,665.15 509.32,665.26 512.48,665.37 515.64,665.50 518.79,665.63 521.95,665.76 525.11,665.90 528.27,666.05 531.43,666.21 534.59,666.38 537.75,666.55 540.91,666.74 544.06,666.93 547.22,667.14 550.38,667.35 553.54,667.58 556.70,667.82 559.86,668.07 563.02,668.34 566.18,668.61 569.33,668.91 572.49,669.22 575.65,669.54 578.81,669.88 581.97,670.24 585.13,670.62 588.29,671.02 591.45,671.44 594.61,671.88 597.76,672.35 600.92,672.84 604.08,673.35 607.24,673.89 610.40,674.46 613.56,675.06 616.72,675.68 619.88,676.34 623.03,677.04 626.19,677.77 629.35,678.53 632.51,679.34 635.67,680.18 638.83,681.07 641.99,682.00 645.15,682.98 648.30,684.01 651.46,685.09 654.62,686.22 657.78,687.40 660.94,688.64 664.10,689.95 667.26,691.31 670.42,692.74 673.57,694.24 676.73,695.81 679.89,697.46 683.05,699.17 686.21,700.97 689.37,702.85 692.53,704.82 695.69,706.87 698.85,709.02 702.00,711.25 705.16,713.59 708.32,716.03 711.48,718.57 714.64,721.21 717.80,723.97 720.96,726.83 724.12,729.81 727.27,732.91 730.43,736.13 733.59,739.47 736.75,742.94 739.91,746.54 743.07,750.26 746.23,754.11 749.39,758.10 752.54,762.21 755.70,766.47 758.86,770.85 762.02,775.37 765.18,780.03 768.34,784.81 771.50,789.73 774.66,794.79 777.82,799.97 780.97,805.27 784.13,810.71 787.29,816.26 790.45,821.93 793.61,827.71 796.77,833.60 799.93,839.59 803.09,845.68 806.24,851.85 809.40,858.11 812.56,864.45 815.72,870.86 818.88,877.33 822.04,883.85 825.20,890.42 828.36,897.02 831.51,903.65 834.67,910.30 837.83,916.95 840.99,923.61 844.15,930.26 847.31,936.89 850.47,943.49 853.63,950.06 856.78,956.58 859.94,963.05 863.10,969.46 866.26,975.79 869.42,982.06 872.58,988.23 875.74,994.32 878.90,1000.31 882.06,1006.20 885.21,1011.98 888.37,1017.65 891.53,1023.20 894.69,1028.63 897.85,1033.94 901.01,1039.12 904.17,1044.17 907.33,1049.09 910.48,1053.88 913.64,1058.53 916.80,1063.05 919.96,1067.44 923.12,1071.69 926.28,1075.81 929.44,1079.79 932.60,1083.65 935.75,1087.37 938.91,1090.96 942.07,1094.43 945.23,1097.77 948.39,1100.99 951.55,1104.09 954.71,1107.07 957.87,1109.94 961.03,1112.69 964.18,1115.34 967.34,1117.88 970.50,1120.31 973.66,1122.65 976.82,1124.89 979.98,1127.03 983.14,1129.08 986.30,1131.05 989.45,1132.93 992.61,1134.73 995.77,1136.45 998.93,1138.09 1002.09,1139.66 1005.25,1141.16 1008.41,1142.59 1011.57,1143.95 1014.72,1145.26 1017.88,1146.50 1021.04,1147.69 1024.20,1148.82 1027.36,1149.89 1030.52,1150.92 1033.68,1151.90 1036.84,1152.83 1039.99,1153.72 1043.15,1154.56 1046.31,1155.37 1049.47,1156.13 1052.63,1156.86 1055.79,1157.56 1058.95,1158.22 1062.11,1158.84 1065.27,1159.44 1068.42,1160.01 1071.58,1160.55 1074.74,1161.06 1077.90,1161.55 1081.06,1162.02 1084.22,1162.46 1087.38,1162.88 1090.54,1163.28 1093.69,1163.66 1096.85,1164.02 1100.01,1164.36 1103.17,1164.68 1106.33,1164.99 1109.49,1165.29 1112.65,1165.57 1115.81,1165.83 1118.96,1166.08 1122.12,1166.32 1125.28,1166.55 1128.44,1166.76 1131.60,1166.97" fill="none" stroke="#ff0000" stroke-width="2"/>
<polyline points="503.00,1142.59 506.16,1142.42 509.32,1142.24 512.48,1142.06 515.64,1141.86 518.79,1141.66 521.95,1141.45 525.11,1141.23 528.27,1141.01 531.43,1140.77 534.59,1140.52 537.75,1140.26 540.91,1139.99 544.06,1139.71 547.22,1139.42 550.38,1139.11 553.54,1138.80 556.70,1138.47 559.86,1138.12 563.02,1137.76 566.18,1137.39 569.33,1137.00 572.49,1136.60 575.65,1136.17 578.81,1135.74 581.97,1135.28 585.13,1134.80 588.29,1134.31 591.45,1133.80 594.61,1133.26 597.76,1132.71 600.92,1132.13 604.08,1131.53 607.24,1130.91 610.40,1130.26 613.56,1129.59 616.72,1128.90 619.88,1128.17 623.03,1127.43 626.19,1126.65 629.35,1125.84 632.51,1125.01 635.67,1124.14 638.83,1123.25 641.99,1122.32 645.15,1121.36 648.30,1120.37 651.46,1119.35 654.62,1118.29 657.78,1117.19 660.94,1116.06 664.10,1114.89 667.26,1113.69 670.42,1112.45 673.57,1111.17 676.73,1109.85 679.89,1108.49 683.05,1107.10 686.21,1105.66 689.37,1104.19 692.53,1102.67 695.69,1101.11 698.85,1099.52 702.00,1097.88 705.16,1096.21 708.32,1094.49 711.48,1092.73 714.64,1090.94 717.80,1089.10 720.96,1087.23 724.12,1085.32 727.27,1083.37 730.43,1081.39 733.59,1079.37 736.75,1077.32 739.91,1075.24 743.07,1073.12 746.23,1070.97 749.39,1068.80 752.54,1066.60 755.70,1064.37 758.86,1062.12 762.02,1059.84 765.18,1057.55 768.34,1055.24 771.50,1052.91 774.66,1050.57 777.82,1048.22 780.97,1045.86 784.13,1043.49 787.29,1041.12 790.45,1038.74 793.61,1036.37 796.77,1033.99 799.93,1031.62 803.09,1029.26 806.24,1026.90 809.40,1024.56 812.56,1022.23 815.72,1019.91 818.88,1017.62 822.04,1015.34 825.20,1013.08 828.36,1010.85 831.51,1008.64 834.67,1006.46 837.83,1004.30 840.99,1002.18 844.15,1000.09 847.31,998.03 850.47,996.00 853.63,994.01 856.78,992.05 859.94,990.13 863.10,988.25 866.26,986.41 869.42,984.60 872.58,982.84 875.74,981.11 878.90,979.42 882.06,977.78 885.21,976.17 888.37,974.60 891.53,973.08 894.69,971.59 897.85,970.15 901.01,968.74 904.17,967.37 907.33,966.05 910.48,964.76 913.64,963.51 916.80,962.29 919.96,961.12 923.12,959.98 926.28,958.87 929.44,957.80 932.60,956.77 935.75,955.77 938.91,954.80 942.07,953.87 945.23,952.96 948.39,952.09 951.55,951.25 954.71,950.44 957.87,949.65 961.03,948.90 964.18,948.17 967.34,947.47 970.50,946.79 973.66,946.14 976.82,945.51 979.98,944.90 983.14,944.32 986.30,943.76 989.45,943.22 992.61,942.70 995.77,942.20 998.93,941.72 1002.09,941.26 1005.25,940.82 1008.41,940.39 1011.57,939.99 1014.72,939.59 1017.88,939.21 1021.04,938.85 1024.20,938.50 1027.36,938.17 1030.52,937.85 1033.68,937.54 1036.84,937.25 1039.99,936.96 1043.15,936.69 1046.31,936.43 1049.47,936.18 1052.63,935.94 1055.79,935.71 1058.95,935.49 1062.11,935.28 1065.27,935.07 1068.42,934.88 1071.58,934.69 1074.74,934.51 1077.90,934.34 1081.06,934.18 1084.22,934.02 1087.38,933.87 1090.54,933.72 1093.69,933.58 1096.85,933.45 1100.01,933.32 1103.17,933.20 1106.33,933.08 1109.49,932.97 1112.65,932.87 1115.81,932.76 1118.96,932.66 1122.12,932.57 1125.28,932.48 1128.44,932.39 1131.60,932.31" fill="none" stroke="#ff0000" stroke-width="2"/>
<path d="M608.06,662.76L612.86,671.16L603.26,671.16Z" fill="#0000ff"/>
<path d="M608.06,1119.78L612.86,1128.18L603.26,1128.18Z" fill="#0000ff"/>
<path d="M645.91,671.08L650.71,679.48L641.11,679.48Z" fill="#0000ff"/>
<path d="M645.91,1109.93L650.71,1118.33L641.11,1118.33Z" fill="#0000ff"/>
<path d="M683.75,689.98L688.55,698.38L678.95,698.38Z" fill="#0000ff"/>
<path d="M683.75,1097.74L688.55,1106.14L678.95,1106.14Z" fill="#0000ff"/>
<path d="M705.89,707.12L710.69,715.52L701.09,715.52Z" fill="#0000ff"/>
<path d="M705.89,1087.37L710.69,1095.77L701.09,1095.77Z" fill="#0000ff"/>
<path d="M733.78,738.37L738.58,746.77L728.98,746.77Z" fill="#0000ff"/>
<path d="M733.78,1061.43L738.58,1069.83L728.98,1069.83Z" fill="#0000ff"/>
<path d="M771.63,800.37L776.43,808.77L766.83,808.77Z" fill="#0000ff"/>
<path d="M771.63,1041.46L776.43,1049.86L766.83,1049.86Z" fill="#0000ff"/>
<path d="M809.47,875.49L814.27,883.89L804.67,883.89Z" fill="#0000ff"/>
<path d="M809.47,1012.16L814.27,1020.56L804.67,1020.56Z" fill="#0000ff"/>
<path d="M831.61,922.17L836.41,930.57L826.81,930.57Z" fill="#0000ff"/>
<path d="M831.61,999.97L836.41,1008.37L826.81,1008.37Z" fill="#0000ff"/>
<path d="M859.50,983.63L864.30,992.03L854.70,992.03Z" fill="#0000ff"/>
<path d="M859.50,977.15L864.30,985.55L854.70,985.55Z" fill="#0000ff"/>
<path d="M897.35,1044.06L902.15,1052.46L892.55,1052.46Z" fill="#0000ff"/>
<path d="M897.35,957.70L902.15,966.10L892.55,966.10Z" fill="#0000ff"/>
<path d="M935.19,1086.07L939.99,1094.47L930.39,1094.47Z" fill="#0000ff"/>
<path d="M935.19,938.77L939.99,947.17L930.39,947.17Z" fill="#0000ff"/>
<path d="M957.33,1110.71L962.13,1119.11L952.53,1119.11Z" fill="#0000ff"/>
<path d="M957.33,936.17L962.13,944.57L952.53,944.57Z" fill="#0000ff"/>
<path d="M985.22,1133.27L990.02,1141.67L980.42,1141.67Z" fill="#0000ff"/>
<path d="M985.22,933.58L990.02,941.98L980.42,941.98Z" fill="#0000ff"/>
<polyline points="503.00,664.90 506.16,665.01 509.32,665.11 512.48,665.22 515.64,665.34 518.79,665.47 521.95,665.60 525.11,665.74 528.27,665.88 531.43,666.04 534.59,666.20 537.75,666.38 540.91,666.56 544.06,666.75 547.22,666.95 550.38,667.17 553.54,667.39 556.70,667.63 559.86,667.88 563.02,668.15 566.18,668.43 569.33,668.72 572.49,669.03 575.65,669.36 578.81,669.71 581.97,670.07 585.13,670.46 588.29,670.86 591.45,671.29 594.61,671.74 597.76,672.21 600.92,672.71 604.08,673.24 607.24,673.80 610.40,674.38 613.56,675.00 616.72,675.65 619.88,676.33 623.03,677.05 626.19,677.81 629.35,678.61 632.51,679.45 635.67,680.34 638.83,681.27 641.99,682.25 645.15,683.27 648.30,684.36 651.46,685.49 654.62,686.69 657.78,687.94 660.94,689.26 664.10,690.65 667.26,692.10 670.42,693.63 673.57,695.23 676.73,696.91 679.89,698.67 683.05,700.51 686.21,702.45 689.37,704.47 692.53,706.59 695.69,708.80 698.85,711.12 702.00,713.54 705.16,716.07 708.32,718.71 711.48,721.46 714.64,724.34 717.80,727.33 720.96,730.45 724.12,733.70 727.27,737.07 730.43,740.58 733.59,744.23 736.75,748.01 739.91,751.93 743.07,755.99 746.23,760.20 749.39,764.55 752.54,769.04 755.70,773.68 758.86,778.46 762.02,783.39 765.18,788.46 768.34,793.67 771.50,799.03 774.66,804.52 777.82,810.14 780.97,815.89 784.13,821.78 787.29,827.78 790.45,833.89 793.61,840.12 796.77,846.45 799.93,852.88 803.09,859.40 806.24,865.99 809.40,872.66 812.56,879.40 815.72,886.18 818.88,893.02 822.04,899.89 825.20,906.78 828.36,913.69 831.51,920.60 834.67,927.51 837.83,934.40 840.99,941.27 844.15,948.10 847.31,954.88 850.47,961.61 853.63,968.28 856.78,974.87 859.94,981.38 863.10,987.80 866.26,994.13 869.42,1000.35 872.58,1006.46 875.74,1012.46 878.90,1018.33 882.06,1024.08 885.21,1029.69 888.37,1035.18 891.53,1040.52 894.69,1045.73 897.85,1050.79 901.01,1055.71 904.17,1060.48 907.33,1065.11 910.48,1069.60 913.64,1073.94 916.80,1078.14 919.96,1082.19 923.12,1086.11 926.28,1089.88 929.44,1093.52 932.60,1097.02 935.75,1100.39 938.91,1103.63 942.07,1106.74 945.23,1109.73 948.39,1112.59 951.55,1115.34 954.71,1117.98 957.87,1120.50 961.03,1122.91 964.18,1125.22 967.34,1127.43 970.50,1129.55 973.66,1131.56 976.82,1133.49 979.98,1135.33 983.14,1137.09 986.30,1138.76 989.45,1140.36 992.61,1141.88 995.77,1143.33 998.93,1144.71 1002.09,1146.03 1005.25,1147.28 1008.41,1148.47 1011.57,1149.61 1014.72,1150.68 1017.88,1151.71 1021.04,1152.69 1024.20,1153.61 1027.36,1154.50 1030.52,1155.33 1033.68,1156.13 1036.84,1156.89 1039.99,1157.61 1043.15,1158.29 1046.31,1158.94 1049.47,1159.55 1052.63,1160.13 1055.79,1160.69 1058.95,1161.21 1062.11,1161.71 1065.27,1162.19 1068.42,1162.64 1071.58,1163.06 1074.74,1163.47 1077.90,1163.85 1081.06,1164.21 1084.22,1164.56 1087.38,1164.89 1090.54,1165.20 1093.69,1165.49 1096.85,1165.77 1100.01,1166.03 1103.17,1166.28 1106.33,1166.52 1109.49,1166.75 1112.65,1166.96 1115.81,1167.16 1118.96,1167.35 1122.12,1167.53 1125.28,1167.71 1128.44,1167.87 1131.60,1168.02" fill="none" stroke="#0000ff" stroke-width="2"/>
<polyline points="503.00,1139.58 506.16,1139.40 509.32,1139.22 512.48,1139.03 515.64,1138.83 518.79,1138.62 521.95,1138.41 525.11,1138.18 528.27,1137.94 531.43,1137.70 534.59,1137.44 537.75,1137.17 540.91,1136.89 544.06,1136.60 547.22,1136.29 550.38,1135.97 553.54,1135.64 556.70,1135.29 559.86,1134.93 563.02,1134.56 566.18,1134.16 569.33,1133.76 572.49,1133.33 575.65,1132.89 578.81,1132.42 581.97,1131.94 585.13,1131.44 588.29,1130.92 591.45,1130.38 594.61,1129.81 597.76,1129.22 600.92,1128.61 604.08,1127.98 607.24,1127.32 610.40,1126.63 613.56,1125.92 616.72,1125.18 619.88,1124.41 623.03,1123.61 626.19,1122.79 629.35,1121.93 632.51,1121.04 635.67,1120.11 638.83,1119.16 641.99,1118.17 645.15,1117.15 648.30,1116.09 651.46,1114.99 654.62,1113.86 657.78,1112.69 660.94,1111.48 664.10,1110.23 667.26,1108.94 670.42,1107.62 673.57,1106.25 676.73,1104.84 679.89,1103.39 683.05,1101.90 686.21,1100.36 689.37,1098.79 692.53,1097.17 695.69,1095.51 698.85,1093.81 702.00,1092.07 705.16,1090.28 708.32,1088.45 711.48,1086.59 714.64,1084.68 717.80,1082.73 720.96,1080.75 724.12,1078.72 727.27,1076.66 730.43,1074.57 733.59,1072.44 736.75,1070.28 739.91,1068.08 743.07,1065.86 746.23,1063.61 749.39,1061.33 752.54,1059.03 755.70,1056.71 758.86,1054.36 762.02,1052.00 765.18,1049.62 768.34,1047.23 771.50,1044.82 774.66,1042.41 777.82,1039.99 780.97,1037.57 784.13,1035.15 787.29,1032.72 790.45,1030.30 793.61,1027.89 796.77,1025.48 799.93,1023.09 803.09,1020.70 806.24,1018.34 809.40,1015.99 812.56,1013.66 815.72,1011.35 818.88,1009.06 822.04,1006.81 825.20,1004.57 828.36,1002.37 831.51,1000.20 834.67,998.06 837.83,995.96 840.99,993.89 844.15,991.86 847.31,989.86 850.47,987.90 853.63,985.99 856.78,984.11 859.94,982.27 863.10,980.47 866.26,978.72 869.42,977.01 872.58,975.33 875.74,973.70 878.90,972.12 882.06,970.57 885.21,969.07 888.37,967.61 891.53,966.19 894.69,964.81 897.85,963.47 901.01,962.17 904.17,960.92 907.33,959.70 910.48,958.52 913.64,957.37 916.80,956.27 919.96,955.20 923.12,954.16 926.28,953.17 929.44,952.20 932.60,951.27 935.75,950.37 938.91,949.50 942.07,948.67 945.23,947.86 948.39,947.09 951.55,946.34 954.71,945.62 957.87,944.93 961.03,944.26 964.18,943.62 967.34,943.00 970.50,942.41 973.66,941.84 976.82,941.29 979.98,940.76 983.14,940.25 986.30,939.77 989.45,939.30 992.61,938.85 995.77,938.42 998.93,938.01 1002.09,937.61 1005.25,937.23 1008.41,936.86 1011.57,936.51 1014.72,936.18 1017.88,935.86 1021.04,935.55 1024.20,935.25 1027.36,934.97 1030.52,934.69 1033.68,934.43 1036.84,934.18 1039.99,933.95 1043.15,933.72 1046.31,933.50 1049.47,933.29 1052.63,933.08 1055.79,932.89 1058.95,932.71 1062.11,932.53 1065.27,932.36 1068.42,932.20 1071.58,932.04 1074.74,931.90 1077.90,931.75 1081.06,931.62 1084.22,931.49 1087.38,931.36 1090.54,931.24 1093.69,931.13 1096.85,931.02 1100.01,930.91 1103.17,930.81 1106.33,930.72 1109.49,930.63 1112.65,930.54 1115.81,930.46 1118.96,930.38 1122.12,930.30 1125.28,930.23 1128.44,930.16 1131.60,930.09" fill="none" stroke="#0000ff" stroke-width="2"/>
<path d="M608.06,671.20L612.16,664.30L603.96,664.30Z" fill="none" stroke="#008000" stroke-width="1.25"/>
<path d="M608.06,1127.39L612.16,1120.49L603.96,1120.49Z" fill="none" stroke="#008000" stroke-width="1.25"/>
<path d="M645.91,684.56L650.01,677.66L641.81,677.66Z" fill="none" stroke="#008000" stroke-width="1.25"/>
<path d="M645.91,1114.94L650.01,1108.04L641.81,1108.04Z" fill="none" stroke="#008000" stroke-width="1.25"/>
<path d="M683.75,710.77L687.85,703.87L679.65,703.87Z" fill="none" stroke="#008000" stroke-width="1.25"/>
<path d="M683.75,1104.05L687.85,1097.15L679.65,1097.15Z" fill="none" stroke="#008000" stroke-width="1.25"/>
<path d="M705.89,727.90L709.99,721.00L701.79,721.00Z" fill="none" stroke="#008000" stroke-width="1.25"/>
<path d="M705.89,1091.08L709.99,1084.18L701.79,1084.18Z" fill="none" stroke="#008000" stroke-width="1.25"/>
<path d="M733.78,763.69L737.88,756.79L729.68,756.79Z" fill="none" stroke="#008000" stroke-width="1.25"/>
<path d="M733.78,1065.67L737.88,1058.77L729.68,1058.77Z" fill="none" stroke="#008000" stroke-width="1.25"/>
<path d="M771.63,831.23L775.73,824.33L767.53,824.33Z" fill="none" stroke="#008000" stroke-width="1.25"/>
<path d="M771.63,1045.70L775.73,1038.80L767.53,1038.80Z" fill="none" stroke="#008000" stroke-width="1.25"/>
<path d="M809.47,910.84L813.57,903.94L805.37,903.94Z" fill="none" stroke="#008000" stroke-width="1.25"/>
<path d="M809.47,1018.47L813.57,1011.57L805.37,1011.57Z" fill="none" stroke="#008000" stroke-width="1.25"/>
<path d="M831.61,960.12L835.71,953.22L827.51,953.22Z" fill="none" stroke="#008000" stroke-width="1.25"/>
<path d="M831.61,1003.43L835.71,996.53L827.51,996.53Z" fill="none" stroke="#008000" stroke-width="1.25"/>
<path d="M859.50,1009.39L863.60,1002.49L855.40,1002.49Z" fill="none" stroke="#008000" stroke-width="1.25"/>
<path d="M859.50,984.75L863.60,977.85L855.40,977.85Z" fill="none" stroke="#008000" stroke-width="1.25"/>
<path d="M897.35,1070.34L901.45,1063.44L893.25,1063.44Z" fill="none" stroke="#008000" stroke-width="1.25"/>
<path d="M897.35,962.71L901.45,955.81L893.25,955.81Z" fill="none" stroke="#008000" stroke-width="1.25"/>
<path d="M935.19,1111.31L939.29,1104.41L931.09,1104.41Z" fill="none" stroke="#008000" stroke-width="1.25"/>
<path d="M935.19,947.93L939.29,941.03L931.09,941.03Z" fill="none" stroke="#008000" stroke-width="1.25"/>
<path d="M957.33,1131.28L961.43,1124.38L953.23,1124.38Z" fill="none" stroke="#008000" stroke-width="1.25"/>
<path d="M957.33,941.96L961.43,935.06L953.23,935.06Z" fill="none" stroke="#008000" stroke-width="1.25"/>
<path d="M985.22,1150.73L989.32,1143.83L981.12,1143.83Z" fill="none" stroke="#008000" stroke-width="1.25"/>
<path d="M985.22,937.56L989.32,930.66L981.12,930.66Z" fill="none" stroke="#008000" stroke-width="1.25"/>
<polyline points="503.00,665.21 506.16,665.33 509.32,665.46 512.48,665.59 515.64,665.73 518.79,665.88 521.95,666.03 525.11,666.19 528.27,666.37 531.43,666.55 534.59,666.74 537.75,666.95 540.91,667.16 544.06,667.39 547.22,667.63 550.38,667.88 553.54,668.15 556.70,668.43 559.86,668.73 563.02,669.04 566.18,669.38 569.33,669.72 572.49,670.09 575.65,670.48 578.81,670.89 581.97,671.32 585.13,671.78 588.29,672.26 591.45,672.77 594.61,673.30 597.76,673.86 600.92,674.46 604.08,675.08 607.24,675.74 610.40,676.44 613.56,677.17 616.72,677.94 619.88,678.75 623.03,679.60 626.19,680.50 629.35,681.45 632.51,682.44 635.67,683.49 638.83,684.59 641.99,685.75 645.15,686.97 648.30,688.25 651.46,689.59 654.62,691.00 657.78,692.48 660.94,694.04 664.10,695.67 667.26,697.39 670.42,699.18 673.57,701.07 676.73,703.04 679.89,705.10 683.05,707.27 686.21,709.53 689.37,711.90 692.53,714.37 695.69,716.96 698.85,719.66 702.00,722.47 705.16,725.41 708.32,728.47 711.48,731.66 714.64,734.98 717.80,738.43 720.96,742.02 724.12,745.74 727.27,749.61 730.43,753.62 733.59,757.77 736.75,762.07 739.91,766.52 743.07,771.11 746.23,775.85 749.39,780.73 752.54,785.76 755.70,790.94 758.86,796.26 762.02,801.72 765.18,807.31 768.34,813.04 771.50,818.91 774.66,824.89 777.82,831.00 780.97,837.22 784.13,843.55 787.29,849.98 790.45,856.50 793.61,863.11 796.77,869.80 799.93,876.56 803.09,883.37 806.24,890.24 809.40,897.14 812.56,904.08 815.72,911.03 818.88,917.99 822.04,924.95 825.20,931.90 828.36,938.83 831.51,945.72 834.67,952.57 837.83,959.37 840.99,966.11 844.15,972.77 847.31,979.36 850.47,985.86 853.63,992.26 856.78,998.56 859.94,1004.74 863.10,1010.81 866.26,1016.76 869.42,1022.59 872.58,1028.28 875.74,1033.83 878.90,1039.25 882.06,1044.53 885.21,1049.66 888.37,1054.65 891.53,1059.49 894.69,1064.18 897.85,1068.73 901.01,1073.13 904.17,1077.39 907.33,1081.50 910.48,1085.46 913.64,1089.29 916.80,1092.97 919.96,1096.52 923.12,1099.93 926.28,1103.21 929.44,1106.36 932.60,1109.38 935.75,1112.28 938.91,1115.07 942.07,1117.73 945.23,1120.28 948.39,1122.72 951.55,1125.06 954.71,1127.29 957.87,1129.42 961.03,1131.46 964.18,1133.41 967.34,1135.26 970.50,1137.03 973.66,1138.72 976.82,1140.33 979.98,1141.87 983.14,1143.33 986.30,1144.72 989.45,1146.04 992.61,1147.30 995.77,1148.50 998.93,1149.64 1002.09,1150.73 1005.25,1151.76 1008.41,1152.74 1011.57,1153.67 1014.72,1154.56 1017.88,1155.40 1021.04,1156.20 1024.20,1156.95 1027.36,1157.67 1030.52,1158.36 1033.68,1159.01 1036.84,1159.62 1039.99,1160.21 1043.15,1160.76 1046.31,1161.29 1049.47,1161.79 1052.63,1162.26 1055.79,1162.71 1058.95,1163.13 1062.11,1163.54 1065.27,1163.92 1068.42,1164.28 1071.58,1164.63 1074.74,1164.95 1077.90,1165.26 1081.06,1165.55 1084.22,1165.83 1087.38,1166.09 1090.54,1166.34 1093.69,1166.58 1096.85,1166.80 1100.01,1167.01 1103.17,1167.21 1106.33,1167.40 1109.49,1167.58 1112.65,1167.76 1115.81,1167.92 1118.96,1168.07 1122.12,1168.21 1125.28,1168.35 1128.44,1168.48 1131.60,1168.61" fill="none" stroke="#008000" stroke-width="2"/>
<polyline points="503.00,1133.11 506.16,1132.95 509.32,1132.78 512.48,1132.61 515.64,1132.43 518.79,1132.24 521.95,1132.04 525.11,1131.84 528.27,1131.62 531.43,1131.39 534.59,1131.16 537.75,1130.91 540.91,1130.65 544.06,1130.38 547.22,1130.10 550.38,1129.81 553.54,1129.50 556.70,1129.18 559.86,1128.84 563.02,1128.49 566.18,1128.13 569.33,1127.75 572.49,1127.35 575.65,1126.93 578.81,1126.50 581.97,1126.05 585.13,1125.58 588.29,1125.09 591.45,1124.58 594.61,1124.04 597.76,1123.49 600.92,1122.91 604.08,1122.30 607.24,1121.68 610.40,1121.02 613.56,1120.34 616.72,1119.64 619.88,1118.90 623.03,1118.14 626.19,1117.34 629.35,1116.52 632.51,1115.66 635.67,1114.77 638.83,1113.85 641.99,1112.89 645.15,1111.90 648.30,1110.87 651.46,1109.81 654.62,1108.71 657.78,1107.57 660.94,1106.39 664.10,1105.17 667.26,1103.91 670.42,1102.61 673.57,1101.26 676.73,1099.88 679.89,1098.45 683.05,1096.98 686.21,1095.47 689.37,1093.91 692.53,1092.31 695.69,1090.66 698.85,1088.98 702.00,1087.24 705.16,1085.47 708.32,1083.65 711.48,1081.79 714.64,1079.89 717.80,1077.95 720.96,1075.96 724.12,1073.94 727.27,1071.88 730.43,1069.78 733.59,1067.64 736.75,1065.48 739.91,1063.27 743.07,1061.04 746.23,1058.78 749.39,1056.49 752.54,1054.17 755.70,1051.83 758.86,1049.48 762.02,1047.10 765.18,1044.70 768.34,1042.29 771.50,1039.87 774.66,1037.44 777.82,1035.01 780.97,1032.57 784.13,1030.13 787.29,1027.69 790.45,1025.26 793.61,1022.83 796.77,1020.41 799.93,1018.01 803.09,1015.62 806.24,1013.24 809.40,1010.89 812.56,1008.55 815.72,1006.24 818.88,1003.96 822.04,1001.70 825.20,999.48 828.36,997.28 831.51,995.12 834.67,992.99 837.83,990.90 840.99,988.85 844.15,986.83 847.31,984.86 850.47,982.92 853.63,981.03 856.78,979.18 859.94,977.37 863.10,975.60 866.26,973.88 869.42,972.20 872.58,970.57 875.74,968.98 878.90,967.43 882.06,965.93 885.21,964.46 888.37,963.05 891.53,961.67 894.69,960.34 897.85,959.04 901.01,957.79 904.17,956.58 907.33,955.41 910.48,954.28 913.64,953.19 916.80,952.13 919.96,951.11 923.12,950.12 926.28,949.17 929.44,948.26 932.60,947.38 935.75,946.53 938.91,945.71 942.07,944.92 945.23,944.16 948.39,943.44 951.55,942.74 954.71,942.06 957.87,941.41 961.03,940.79 964.18,940.19 967.34,939.62 970.50,939.07 973.66,938.54 976.82,938.03 979.98,937.55 983.14,937.08 986.30,936.63 989.45,936.20 992.61,935.79 995.77,935.40 998.93,935.02 1002.09,934.66 1005.25,934.31 1008.41,933.98 1011.57,933.66 1014.72,933.36 1017.88,933.07 1021.04,932.79 1024.20,932.52 1027.36,932.26 1030.52,932.02 1033.68,931.79 1036.84,931.56 1039.99,931.35 1043.15,931.14 1046.31,930.95 1049.47,930.76 1052.63,930.58 1055.79,930.41 1058.95,930.25 1062.11,930.09 1065.27,929.94 1068.42,929.80 1071.58,929.66 1074.74,929.53 1077.90,929.40 1081.06,929.29 1084.22,929.17 1087.38,929.06 1090.54,928.96 1093.69,928.86 1096.85,928.76 1100.01,928.67 1103.17,928.59 1106.33,928.50 1109.49,928.42 1112.65,928.35 1115.81,928.28 1118.96,928.21 1122.12,928.14 1125.28,928.08 1128.44,928.02 1131.60,927.96" fill="none" stroke="#008000" stroke-width="2"/>
<path d="M503.00,662.10V1170.80H1131.60V662.10 M503.00,1170.80h10.5 M1131.60,1170.80h-10.5 M503.00,1120.03h5.5 M1131.60,1120.03h-5.5 M503.00,1069.26h10.5 M1131.60,1069.26h-10.5 M503.00,1018.49h5.5 M1131.60,1018.49h-5.5 M503.00,967.72h10.5 M1131.60,967.72h-10.5 M503.00,916.95h5.5 M1131.60,916.95h-5.5 M503.00,866.18h10.5 M1131.60,866.18h-10.5 M503.00,815.41h5.5 M1131.60,815.41h-5.5 M503.00,764.64h10.5 M1131.60,764.64h-10.5 M503.00,713.87h5.5 M1131.60,713.87h-5.5 M503.00,663.10h10.5 M1131.60,663.10h-10.5 M540.85,1170.80v-5.5 M562.98,1170.80v-5.5 M578.69,1170.80v-5.5 M590.87,1170.80v-5.5 M600.83,1170.80v-5.5 M609.25,1170.80v-5.5 M616.54,1170.80v-5.5 M622.97,1170.80v-5.5 M628.72,1170.80v-10.5 M666.57,1170.80v-5.5 M688.70,1170.80v-5.5 M704.41,1170.80v-5.5 M716.59,1170.80v-5.5 M726.55,1170.80v-5.5 M734.97,1170.80v-5.5 M742.26,1170.80v-5.5 M748.69,1170.80v-5.5 M754.44,1170.80v-10.5 M792.29,1170.80v-5.5 M814.42,1170.80v-5.5 M830.13,1170.80v-5.5 M842.31,1170.80v-5.5 M852.27,1170.80v-5.5 M860.69,1170.80v-5.5 M867.98,1170.80v-5.5 M874.41,1170.80v-5.5 M880.16,1170.80v-10.5 M918.01,1170.80v-5.5 M940.14,1170.80v-5.5 M955.85,1170.80v-5.5 M968.03,1170.80v-5.5 M977.99,1170.80v-5.5 M986.41,1170.80v-5.5 M993.70,1170.80v-5.5 M1000.13,1170.80v-5.5 M1005.88,1170.80v-10.5 M1043.73,1170.80v-5.5 M1065.86,1170.80v-5.5 M1081.57,1170.80v-5.5 M1093.75,1170.80v-5.5 M1103.71,1170.80v-5.5 M1112.13,1170.80v-5.5 M1119.42,1170.80v-5.5 M1125.85,1170.80v-5.5" fill="none" stroke="#000" stroke-width="2"/>
<text x="474.70" y="1178.00" text-anchor="middle" font-size="33">0</text>
<text x="1140.00" y="1177.30" font-size="33">0</text>
<text x="474.70" y="1076.46" text-anchor="middle" font-size="33">0.2</text>
<text x="1140.00" y="1075.76" font-size="33">10</text>
<text x="474.70" y="974.92" text-anchor="middle" font-size="33">0.4</text>
<text x="1140.00" y="974.22" font-size="33">20</text>
<text x="474.70" y="873.38" text-anchor="middle" font-size="33">0.6</text>
<text x="1140.00" y="872.68" font-size="33">30</text>
<text x="474.70" y="771.84" text-anchor="middle" font-size="33">0.8</text>
<text x="1140.00" y="771.14" font-size="33">40</text>
<text x="474.70" y="670.30" text-anchor="middle" font-size="33">1.0</text>
<text x="1140.00" y="669.60" font-size="33">50</text>
<text x="479.07" y="1204.50" font-size="33">1E-6</text>
<text x="604.74" y="1204.50" font-size="33">1E-5</text>
<text x="729.57" y="1204.50" font-size="33">1E-4</text>
<text x="851.40" y="1204.50" font-size="33">0.001</text>
<text x="984.87" y="1204.50" font-size="33">0.01</text>
<text x="1106.64" y="1204.50" font-size="33">0.1</text>
<line x1="922.0" y1="704.3" x2="976.5" y2="704.3" stroke="#000000" stroke-width="2"/>
<rect x="945.80" y="700.80" width="7.0" height="7.0" fill="#000"/>
<text x="985.76" y="714.70" font-style="italic" font-size="32">U</text>
<text x="1021.75" y="712.92" font-size="32" transform="translate(1030.79,702.30) scale(1.1,0.72) translate(-1030.79,-702.30)">=</text>
<text x="1050.19" y="714.70" font-size="32">1.0</text>
<line x1="922.0" y1="735.3" x2="976.5" y2="735.3" stroke="#ff0000" stroke-width="2"/>
<circle cx="949.30" cy="735.30" r="3.5" fill="none" stroke="#ff0000" stroke-width="1.3"/>
<text x="984.96" y="747.60" font-style="italic" font-size="32">U</text>
<text x="1022.55" y="745.82" font-size="32" transform="translate(1031.59,735.20) scale(1.1,0.72) translate(-1031.59,-735.20)">=</text>
<text x="1050.08" y="747.60" font-size="32">0.95</text>
<line x1="922.0" y1="770.6" x2="976.5" y2="770.6" stroke="#0000ff" stroke-width="2"/>
<path d="M949.30,765.30L954.10,773.70L944.50,773.70Z" fill="#0000ff"/>
<text x="983.06" y="782.40" font-style="italic" font-size="32">U</text>
<text x="1018.65" y="780.62" font-size="32" transform="translate(1027.69,770.00) scale(1.1,0.72) translate(-1027.69,-770.00)">=</text>
<text x="1046.58" y="782.40" font-size="32">0.8</text>
<line x1="922.0" y1="803.9" x2="976.5" y2="803.9" stroke="#008000" stroke-width="2"/>
<path d="M949.30,808.80L953.40,801.90L945.20,801.90Z" fill="none" stroke="#008000" stroke-width="1.25"/>
<text x="983.06" y="817.10" font-style="italic" font-size="32">U</text>
<text x="1018.65" y="815.32" font-size="32" transform="translate(1027.69,804.70) scale(1.1,0.72) translate(-1027.69,-804.70)">=</text>
<text x="1046.58" y="817.10" font-size="32">0.6</text>
<text x="872.35" y="758.30" font-size="33">(d)</text>
<text transform="translate(572.60,911.90) scale(1.2,0.87)" x="-0.98" y="0" font-style="italic" font-size="33">σ</text>
<text x="590.71" y="924.10" font-size="33">m</text>
<text x="594.34" y="908.60" font-style="italic" font-size="33">′</text>
<text x="619.32" y="911.11" font-size="33" transform="translate(628.65,900.15) scale(1.1,0.72) translate(-628.65,-900.15)">=</text>
<text x="645.50" y="912.90" font-size="33">100</text>
<text x="699.97" y="912.00" font-size="33">kPa</text>
<text x="578.35" y="960.00" font-style="italic" font-size="33">k</text>
<text x="594.94" y="970.60" font-size="33">c</text>
<text x="618.82" y="960.71" font-size="33" transform="translate(628.15,949.75) scale(1.1,0.72) translate(-628.15,-949.75)">=</text>
<text x="646.50" y="962.40" font-size="33">1.2</text>
<text transform="translate(437.40,1171.25) rotate(-90)" font-size="33">Dynamic shear modulus ratio, <tspan font-style="italic">G</tspan>/<tspan font-style="italic">G</tspan><tspan font-size="21" dy="4.5">max</tspan></text>
<text transform="translate(1216.70,1045.85) rotate(-90)" font-size="33">Damping ratio, <tspan font-style="italic">λ</tspan>%</text>
<text x="721.99" y="1238.30" font-size="33">Shear strain, <tspan font-style="italic">γ</tspan></text>
<rect x="1447.10" y="658.28" width="7.0" height="7.0" fill="#000"/>
<rect x="1447.10" y="1133.85" width="7.0" height="7.0" fill="#000"/>
<rect x="1484.95" y="669.12" width="7.0" height="7.0" fill="#000"/>
<rect x="1484.95" y="1126.07" width="7.0" height="7.0" fill="#000"/>
<rect x="1522.81" y="681.72" width="7.0" height="7.0" fill="#000"/>
<rect x="1522.81" y="1115.69" width="7.0" height="7.0" fill="#000"/>
<rect x="1544.96" y="692.81" width="7.0" height="7.0" fill="#000"/>
<rect x="1544.96" y="1110.51" width="7.0" height="7.0" fill="#000"/>
<rect x="1572.86" y="714.48" width="7.0" height="7.0" fill="#000"/>
<rect x="1572.86" y="1089.76" width="7.0" height="7.0" fill="#000"/>
<rect x="1610.71" y="758.33" width="7.0" height="7.0" fill="#000"/>
<rect x="1610.71" y="1072.90" width="7.0" height="7.0" fill="#000"/>
<rect x="1648.57" y="818.56" width="7.0" height="7.0" fill="#000"/>
<rect x="1648.57" y="1049.04" width="7.0" height="7.0" fill="#000"/>
<rect x="1670.72" y="868.55" width="7.0" height="7.0" fill="#000"/>
<rect x="1670.72" y="1032.71" width="7.0" height="7.0" fill="#000"/>
<rect x="1698.62" y="924.56" width="7.0" height="7.0" fill="#000"/>
<rect x="1698.62" y="1013.77" width="7.0" height="7.0" fill="#000"/>
<rect x="1736.47" y="995.10" width="7.0" height="7.0" fill="#000"/>
<rect x="1736.47" y="991.21" width="7.0" height="7.0" fill="#000"/>
<rect x="1774.33" y="1062.01" width="7.0" height="7.0" fill="#000"/>
<rect x="1774.33" y="974.35" width="7.0" height="7.0" fill="#000"/>
<rect x="1796.48" y="1082.76" width="7.0" height="7.0" fill="#000"/>
<rect x="1796.48" y="969.17" width="7.0" height="7.0" fill="#000"/>
<rect x="1824.38" y="1104.02" width="7.0" height="7.0" fill="#000"/>
<rect x="1824.38" y="966.57" width="7.0" height="7.0" fill="#000"/>
<polyline points="1345.50,662.73 1348.66,662.80 1351.82,662.89 1354.98,662.97 1358.14,663.06 1361.30,663.16 1364.46,663.26 1367.62,663.36 1370.78,663.47 1373.94,663.59 1377.10,663.71 1380.26,663.84 1383.42,663.98 1386.58,664.12 1389.74,664.27 1392.90,664.43 1396.06,664.60 1399.22,664.78 1402.38,664.96 1405.54,665.16 1408.70,665.37 1411.86,665.58 1415.02,665.81 1418.18,666.05 1421.34,666.31 1424.49,666.58 1427.65,666.86 1430.81,667.15 1433.97,667.47 1437.13,667.79 1440.29,668.14 1443.45,668.50 1446.61,668.89 1449.77,669.29 1452.93,669.72 1456.09,670.16 1459.25,670.63 1462.41,671.13 1465.57,671.65 1468.73,672.19 1471.89,672.77 1475.05,673.37 1478.21,674.01 1481.37,674.67 1484.53,675.38 1487.69,676.11 1490.85,676.89 1494.01,677.70 1497.17,678.56 1500.33,679.46 1503.49,680.40 1506.65,681.39 1509.81,682.43 1512.97,683.52 1516.13,684.67 1519.29,685.87 1522.45,687.13 1525.61,688.45 1528.77,689.83 1531.93,691.28 1535.09,692.80 1538.25,694.39 1541.41,696.05 1544.57,697.80 1547.73,699.62 1550.89,701.52 1554.05,703.51 1557.21,705.59 1560.37,707.77 1563.53,710.03 1566.69,712.40 1569.85,714.87 1573.01,717.44 1576.17,720.12 1579.33,722.91 1582.48,725.81 1585.64,728.83 1588.80,731.97 1591.96,735.23 1595.12,738.62 1598.28,742.13 1601.44,745.76 1604.60,749.53 1607.76,753.43 1610.92,757.46 1614.08,761.63 1617.24,765.93 1620.40,770.36 1623.56,774.93 1626.72,779.63 1629.88,784.47 1633.04,789.44 1636.20,794.54 1639.36,799.77 1642.52,805.13 1645.68,810.61 1648.84,816.21 1652.00,821.93 1655.16,827.75 1658.32,833.69 1661.48,839.72 1664.64,845.85 1667.80,852.07 1670.96,858.36 1674.12,864.74 1677.28,871.18 1680.44,877.67 1683.60,884.22 1686.76,890.81 1689.92,897.44 1693.08,904.08 1696.24,910.75 1699.40,917.41 1702.56,924.08 1705.72,930.73 1708.88,937.36 1712.04,943.96 1715.20,950.52 1718.36,957.03 1721.52,963.48 1724.68,969.87 1727.84,976.19 1731.00,982.43 1734.16,988.58 1737.32,994.64 1740.47,1000.60 1743.63,1006.45 1746.79,1012.19 1749.95,1017.82 1753.11,1023.33 1756.27,1028.72 1759.43,1033.98 1762.59,1039.11 1765.75,1044.12 1768.91,1048.99 1772.07,1053.73 1775.23,1058.33 1778.39,1062.80 1781.55,1067.13 1784.71,1071.33 1787.87,1075.39 1791.03,1079.32 1794.19,1083.12 1797.35,1086.79 1800.51,1090.33 1803.67,1093.75 1806.83,1097.04 1809.99,1100.20 1813.15,1103.25 1816.31,1106.19 1819.47,1109.00 1822.63,1111.71 1825.79,1114.31 1828.95,1116.80 1832.11,1119.19 1835.27,1121.48 1838.43,1123.68 1841.59,1125.78 1844.75,1127.80 1847.91,1129.72 1851.07,1131.56 1854.23,1133.32 1857.39,1135.01 1860.55,1136.62 1863.71,1138.15 1866.87,1139.62 1870.03,1141.02 1873.19,1142.35 1876.35,1143.63 1879.51,1144.84 1882.67,1146.00 1885.83,1147.10 1888.99,1148.16 1892.15,1149.16 1895.31,1150.11 1898.46,1151.02 1901.62,1151.89 1904.78,1152.71 1907.94,1153.50 1911.10,1154.25 1914.26,1154.96 1917.42,1155.63 1920.58,1156.28 1923.74,1156.89 1926.90,1157.47 1930.06,1158.02 1933.22,1158.55 1936.38,1159.05 1939.54,1159.52 1942.70,1159.98 1945.86,1160.41 1949.02,1160.82 1952.18,1161.20 1955.34,1161.57 1958.50,1161.92 1961.66,1162.25 1964.82,1162.57 1967.98,1162.87 1971.14,1163.16 1974.30,1163.43" fill="none" stroke="#000000" stroke-width="2"/>
<polyline points="1345.50,1150.46 1348.66,1150.31 1351.82,1150.16 1354.98,1150.00 1358.14,1149.83 1361.30,1149.66 1364.46,1149.48 1367.62,1149.29 1370.78,1149.09 1373.94,1148.89 1377.10,1148.68 1380.26,1148.46 1383.42,1148.23 1386.58,1147.99 1389.74,1147.74 1392.90,1147.48 1396.06,1147.20 1399.22,1146.92 1402.38,1146.63 1405.54,1146.32 1408.70,1146.01 1411.86,1145.68 1415.02,1145.33 1418.18,1144.98 1421.34,1144.61 1424.49,1144.22 1427.65,1143.82 1430.81,1143.40 1433.97,1142.97 1437.13,1142.52 1440.29,1142.05 1443.45,1141.57 1446.61,1141.06 1449.77,1140.54 1452.93,1140.00 1456.09,1139.44 1459.25,1138.85 1462.41,1138.25 1465.57,1137.62 1468.73,1136.97 1471.89,1136.29 1475.05,1135.60 1478.21,1134.87 1481.37,1134.12 1484.53,1133.35 1487.69,1132.55 1490.85,1131.72 1494.01,1130.86 1497.17,1129.98 1500.33,1129.06 1503.49,1128.12 1506.65,1127.14 1509.81,1126.14 1512.97,1125.10 1516.13,1124.03 1519.29,1122.93 1522.45,1121.79 1525.61,1120.62 1528.77,1119.42 1531.93,1118.19 1535.09,1116.91 1538.25,1115.61 1541.41,1114.27 1544.57,1112.89 1547.73,1111.48 1550.89,1110.03 1554.05,1108.55 1557.21,1107.04 1560.37,1105.49 1563.53,1103.90 1566.69,1102.28 1569.85,1100.62 1573.01,1098.94 1576.17,1097.22 1579.33,1095.46 1582.48,1093.68 1585.64,1091.87 1588.80,1090.02 1591.96,1088.15 1595.12,1086.25 1598.28,1084.32 1601.44,1082.37 1604.60,1080.39 1607.76,1078.39 1610.92,1076.37 1614.08,1074.33 1617.24,1072.27 1620.40,1070.19 1623.56,1068.11 1626.72,1066.00 1629.88,1063.89 1633.04,1061.77 1636.20,1059.64 1639.36,1057.50 1642.52,1055.36 1645.68,1053.22 1648.84,1051.08 1652.00,1048.95 1655.16,1046.81 1658.32,1044.69 1661.48,1042.57 1664.64,1040.46 1667.80,1038.36 1670.96,1036.28 1674.12,1034.21 1677.28,1032.16 1680.44,1030.13 1683.60,1028.12 1686.76,1026.13 1689.92,1024.17 1693.08,1022.22 1696.24,1020.31 1699.40,1018.42 1702.56,1016.56 1705.72,1014.73 1708.88,1012.93 1712.04,1011.16 1715.20,1009.42 1718.36,1007.72 1721.52,1006.04 1724.68,1004.41 1727.84,1002.80 1731.00,1001.23 1734.16,999.70 1737.32,998.20 1740.47,996.73 1743.63,995.30 1746.79,993.91 1749.95,992.55 1753.11,991.22 1756.27,989.93 1759.43,988.68 1762.59,987.46 1765.75,986.27 1768.91,985.12 1772.07,984.00 1775.23,982.91 1778.39,981.86 1781.55,980.83 1784.71,979.84 1787.87,978.88 1791.03,977.95 1794.19,977.05 1797.35,976.18 1800.51,975.33 1803.67,974.52 1806.83,973.73 1809.99,972.97 1813.15,972.23 1816.31,971.52 1819.47,970.83 1822.63,970.17 1825.79,969.53 1828.95,968.91 1832.11,968.32 1835.27,967.74 1838.43,967.19 1841.59,966.66 1844.75,966.14 1847.91,965.65 1851.07,965.17 1854.23,964.71 1857.39,964.27 1860.55,963.84 1863.71,963.43 1866.87,963.04 1870.03,962.66 1873.19,962.30 1876.35,961.95 1879.51,961.61 1882.67,961.28 1885.83,960.97 1888.99,960.67 1892.15,960.39 1895.31,960.11 1898.46,959.84 1901.62,959.59 1904.78,959.34 1907.94,959.11 1911.10,958.88 1914.26,958.66 1917.42,958.45 1920.58,958.25 1923.74,958.06 1926.90,957.88 1930.06,957.70 1933.22,957.53 1936.38,957.37 1939.54,957.21 1942.70,957.06 1945.86,956.91 1949.02,956.78 1952.18,956.64 1955.34,956.52 1958.50,956.39 1961.66,956.28 1964.82,956.16 1967.98,956.06 1971.14,955.95 1974.30,955.85" fill="none" stroke="#000000" stroke-width="2"/>
<circle cx="1450.60" cy="661.78" r="3.5" fill="#fff" stroke="#ff0000" stroke-width="1.3"/>
<circle cx="1450.60" cy="1137.35" r="3.5" fill="#fff" stroke="#ff0000" stroke-width="1.3"/>
<circle cx="1488.45" cy="673.62" r="3.5" fill="#fff" stroke="#ff0000" stroke-width="1.3"/>
<circle cx="1488.45" cy="1129.57" r="3.5" fill="#fff" stroke="#ff0000" stroke-width="1.3"/>
<circle cx="1526.31" cy="689.50" r="3.5" fill="#fff" stroke="#ff0000" stroke-width="1.3"/>
<circle cx="1526.31" cy="1121.01" r="3.5" fill="#fff" stroke="#ff0000" stroke-width="1.3"/>
<circle cx="1548.46" cy="702.86" r="3.5" fill="#fff" stroke="#ff0000" stroke-width="1.3"/>
<circle cx="1548.46" cy="1112.71" r="3.5" fill="#fff" stroke="#ff0000" stroke-width="1.3"/>
<circle cx="1576.36" cy="729.07" r="3.5" fill="#fff" stroke="#ff0000" stroke-width="1.3"/>
<circle cx="1576.36" cy="1090.67" r="3.5" fill="#fff" stroke="#ff0000" stroke-width="1.3"/>
<circle cx="1614.21" cy="775.94" r="3.5" fill="#fff" stroke="#ff0000" stroke-width="1.3"/>
<circle cx="1614.21" cy="1073.29" r="3.5" fill="#fff" stroke="#ff0000" stroke-width="1.3"/>
<circle cx="1652.07" cy="846.89" r="3.5" fill="#fff" stroke="#ff0000" stroke-width="1.3"/>
<circle cx="1652.07" cy="1048.39" r="3.5" fill="#fff" stroke="#ff0000" stroke-width="1.3"/>
<circle cx="1674.22" cy="885.79" r="3.5" fill="#fff" stroke="#ff0000" stroke-width="1.3"/>
<circle cx="1674.22" cy="1033.61" r="3.5" fill="#fff" stroke="#ff0000" stroke-width="1.3"/>
<circle cx="1702.12" cy="941.55" r="3.5" fill="#fff" stroke="#ff0000" stroke-width="1.3"/>
<circle cx="1702.12" cy="1013.64" r="3.5" fill="#fff" stroke="#ff0000" stroke-width="1.3"/>
<circle cx="1739.97" cy="1014.16" r="3.5" fill="#fff" stroke="#ff0000" stroke-width="1.3"/>
<circle cx="1739.97" cy="990.82" r="3.5" fill="#fff" stroke="#ff0000" stroke-width="1.3"/>
<circle cx="1777.83" cy="1071.73" r="3.5" fill="#fff" stroke="#ff0000" stroke-width="1.3"/>
<circle cx="1777.83" cy="975.26" r="3.5" fill="#fff" stroke="#ff0000" stroke-width="1.3"/>
<circle cx="1799.98" cy="1093.26" r="3.5" fill="#fff" stroke="#ff0000" stroke-width="1.3"/>
<circle cx="1799.98" cy="969.56" r="3.5" fill="#fff" stroke="#ff0000" stroke-width="1.3"/>
<circle cx="1827.88" cy="1112.71" r="3.5" fill="#fff" stroke="#ff0000" stroke-width="1.3"/>
<circle cx="1827.88" cy="964.89" r="3.5" fill="#fff" stroke="#ff0000" stroke-width="1.3"/>
<polyline points="1345.50,663.12 1348.66,663.22 1351.82,663.32 1354.98,663.42 1358.14,663.54 1361.30,663.65 1364.46,663.78 1367.62,663.91 1370.78,664.05 1373.94,664.19 1377.10,664.34 1380.26,664.50 1383.42,664.67 1386.58,664.85 1389.74,665.04 1392.90,665.23 1396.06,665.44 1399.22,665.66 1402.38,665.88 1405.54,666.12 1408.70,666.38 1411.86,666.64 1415.02,666.92 1418.18,667.22 1421.34,667.53 1424.49,667.85 1427.65,668.20 1430.81,668.56 1433.97,668.93 1437.13,669.33 1440.29,669.75 1443.45,670.19 1446.61,670.65 1449.77,671.14 1452.93,671.65 1456.09,672.18 1459.25,672.75 1462.41,673.34 1465.57,673.96 1468.73,674.61 1471.89,675.30 1475.05,676.02 1478.21,676.78 1481.37,677.57 1484.53,678.40 1487.69,679.28 1490.85,680.19 1494.01,681.15 1497.17,682.16 1500.33,683.22 1503.49,684.33 1506.65,685.49 1509.81,686.71 1512.97,687.98 1516.13,689.32 1519.29,690.72 1522.45,692.18 1525.61,693.71 1528.77,695.31 1531.93,696.99 1535.09,698.74 1538.25,700.57 1541.41,702.48 1544.57,704.47 1547.73,706.55 1550.89,708.73 1554.05,710.99 1557.21,713.36 1560.37,715.82 1563.53,718.38 1566.69,721.05 1569.85,723.82 1573.01,726.70 1576.17,729.70 1579.33,732.81 1582.48,736.04 1585.64,739.39 1588.80,742.86 1591.96,746.46 1595.12,750.18 1598.28,754.03 1601.44,758.00 1604.60,762.10 1607.76,766.34 1610.92,770.70 1614.08,775.20 1617.24,779.82 1620.40,784.57 1623.56,789.45 1626.72,794.46 1629.88,799.59 1633.04,804.84 1636.20,810.21 1639.36,815.69 1642.52,821.29 1645.68,827.00 1648.84,832.81 1652.00,838.71 1655.16,844.71 1658.32,850.80 1661.48,856.96 1664.64,863.20 1667.80,869.50 1670.96,875.87 1674.12,882.28 1677.28,888.74 1680.44,895.23 1683.60,901.74 1686.76,908.28 1689.92,914.82 1693.08,921.36 1696.24,927.90 1699.40,934.41 1702.56,940.91 1705.72,947.36 1708.88,953.78 1712.04,960.14 1715.20,966.45 1718.36,972.69 1721.52,978.85 1724.68,984.94 1727.84,990.94 1731.00,996.85 1734.16,1002.66 1737.32,1008.37 1740.47,1013.97 1743.63,1019.46 1746.79,1024.83 1749.95,1030.09 1753.11,1035.22 1756.27,1040.23 1759.43,1045.11 1762.59,1049.87 1765.75,1054.49 1768.91,1058.99 1772.07,1063.36 1775.23,1067.59 1778.39,1071.70 1781.55,1075.68 1784.71,1079.53 1787.87,1083.25 1791.03,1086.85 1794.19,1090.32 1797.35,1093.68 1800.51,1096.91 1803.67,1100.02 1806.83,1103.02 1809.99,1105.91 1813.15,1108.69 1816.31,1111.36 1819.47,1113.92 1822.63,1116.39 1825.79,1118.75 1828.95,1121.02 1832.11,1123.19 1835.27,1125.28 1838.43,1127.28 1841.59,1129.19 1844.75,1131.02 1847.91,1132.77 1851.07,1134.45 1854.23,1136.05 1857.39,1137.59 1860.55,1139.05 1863.71,1140.45 1866.87,1141.79 1870.03,1143.06 1873.19,1144.28 1876.35,1145.44 1879.51,1146.55 1882.67,1147.61 1885.83,1148.62 1888.99,1149.58 1892.15,1150.50 1895.31,1151.38 1898.46,1152.21 1901.62,1153.00 1904.78,1153.76 1907.94,1154.48 1911.10,1155.17 1914.26,1155.82 1917.42,1156.45 1920.58,1157.04 1923.74,1157.60 1926.90,1158.14 1930.06,1158.65 1933.22,1159.14 1936.38,1159.60 1939.54,1160.04 1942.70,1160.46 1945.86,1160.86 1949.02,1161.24 1952.18,1161.60 1955.34,1161.94 1958.50,1162.26 1961.66,1162.57 1964.82,1162.87 1967.98,1163.15 1971.14,1163.42 1974.30,1163.67" fill="none" stroke="#ff0000" stroke-width="2"/>
<polyline points="1345.50,1149.18 1348.66,1149.04 1351.82,1148.89 1354.98,1148.73 1358.14,1148.57 1361.30,1148.40 1364.46,1148.23 1367.62,1148.04 1370.78,1147.85 1373.94,1147.65 1377.10,1147.44 1380.26,1147.23 1383.42,1147.00 1386.58,1146.76 1389.74,1146.52 1392.90,1146.26 1396.06,1146.00 1399.22,1145.72 1402.38,1145.43 1405.54,1145.13 1408.70,1144.82 1411.86,1144.49 1415.02,1144.15 1418.18,1143.80 1421.34,1143.43 1424.49,1143.05 1427.65,1142.65 1430.81,1142.24 1433.97,1141.81 1437.13,1141.36 1440.29,1140.90 1443.45,1140.42 1446.61,1139.91 1449.77,1139.39 1452.93,1138.85 1456.09,1138.29 1459.25,1137.71 1462.41,1137.11 1465.57,1136.48 1468.73,1135.83 1471.89,1135.15 1475.05,1134.45 1478.21,1133.73 1481.37,1132.98 1484.53,1132.20 1487.69,1131.40 1490.85,1130.57 1494.01,1129.70 1497.17,1128.81 1500.33,1127.89 1503.49,1126.94 1506.65,1125.96 1509.81,1124.94 1512.97,1123.89 1516.13,1122.81 1519.29,1121.70 1522.45,1120.55 1525.61,1119.37 1528.77,1118.15 1531.93,1116.90 1535.09,1115.61 1538.25,1114.28 1541.41,1112.92 1544.57,1111.52 1547.73,1110.09 1550.89,1108.62 1554.05,1107.11 1557.21,1105.56 1560.37,1103.98 1563.53,1102.37 1566.69,1100.71 1569.85,1099.03 1573.01,1097.30 1576.17,1095.55 1579.33,1093.76 1582.48,1091.93 1585.64,1090.08 1588.80,1088.19 1591.96,1086.27 1595.12,1084.33 1598.28,1082.35 1601.44,1080.35 1604.60,1078.33 1607.76,1076.28 1610.92,1074.21 1614.08,1072.12 1617.24,1070.01 1620.40,1067.88 1623.56,1065.74 1626.72,1063.58 1629.88,1061.42 1633.04,1059.24 1636.20,1057.06 1639.36,1054.87 1642.52,1052.67 1645.68,1050.48 1648.84,1048.29 1652.00,1046.10 1655.16,1043.91 1658.32,1041.73 1661.48,1039.56 1664.64,1037.40 1667.80,1035.26 1670.96,1033.13 1674.12,1031.01 1677.28,1028.91 1680.44,1026.84 1683.60,1024.78 1686.76,1022.75 1689.92,1020.74 1693.08,1018.76 1696.24,1016.81 1699.40,1014.88 1702.56,1012.99 1705.72,1011.12 1708.88,1009.29 1712.04,1007.49 1715.20,1005.72 1718.36,1003.99 1721.52,1002.29 1724.68,1000.63 1727.84,999.00 1731.00,997.41 1734.16,995.86 1737.32,994.34 1740.47,992.86 1743.63,991.41 1746.79,990.00 1749.95,988.63 1753.11,987.29 1756.27,985.99 1759.43,984.73 1762.59,983.50 1765.75,982.31 1768.91,981.15 1772.07,980.03 1775.23,978.94 1778.39,977.88 1781.55,976.85 1784.71,975.86 1787.87,974.90 1791.03,973.97 1794.19,973.07 1797.35,972.20 1800.51,971.36 1803.67,970.55 1806.83,969.76 1809.99,969.01 1813.15,968.27 1816.31,967.57 1819.47,966.89 1822.63,966.23 1825.79,965.59 1828.95,964.98 1832.11,964.39 1835.27,963.83 1838.43,963.28 1841.59,962.75 1844.75,962.25 1847.91,961.76 1851.07,961.29 1854.23,960.84 1857.39,960.41 1860.55,959.99 1863.71,959.59 1866.87,959.20 1870.03,958.83 1873.19,958.47 1876.35,958.13 1879.51,957.80 1882.67,957.48 1885.83,957.18 1888.99,956.88 1892.15,956.60 1895.31,956.33 1898.46,956.08 1901.62,955.83 1904.78,955.59 1907.94,955.36 1911.10,955.14 1914.26,954.93 1917.42,954.73 1920.58,954.53 1923.74,954.35 1926.90,954.17 1930.06,954.00 1933.22,953.83 1936.38,953.68 1939.54,953.52 1942.70,953.38 1945.86,953.24 1949.02,953.11 1952.18,952.98 1955.34,952.86 1958.50,952.74 1961.66,952.63 1964.82,952.52 1967.98,952.41 1971.14,952.32 1974.30,952.22" fill="none" stroke="#ff0000" stroke-width="2"/>
<path d="M1450.60,656.48L1455.40,664.88L1445.80,664.88Z" fill="#0000ff"/>
<path d="M1450.60,1129.45L1455.40,1137.85L1445.80,1137.85Z" fill="#0000ff"/>
<path d="M1488.45,666.56L1493.25,674.96L1483.65,674.96Z" fill="#0000ff"/>
<path d="M1488.45,1121.67L1493.25,1130.07L1483.65,1130.07Z" fill="#0000ff"/>
<path d="M1526.31,685.46L1531.11,693.86L1521.51,693.86Z" fill="#0000ff"/>
<path d="M1526.31,1111.30L1531.11,1119.70L1521.51,1119.70Z" fill="#0000ff"/>
<path d="M1548.46,700.58L1553.26,708.98L1543.66,708.98Z" fill="#0000ff"/>
<path d="M1548.46,1102.22L1553.26,1110.62L1543.66,1110.62Z" fill="#0000ff"/>
<path d="M1576.36,730.83L1581.16,739.23L1571.56,739.23Z" fill="#0000ff"/>
<path d="M1576.36,1082.77L1581.16,1091.17L1571.56,1091.17Z" fill="#0000ff"/>
<path d="M1614.21,788.79L1619.01,797.19L1609.41,797.19Z" fill="#0000ff"/>
<path d="M1614.21,1063.32L1619.01,1071.72L1609.41,1071.72Z" fill="#0000ff"/>
<path d="M1652.07,859.74L1656.87,868.14L1647.27,868.14Z" fill="#0000ff"/>
<path d="M1652.07,1036.87L1656.87,1045.27L1647.27,1045.27Z" fill="#0000ff"/>
<path d="M1674.22,904.61L1679.02,913.01L1669.42,913.01Z" fill="#0000ff"/>
<path d="M1674.22,1020.53L1679.02,1028.93L1669.42,1028.93Z" fill="#0000ff"/>
<path d="M1702.12,956.99L1706.92,965.39L1697.32,965.39Z" fill="#0000ff"/>
<path d="M1702.12,1002.38L1706.92,1010.78L1697.32,1010.78Z" fill="#0000ff"/>
<path d="M1739.97,1027.02L1744.77,1035.42L1735.17,1035.42Z" fill="#0000ff"/>
<path d="M1739.97,979.04L1744.77,987.44L1735.17,987.44Z" fill="#0000ff"/>
<path d="M1777.83,1077.59L1782.63,1085.99L1773.03,1085.99Z" fill="#0000ff"/>
<path d="M1777.83,963.48L1782.63,971.88L1773.03,971.88Z" fill="#0000ff"/>
<path d="M1799.98,1094.96L1804.78,1103.36L1795.18,1103.36Z" fill="#0000ff"/>
<path d="M1799.98,957.51L1804.78,965.91L1795.18,965.91Z" fill="#0000ff"/>
<path d="M1827.88,1111.30L1832.68,1119.70L1823.08,1119.70Z" fill="#0000ff"/>
<path d="M1827.88,953.10L1832.68,961.50L1823.08,961.50Z" fill="#0000ff"/>
<polyline points="1345.50,663.30 1348.66,663.41 1351.82,663.52 1354.98,663.64 1358.14,663.77 1361.30,663.90 1364.46,664.04 1367.62,664.18 1370.78,664.34 1373.94,664.50 1377.10,664.67 1380.26,664.85 1383.42,665.04 1386.58,665.24 1389.74,665.44 1392.90,665.66 1396.06,665.90 1399.22,666.14 1402.38,666.40 1405.54,666.67 1408.70,666.95 1411.86,667.25 1415.02,667.57 1418.18,667.90 1421.34,668.25 1424.49,668.62 1427.65,669.00 1430.81,669.41 1433.97,669.84 1437.13,670.28 1440.29,670.76 1443.45,671.25 1446.61,671.78 1449.77,672.33 1452.93,672.90 1456.09,673.51 1459.25,674.15 1462.41,674.82 1465.57,675.53 1468.73,676.27 1471.89,677.04 1475.05,677.86 1478.21,678.72 1481.37,679.62 1484.53,680.56 1487.69,681.55 1490.85,682.59 1494.01,683.69 1497.17,684.83 1500.33,686.03 1503.49,687.29 1506.65,688.61 1509.81,689.99 1512.97,691.44 1516.13,692.95 1519.29,694.54 1522.45,696.20 1525.61,697.93 1528.77,699.75 1531.93,701.64 1535.09,703.63 1538.25,705.70 1541.41,707.86 1544.57,710.12 1547.73,712.47 1550.89,714.92 1554.05,717.48 1557.21,720.14 1560.37,722.91 1563.53,725.80 1566.69,728.80 1569.85,731.91 1573.01,735.15 1576.17,738.50 1579.33,741.98 1582.48,745.59 1585.64,749.33 1588.80,753.19 1591.96,757.19 1595.12,761.31 1598.28,765.57 1601.44,769.97 1604.60,774.49 1607.76,779.15 1610.92,783.94 1614.08,788.87 1617.24,793.92 1620.40,799.10 1623.56,804.40 1626.72,809.83 1629.88,815.37 1633.04,821.03 1636.20,826.80 1639.36,832.68 1642.52,838.65 1645.68,844.72 1648.84,850.88 1652.00,857.12 1655.16,863.44 1658.32,869.82 1661.48,876.26 1664.64,882.75 1667.80,889.29 1670.96,895.86 1674.12,902.46 1677.28,909.07 1680.44,915.70 1683.60,922.32 1686.76,928.93 1689.92,935.52 1693.08,942.08 1696.24,948.61 1699.40,955.09 1702.56,961.52 1705.72,967.89 1708.88,974.18 1712.04,980.41 1715.20,986.54 1718.36,992.59 1721.52,998.54 1724.68,1004.39 1727.84,1010.14 1731.00,1015.77 1734.16,1021.29 1737.32,1026.68 1740.47,1031.96 1743.63,1037.11 1746.79,1042.13 1749.95,1047.02 1753.11,1051.78 1756.27,1056.40 1759.43,1060.90 1762.59,1065.26 1765.75,1069.49 1768.91,1073.58 1772.07,1077.55 1775.23,1081.38 1778.39,1085.09 1781.55,1088.66 1784.71,1092.11 1787.87,1095.44 1791.03,1098.65 1794.19,1101.73 1797.35,1104.70 1800.51,1107.56 1803.67,1110.31 1806.83,1112.94 1809.99,1115.48 1813.15,1117.90 1816.31,1120.23 1819.47,1122.47 1822.63,1124.61 1825.79,1126.66 1828.95,1128.62 1832.11,1130.50 1835.27,1132.29 1838.43,1134.01 1841.59,1135.65 1844.75,1137.22 1847.91,1138.72 1851.07,1140.15 1854.23,1141.51 1857.39,1142.82 1860.55,1144.06 1863.71,1145.25 1866.87,1146.38 1870.03,1147.46 1873.19,1148.49 1876.35,1149.47 1879.51,1150.40 1882.67,1151.29 1885.83,1152.14 1888.99,1152.95 1892.15,1153.72 1895.31,1154.45 1898.46,1155.14 1901.62,1155.81 1904.78,1156.44 1907.94,1157.04 1911.10,1157.61 1914.26,1158.15 1917.42,1158.67 1920.58,1159.16 1923.74,1159.63 1926.90,1160.07 1930.06,1160.49 1933.22,1160.89 1936.38,1161.27 1939.54,1161.64 1942.70,1161.98 1945.86,1162.31 1949.02,1162.62 1952.18,1162.92 1955.34,1163.20 1958.50,1163.47 1961.66,1163.72 1964.82,1163.96 1967.98,1164.19 1971.14,1164.41 1974.30,1164.61" fill="none" stroke="#0000ff" stroke-width="2"/>
<polyline points="1345.50,1145.97 1348.66,1145.84 1351.82,1145.70 1354.98,1145.55 1358.14,1145.40 1361.30,1145.24 1364.46,1145.08 1367.62,1144.90 1370.78,1144.72 1373.94,1144.53 1377.10,1144.33 1380.26,1144.13 1383.42,1143.91 1386.58,1143.69 1389.74,1143.45 1392.90,1143.21 1396.06,1142.95 1399.22,1142.69 1402.38,1142.41 1405.54,1142.12 1408.70,1141.82 1411.86,1141.50 1415.02,1141.18 1418.18,1140.83 1421.34,1140.48 1424.49,1140.10 1427.65,1139.72 1430.81,1139.31 1433.97,1138.89 1437.13,1138.46 1440.29,1138.00 1443.45,1137.53 1446.61,1137.03 1449.77,1136.52 1452.93,1135.98 1456.09,1135.43 1459.25,1134.85 1462.41,1134.25 1465.57,1133.63 1468.73,1132.98 1471.89,1132.30 1475.05,1131.60 1478.21,1130.88 1481.37,1130.13 1484.53,1129.34 1487.69,1128.53 1490.85,1127.69 1494.01,1126.82 1497.17,1125.92 1500.33,1124.99 1503.49,1124.02 1506.65,1123.02 1509.81,1121.99 1512.97,1120.92 1516.13,1119.82 1519.29,1118.68 1522.45,1117.50 1525.61,1116.29 1528.77,1115.04 1531.93,1113.75 1535.09,1112.42 1538.25,1111.05 1541.41,1109.65 1544.57,1108.20 1547.73,1106.72 1550.89,1105.20 1554.05,1103.63 1557.21,1102.03 1560.37,1100.39 1563.53,1098.71 1566.69,1096.99 1569.85,1095.23 1573.01,1093.44 1576.17,1091.61 1579.33,1089.74 1582.48,1087.83 1585.64,1085.90 1588.80,1083.92 1591.96,1081.92 1595.12,1079.89 1598.28,1077.82 1601.44,1075.73 1604.60,1073.61 1607.76,1071.47 1610.92,1069.30 1614.08,1067.12 1617.24,1064.91 1620.40,1062.69 1623.56,1060.45 1626.72,1058.20 1629.88,1055.94 1633.04,1053.67 1636.20,1051.39 1639.36,1049.11 1642.52,1046.83 1645.68,1044.55 1648.84,1042.27 1652.00,1040.00 1655.16,1037.73 1658.32,1035.47 1661.48,1033.23 1664.64,1031.00 1667.80,1028.79 1670.96,1026.59 1674.12,1024.41 1677.28,1022.26 1680.44,1020.13 1683.60,1018.03 1686.76,1015.95 1689.92,1013.90 1693.08,1011.89 1696.24,1009.90 1699.40,1007.95 1702.56,1006.03 1705.72,1004.14 1708.88,1002.30 1712.04,1000.48 1715.20,998.71 1718.36,996.97 1721.52,995.28 1724.68,993.62 1727.84,992.00 1731.00,990.42 1734.16,988.87 1737.32,987.37 1740.47,985.91 1743.63,984.49 1746.79,983.10 1749.95,981.76 1753.11,980.45 1756.27,979.18 1759.43,977.95 1762.59,976.76 1765.75,975.61 1768.91,974.49 1772.07,973.40 1775.23,972.35 1778.39,971.34 1781.55,970.36 1784.71,969.41 1787.87,968.49 1791.03,967.61 1794.19,966.75 1797.35,965.93 1800.51,965.14 1803.67,964.37 1806.83,963.63 1809.99,962.92 1813.15,962.24 1816.31,961.58 1819.47,960.94 1822.63,960.33 1825.79,959.74 1828.95,959.18 1832.11,958.63 1835.27,958.11 1838.43,957.61 1841.59,957.12 1844.75,956.66 1847.91,956.21 1851.07,955.79 1854.23,955.38 1857.39,954.98 1860.55,954.60 1863.71,954.24 1866.87,953.89 1870.03,953.56 1873.19,953.23 1876.35,952.93 1879.51,952.63 1882.67,952.35 1885.83,952.08 1888.99,951.82 1892.15,951.57 1895.31,951.33 1898.46,951.10 1901.62,950.88 1904.78,950.67 1907.94,950.47 1911.10,950.28 1914.26,950.09 1917.42,949.92 1920.58,949.75 1923.74,949.58 1926.90,949.43 1930.06,949.28 1933.22,949.14 1936.38,949.00 1939.54,948.87 1942.70,948.75 1945.86,948.63 1949.02,948.51 1952.18,948.40 1955.34,948.30 1958.50,948.20 1961.66,948.10 1964.82,948.01 1967.98,947.92 1971.14,947.84 1974.30,947.76" fill="none" stroke="#0000ff" stroke-width="2"/>
<path d="M1450.60,666.68L1454.70,659.78L1446.50,659.78Z" fill="none" stroke="#008000" stroke-width="1.25"/>
<path d="M1450.60,1137.06L1454.70,1130.16L1446.50,1130.16Z" fill="none" stroke="#008000" stroke-width="1.25"/>
<path d="M1488.45,679.28L1492.55,672.38L1484.35,672.38Z" fill="none" stroke="#008000" stroke-width="1.25"/>
<path d="M1488.45,1126.69L1492.55,1119.79L1484.35,1119.79Z" fill="none" stroke="#008000" stroke-width="1.25"/>
<path d="M1526.31,694.40L1530.41,687.50L1522.21,687.50Z" fill="none" stroke="#008000" stroke-width="1.25"/>
<path d="M1526.31,1115.53L1530.41,1108.63L1522.21,1108.63Z" fill="none" stroke="#008000" stroke-width="1.25"/>
<path d="M1548.46,714.56L1552.56,707.66L1544.36,707.66Z" fill="none" stroke="#008000" stroke-width="1.25"/>
<path d="M1548.46,1107.75L1552.56,1100.85L1544.36,1100.85Z" fill="none" stroke="#008000" stroke-width="1.25"/>
<path d="M1576.36,752.37L1580.46,745.47L1572.26,745.47Z" fill="none" stroke="#008000" stroke-width="1.25"/>
<path d="M1576.36,1089.08L1580.46,1082.18L1572.26,1082.18Z" fill="none" stroke="#008000" stroke-width="1.25"/>
<path d="M1614.21,811.59L1618.31,804.69L1610.11,804.69Z" fill="none" stroke="#008000" stroke-width="1.25"/>
<path d="M1614.21,1066.26L1618.31,1059.36L1610.11,1059.36Z" fill="none" stroke="#008000" stroke-width="1.25"/>
<path d="M1652.07,886.80L1656.17,879.90L1647.97,879.90Z" fill="none" stroke="#008000" stroke-width="1.25"/>
<path d="M1652.07,1039.29L1656.17,1032.39L1647.97,1032.39Z" fill="none" stroke="#008000" stroke-width="1.25"/>
<path d="M1674.22,939.19L1678.32,932.29L1670.12,932.29Z" fill="none" stroke="#008000" stroke-width="1.25"/>
<path d="M1674.22,1024.25L1678.32,1017.35L1670.12,1017.35Z" fill="none" stroke="#008000" stroke-width="1.25"/>
<path d="M1702.12,993.13L1706.22,986.23L1698.02,986.23Z" fill="none" stroke="#008000" stroke-width="1.25"/>
<path d="M1702.12,1003.50L1706.22,996.60L1698.02,996.60Z" fill="none" stroke="#008000" stroke-width="1.25"/>
<path d="M1739.97,1055.37L1744.07,1048.47L1735.87,1048.47Z" fill="none" stroke="#008000" stroke-width="1.25"/>
<path d="M1739.97,981.46L1744.07,974.56L1735.87,974.56Z" fill="none" stroke="#008000" stroke-width="1.25"/>
<path d="M1777.83,1100.75L1781.93,1093.85L1773.73,1093.85Z" fill="none" stroke="#008000" stroke-width="1.25"/>
<path d="M1777.83,967.19L1781.93,960.29L1773.73,960.29Z" fill="none" stroke="#008000" stroke-width="1.25"/>
<path d="M1799.98,1117.61L1804.08,1110.71L1795.88,1110.71Z" fill="none" stroke="#008000" stroke-width="1.25"/>
<path d="M1799.98,959.93L1804.08,953.03L1795.88,953.03Z" fill="none" stroke="#008000" stroke-width="1.25"/>
<path d="M1827.88,1131.87L1831.98,1124.97L1823.78,1124.97Z" fill="none" stroke="#008000" stroke-width="1.25"/>
<path d="M1827.88,955.52L1831.98,948.62L1823.78,948.62Z" fill="none" stroke="#008000" stroke-width="1.25"/>
<polyline points="1345.50,663.18 1348.66,663.28 1351.82,663.39 1354.98,663.51 1358.14,663.63 1361.30,663.76 1364.46,663.90 1367.62,664.04 1370.78,664.20 1373.94,664.36 1377.10,664.53 1380.26,664.71 1383.42,664.90 1386.58,665.10 1389.74,665.31 1392.90,665.53 1396.06,665.77 1399.22,666.02 1402.38,666.28 1405.54,666.56 1408.70,666.85 1411.86,667.15 1415.02,667.48 1418.18,667.82 1421.34,668.18 1424.49,668.56 1427.65,668.96 1430.81,669.39 1433.97,669.83 1437.13,670.30 1440.29,670.80 1443.45,671.32 1446.61,671.87 1449.77,672.45 1452.93,673.06 1456.09,673.70 1459.25,674.38 1462.41,675.09 1465.57,675.84 1468.73,676.64 1471.89,677.47 1475.05,678.34 1478.21,679.27 1481.37,680.24 1484.53,681.26 1487.69,682.33 1490.85,683.46 1494.01,684.64 1497.17,685.89 1500.33,687.19 1503.49,688.57 1506.65,690.01 1509.81,691.52 1512.97,693.11 1516.13,694.78 1519.29,696.53 1522.45,698.36 1525.61,700.27 1528.77,702.28 1531.93,704.39 1535.09,706.59 1538.25,708.89 1541.41,711.29 1544.57,713.81 1547.73,716.43 1550.89,719.17 1554.05,722.02 1557.21,725.00 1560.37,728.10 1563.53,731.33 1566.69,734.69 1569.85,738.18 1573.01,741.81 1576.17,745.57 1579.33,749.48 1582.48,753.52 1585.64,757.71 1588.80,762.04 1591.96,766.52 1595.12,771.14 1598.28,775.91 1601.44,780.82 1604.60,785.88 1607.76,791.07 1610.92,796.41 1614.08,801.89 1617.24,807.50 1620.40,813.24 1623.56,819.11 1626.72,825.10 1629.88,831.21 1633.04,837.43 1636.20,843.75 1639.36,850.17 1642.52,856.68 1645.68,863.27 1648.84,869.94 1652.00,876.67 1655.16,883.46 1658.32,890.29 1661.48,897.16 1664.64,904.06 1667.80,910.97 1670.96,917.88 1674.12,924.80 1677.28,931.70 1680.44,938.57 1683.60,945.41 1686.76,952.20 1689.92,958.94 1693.08,965.62 1696.24,972.22 1699.40,978.74 1702.56,985.18 1705.72,991.51 1708.88,997.75 1712.04,1003.87 1715.20,1009.88 1718.36,1015.76 1721.52,1021.52 1724.68,1027.15 1727.84,1032.65 1731.00,1038.00 1734.16,1043.22 1737.32,1048.30 1740.47,1053.23 1743.63,1058.01 1746.79,1062.66 1749.95,1067.15 1753.11,1071.51 1756.27,1075.71 1759.43,1079.78 1762.59,1083.70 1765.75,1087.48 1768.91,1091.13 1772.07,1094.64 1775.23,1098.02 1778.39,1101.26 1781.55,1104.38 1784.71,1107.37 1787.87,1110.25 1791.03,1113.00 1794.19,1115.64 1797.35,1118.17 1800.51,1120.59 1803.67,1122.90 1806.83,1125.12 1809.99,1127.23 1813.15,1129.26 1816.31,1131.19 1819.47,1133.03 1822.63,1134.79 1825.79,1136.46 1828.95,1138.06 1832.11,1139.59 1835.27,1141.04 1838.43,1142.42 1841.59,1143.74 1844.75,1144.99 1847.91,1146.19 1851.07,1147.32 1854.23,1148.40 1857.39,1149.43 1860.55,1150.40 1863.71,1151.33 1866.87,1152.21 1870.03,1153.05 1873.19,1153.85 1876.35,1154.61 1879.51,1155.32 1882.67,1156.01 1885.83,1156.65 1888.99,1157.27 1892.15,1157.85 1895.31,1158.41 1898.46,1158.93 1901.62,1159.43 1904.78,1159.91 1907.94,1160.35 1911.10,1160.78 1914.26,1161.18 1917.42,1161.57 1920.58,1161.93 1923.74,1162.28 1926.90,1162.60 1930.06,1162.91 1933.22,1163.21 1936.38,1163.48 1939.54,1163.75 1942.70,1164.00 1945.86,1164.23 1949.02,1164.46 1952.18,1164.67 1955.34,1164.87 1958.50,1165.07 1961.66,1165.25 1964.82,1165.42 1967.98,1165.58 1971.14,1165.73 1974.30,1165.88" fill="none" stroke="#008000" stroke-width="2"/>
<polyline points="1345.50,1140.36 1348.66,1140.25 1351.82,1140.13 1354.98,1140.00 1358.14,1139.87 1361.30,1139.73 1364.46,1139.58 1367.62,1139.43 1370.78,1139.27 1373.94,1139.10 1377.10,1138.92 1380.26,1138.74 1383.42,1138.55 1386.58,1138.35 1389.74,1138.14 1392.90,1137.92 1396.06,1137.69 1399.22,1137.45 1402.38,1137.19 1405.54,1136.93 1408.70,1136.65 1411.86,1136.37 1415.02,1136.06 1418.18,1135.75 1421.34,1135.42 1424.49,1135.08 1427.65,1134.72 1430.81,1134.34 1433.97,1133.95 1437.13,1133.54 1440.29,1133.11 1443.45,1132.67 1446.61,1132.20 1449.77,1131.71 1452.93,1131.21 1456.09,1130.68 1459.25,1130.13 1462.41,1129.55 1465.57,1128.96 1468.73,1128.33 1471.89,1127.68 1475.05,1127.01 1478.21,1126.30 1481.37,1125.57 1484.53,1124.81 1487.69,1124.02 1490.85,1123.20 1494.01,1122.34 1497.17,1121.46 1500.33,1120.53 1503.49,1119.58 1506.65,1118.59 1509.81,1117.56 1512.97,1116.49 1516.13,1115.39 1519.29,1114.25 1522.45,1113.07 1525.61,1111.85 1528.77,1110.59 1531.93,1109.28 1535.09,1107.94 1538.25,1106.55 1541.41,1105.12 1544.57,1103.65 1547.73,1102.13 1550.89,1100.57 1554.05,1098.97 1557.21,1097.32 1560.37,1095.63 1563.53,1093.90 1566.69,1092.12 1569.85,1090.30 1573.01,1088.44 1576.17,1086.54 1579.33,1084.60 1582.48,1082.62 1585.64,1080.60 1588.80,1078.54 1591.96,1076.45 1595.12,1074.33 1598.28,1072.17 1601.44,1069.98 1604.60,1067.77 1607.76,1065.52 1610.92,1063.25 1614.08,1060.96 1617.24,1058.65 1620.40,1056.32 1623.56,1053.98 1626.72,1051.62 1629.88,1049.25 1633.04,1046.88 1636.20,1044.49 1639.36,1042.11 1642.52,1039.73 1645.68,1037.35 1648.84,1034.97 1652.00,1032.60 1655.16,1030.25 1658.32,1027.90 1661.48,1025.58 1664.64,1023.27 1667.80,1020.98 1670.96,1018.71 1674.12,1016.47 1677.28,1014.26 1680.44,1012.07 1683.60,1009.92 1686.76,1007.80 1689.92,1005.71 1693.08,1003.66 1696.24,1001.64 1699.40,999.67 1702.56,997.73 1705.72,995.83 1708.88,993.98 1712.04,992.16 1715.20,990.39 1718.36,988.66 1721.52,986.98 1724.68,985.33 1727.84,983.73 1731.00,982.18 1734.16,980.67 1737.32,979.20 1740.47,977.77 1743.63,976.39 1746.79,975.05 1749.95,973.75 1753.11,972.49 1756.27,971.27 1759.43,970.10 1762.59,968.96 1765.75,967.86 1768.91,966.80 1772.07,965.78 1775.23,964.79 1778.39,963.84 1781.55,962.92 1784.71,962.03 1787.87,961.18 1791.03,960.36 1794.19,959.57 1797.35,958.82 1800.51,958.09 1803.67,957.39 1806.83,956.71 1809.99,956.07 1813.15,955.45 1816.31,954.85 1819.47,954.28 1822.63,953.73 1825.79,953.20 1828.95,952.70 1832.11,952.22 1835.27,951.75 1838.43,951.31 1841.59,950.88 1844.75,950.48 1847.91,950.08 1851.07,949.71 1854.23,949.35 1857.39,949.01 1860.55,948.68 1863.71,948.37 1866.87,948.07 1870.03,947.78 1873.19,947.51 1876.35,947.25 1879.51,946.99 1882.67,946.75 1885.83,946.53 1888.99,946.31 1892.15,946.10 1895.31,945.90 1898.46,945.71 1901.62,945.52 1904.78,945.35 1907.94,945.18 1911.10,945.02 1914.26,944.87 1917.42,944.72 1920.58,944.58 1923.74,944.45 1926.90,944.33 1930.06,944.20 1933.22,944.09 1936.38,943.98 1939.54,943.87 1942.70,943.77 1945.86,943.68 1949.02,943.59 1952.18,943.50 1955.34,943.41 1958.50,943.33 1961.66,943.26 1964.82,943.19 1967.98,943.12 1971.14,943.05 1974.30,942.99" fill="none" stroke="#008000" stroke-width="2"/>
<path d="M1345.50,660.30V1168.50H1974.30V660.30 M1345.50,1168.50h10.5 M1974.30,1168.50h-10.5 M1345.50,1117.78h5.5 M1974.30,1117.78h-5.5 M1345.50,1067.06h10.5 M1974.30,1067.06h-10.5 M1345.50,1016.34h5.5 M1974.30,1016.34h-5.5 M1345.50,965.62h10.5 M1974.30,965.62h-10.5 M1345.50,914.90h5.5 M1974.30,914.90h-5.5 M1345.50,864.18h10.5 M1974.30,864.18h-10.5 M1345.50,813.46h5.5 M1974.30,813.46h-5.5 M1345.50,762.74h10.5 M1974.30,762.74h-10.5 M1345.50,712.02h5.5 M1974.30,712.02h-5.5 M1345.50,661.30h10.5 M1974.30,661.30h-10.5 M1383.36,1168.50v-5.5 M1405.50,1168.50v-5.5 M1421.22,1168.50v-5.5 M1433.40,1168.50v-5.5 M1443.36,1168.50v-5.5 M1451.78,1168.50v-5.5 M1459.07,1168.50v-5.5 M1465.51,1168.50v-5.5 M1471.26,1168.50v-10.5 M1509.12,1168.50v-5.5 M1531.26,1168.50v-5.5 M1546.98,1168.50v-5.5 M1559.16,1168.50v-5.5 M1569.12,1168.50v-5.5 M1577.54,1168.50v-5.5 M1584.83,1168.50v-5.5 M1591.27,1168.50v-5.5 M1597.02,1168.50v-10.5 M1634.88,1168.50v-5.5 M1657.02,1168.50v-5.5 M1672.74,1168.50v-5.5 M1684.92,1168.50v-5.5 M1694.88,1168.50v-5.5 M1703.30,1168.50v-5.5 M1710.59,1168.50v-5.5 M1717.03,1168.50v-5.5 M1722.78,1168.50v-10.5 M1760.64,1168.50v-5.5 M1782.78,1168.50v-5.5 M1798.50,1168.50v-5.5 M1810.68,1168.50v-5.5 M1820.64,1168.50v-5.5 M1829.06,1168.50v-5.5 M1836.35,1168.50v-5.5 M1842.79,1168.50v-5.5 M1848.54,1168.50v-10.5 M1886.40,1168.50v-5.5 M1908.54,1168.50v-5.5 M1924.26,1168.50v-5.5 M1936.44,1168.50v-5.5 M1946.40,1168.50v-5.5 M1954.82,1168.50v-5.5 M1962.11,1168.50v-5.5 M1968.55,1168.50v-5.5" fill="none" stroke="#000" stroke-width="2"/>
<text x="1317.20" y="1175.70" text-anchor="middle" font-size="33">0</text>
<text x="1982.70" y="1175.00" font-size="33">0</text>
<text x="1317.20" y="1074.26" text-anchor="middle" font-size="33">0.2</text>
<text x="1982.70" y="1073.56" font-size="33">10</text>
<text x="1317.20" y="972.82" text-anchor="middle" font-size="33">0.4</text>
<text x="1982.70" y="972.12" font-size="33">20</text>
<text x="1317.20" y="871.38" text-anchor="middle" font-size="33">0.6</text>
<text x="1982.70" y="870.68" font-size="33">30</text>
<text x="1317.20" y="769.94" text-anchor="middle" font-size="33">0.8</text>
<text x="1982.70" y="769.24" font-size="33">40</text>
<text x="1317.20" y="668.50" text-anchor="middle" font-size="33">1.0</text>
<text x="1982.70" y="667.80" font-size="33">50</text>
<text x="1321.57" y="1202.20" font-size="33">1E-6</text>
<text x="1447.28" y="1202.20" font-size="33">1E-5</text>
<text x="1572.15" y="1202.20" font-size="33">1E-4</text>
<text x="1694.02" y="1202.20" font-size="33">0.001</text>
<text x="1827.53" y="1202.20" font-size="33">0.01</text>
<text x="1949.34" y="1202.20" font-size="33">0.1</text>
<line x1="1767.6" y1="687.4" x2="1821.7" y2="687.4" stroke="#000000" stroke-width="2"/>
<rect x="1791.30" y="683.90" width="7.0" height="7.0" fill="#000"/>
<text x="1831.66" y="697.60" font-style="italic" font-size="32">U</text>
<text x="1867.95" y="695.82" font-size="32" transform="translate(1876.99,685.20) scale(1.1,0.72) translate(-1876.99,-685.20)">=</text>
<text x="1896.19" y="697.60" font-size="32">1.0</text>
<line x1="1767.6" y1="718.3" x2="1821.7" y2="718.3" stroke="#ff0000" stroke-width="2"/>
<circle cx="1794.80" cy="718.30" r="3.5" fill="none" stroke="#ff0000" stroke-width="1.3"/>
<text x="1830.16" y="730.30" font-style="italic" font-size="32">U</text>
<text x="1867.95" y="728.52" font-size="32" transform="translate(1876.99,717.90) scale(1.1,0.72) translate(-1876.99,-717.90)">=</text>
<text x="1895.38" y="730.30" font-size="32">0.95</text>
<line x1="1767.6" y1="753.6" x2="1821.7" y2="753.6" stroke="#0000ff" stroke-width="2"/>
<path d="M1794.80,748.30L1799.60,756.70L1790.00,756.70Z" fill="#0000ff"/>
<text x="1828.36" y="765.60" font-style="italic" font-size="32">U</text>
<text x="1864.85" y="763.82" font-size="32" transform="translate(1873.89,753.20) scale(1.1,0.72) translate(-1873.89,-753.20)">=</text>
<text x="1892.38" y="765.60" font-size="32">0.8</text>
<line x1="1767.6" y1="787.1" x2="1821.7" y2="787.1" stroke="#008000" stroke-width="2"/>
<path d="M1794.80,792.00L1798.90,785.10L1790.70,785.10Z" fill="none" stroke="#008000" stroke-width="1.25"/>
<text x="1828.36" y="800.30" font-style="italic" font-size="32">U</text>
<text x="1864.85" y="798.52" font-size="32" transform="translate(1873.89,787.90) scale(1.1,0.72) translate(-1873.89,-787.90)">=</text>
<text x="1892.38" y="800.30" font-size="32">0.6</text>
<text x="1713.85" y="750.00" font-size="33">(e)</text>
<text transform="translate(1414.20,911.90) scale(1.2,0.87)" x="-0.98" y="0" font-style="italic" font-size="33">σ</text>
<text x="1431.71" y="923.80" font-size="33">m</text>
<text x="1435.34" y="908.60" font-style="italic" font-size="33">′</text>
<text x="1459.72" y="911.26" font-size="33" transform="translate(1469.05,900.30) scale(1.1,0.72) translate(-1469.05,-900.30)">=</text>
<text x="1486.50" y="912.90" font-size="33">100</text>
<text x="1540.47" y="911.90" font-size="33">kPa</text>
<text x="1419.65" y="960.00" font-style="italic" font-size="33">k</text>
<text x="1435.24" y="970.60" font-size="33">c</text>
<text x="1460.22" y="960.56" font-size="33" transform="translate(1469.55,949.60) scale(1.1,0.72) translate(-1469.55,-949.60)">=</text>
<text x="1487.40" y="962.10" font-size="33">1.4</text>
<text transform="translate(1278.00,1174.35) rotate(-90)" font-size="33">Dynamic shear modulus ratio, <tspan font-style="italic">G</tspan>/<tspan font-style="italic">G</tspan><tspan font-size="21" dy="4.5">max</tspan></text>
<text transform="translate(2057.70,1049.65) rotate(-90)" font-size="33">Damping ratio, <tspan font-style="italic">λ</tspan>%</text>
<text x="1563.79" y="1242.10" font-size="33">Shear strain, <tspan font-style="italic">γ</tspan></text>
</svg></body></html>
